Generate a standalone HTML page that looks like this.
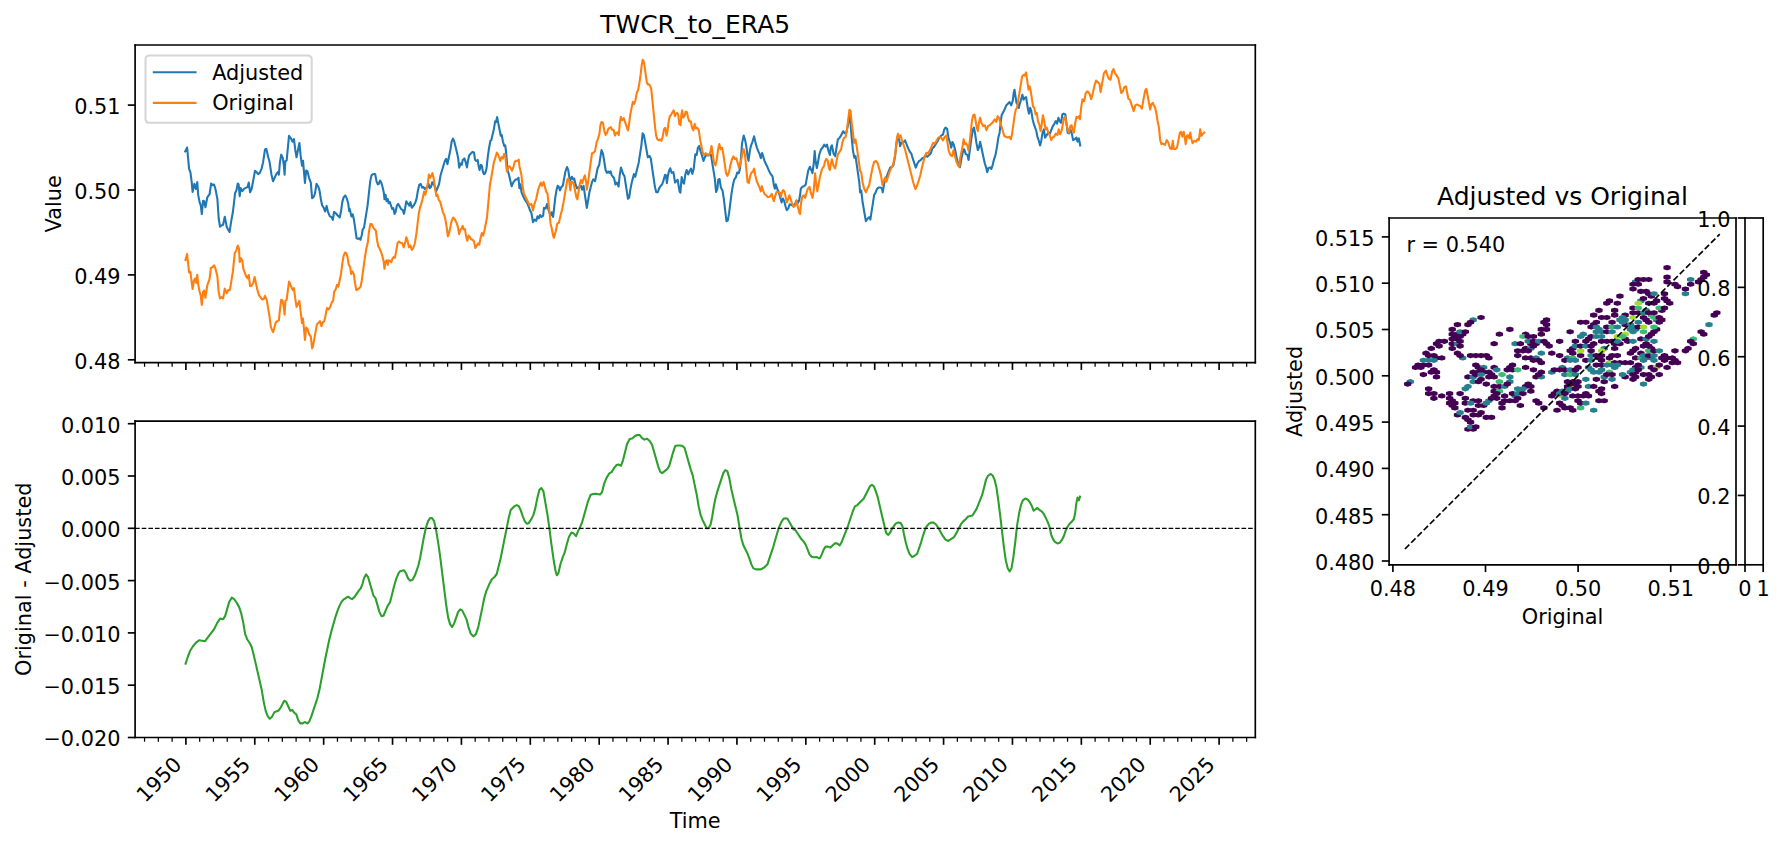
<!DOCTYPE html>
<html><head><meta charset="utf-8"><title>TWCR_to_ERA5</title>
<style>html,body{margin:0;padding:0;background:#fff}svg{display:block}</style></head>
<body>
<svg width="1784" height="848" viewBox="0 0 856.32 407.04">
 
 <defs>
  <style type="text/css">*{stroke-linejoin: round; stroke-linecap: butt}</style>
 </defs>
 <g id="figure_1">
  <g id="patch_1">
   <path d="M 0 407.04 
L 856.32 407.04 
L 856.32 0 
L 0 0 
z
" style="fill: #ffffff"/>
  </g>
  <g id="axes_1">
   <g id="patch_2">
    <path d="M 64.848 174.048 
L 602.544 174.048 
L 602.544 21.6 
L 64.848 21.6 
z
" style="fill: #ffffff"/>
   </g>
   <g id="matplotlib.axis_1">
    <g id="xtick_1">
     <g id="line2d_1">
      <defs>
       <path id="m099f7e1c39" d="M 0 0 
L 0 3.5 
" style="stroke: #000000; stroke-width: 0.8"/>
      </defs>
      <g>
       <use href="#m099f7e1c39" x="89.232" y="174.048" style="stroke: #000000; stroke-width: 0.8"/>
      </g>
     </g>
    </g>
    <g id="xtick_2">
     <g id="line2d_2">
      <g>
       <use href="#m099f7e1c39" x="122.2944" y="174.048" style="stroke: #000000; stroke-width: 0.8"/>
      </g>
     </g>
    </g>
    <g id="xtick_3">
     <g id="line2d_3">
      <g>
       <use href="#m099f7e1c39" x="155.3568" y="174.048" style="stroke: #000000; stroke-width: 0.8"/>
      </g>
     </g>
    </g>
    <g id="xtick_4">
     <g id="line2d_4">
      <g>
       <use href="#m099f7e1c39" x="188.4192" y="174.048" style="stroke: #000000; stroke-width: 0.8"/>
      </g>
     </g>
    </g>
    <g id="xtick_5">
     <g id="line2d_5">
      <g>
       <use href="#m099f7e1c39" x="221.4816" y="174.048" style="stroke: #000000; stroke-width: 0.8"/>
      </g>
     </g>
    </g>
    <g id="xtick_6">
     <g id="line2d_6">
      <g>
       <use href="#m099f7e1c39" x="254.544" y="174.048" style="stroke: #000000; stroke-width: 0.8"/>
      </g>
     </g>
    </g>
    <g id="xtick_7">
     <g id="line2d_7">
      <g>
       <use href="#m099f7e1c39" x="287.6064" y="174.048" style="stroke: #000000; stroke-width: 0.8"/>
      </g>
     </g>
    </g>
    <g id="xtick_8">
     <g id="line2d_8">
      <g>
       <use href="#m099f7e1c39" x="320.6688" y="174.048" style="stroke: #000000; stroke-width: 0.8"/>
      </g>
     </g>
    </g>
    <g id="xtick_9">
     <g id="line2d_9">
      <g>
       <use href="#m099f7e1c39" x="353.7312" y="174.048" style="stroke: #000000; stroke-width: 0.8"/>
      </g>
     </g>
    </g>
    <g id="xtick_10">
     <g id="line2d_10">
      <g>
       <use href="#m099f7e1c39" x="386.7936" y="174.048" style="stroke: #000000; stroke-width: 0.8"/>
      </g>
     </g>
    </g>
    <g id="xtick_11">
     <g id="line2d_11">
      <g>
       <use href="#m099f7e1c39" x="419.856" y="174.048" style="stroke: #000000; stroke-width: 0.8"/>
      </g>
     </g>
    </g>
    <g id="xtick_12">
     <g id="line2d_12">
      <g>
       <use href="#m099f7e1c39" x="452.9184" y="174.048" style="stroke: #000000; stroke-width: 0.8"/>
      </g>
     </g>
    </g>
    <g id="xtick_13">
     <g id="line2d_13">
      <g>
       <use href="#m099f7e1c39" x="485.9808" y="174.048" style="stroke: #000000; stroke-width: 0.8"/>
      </g>
     </g>
    </g>
    <g id="xtick_14">
     <g id="line2d_14">
      <g>
       <use href="#m099f7e1c39" x="519.0432" y="174.048" style="stroke: #000000; stroke-width: 0.8"/>
      </g>
     </g>
    </g>
    <g id="xtick_15">
     <g id="line2d_15">
      <g>
       <use href="#m099f7e1c39" x="552.1056" y="174.048" style="stroke: #000000; stroke-width: 0.8"/>
      </g>
     </g>
    </g>
    <g id="xtick_16">
     <g id="line2d_16">
      <g>
       <use href="#m099f7e1c39" x="585.168" y="174.048" style="stroke: #000000; stroke-width: 0.8"/>
      </g>
     </g>
    </g>
    <g id="xtick_17">
     <g id="line2d_17">
      <defs>
       <path id="me661bc850e" d="M 0 0 
L 0 2 
" style="stroke: #000000; stroke-width: 0.6"/>
      </defs>
      <g>
       <use href="#me661bc850e" x="69.39456" y="174.048" style="stroke: #000000; stroke-width: 0.6"/>
      </g>
     </g>
    </g>
    <g id="xtick_18">
     <g id="line2d_18">
      <g>
       <use href="#me661bc850e" x="76.00704" y="174.048" style="stroke: #000000; stroke-width: 0.6"/>
      </g>
     </g>
    </g>
    <g id="xtick_19">
     <g id="line2d_19">
      <g>
       <use href="#me661bc850e" x="82.61952" y="174.048" style="stroke: #000000; stroke-width: 0.6"/>
      </g>
     </g>
    </g>
    <g id="xtick_20">
     <g id="line2d_20">
      <g>
       <use href="#me661bc850e" x="95.84448" y="174.048" style="stroke: #000000; stroke-width: 0.6"/>
      </g>
     </g>
    </g>
    <g id="xtick_21">
     <g id="line2d_21">
      <g>
       <use href="#me661bc850e" x="102.45696" y="174.048" style="stroke: #000000; stroke-width: 0.6"/>
      </g>
     </g>
    </g>
    <g id="xtick_22">
     <g id="line2d_22">
      <g>
       <use href="#me661bc850e" x="109.06944" y="174.048" style="stroke: #000000; stroke-width: 0.6"/>
      </g>
     </g>
    </g>
    <g id="xtick_23">
     <g id="line2d_23">
      <g>
       <use href="#me661bc850e" x="115.68192" y="174.048" style="stroke: #000000; stroke-width: 0.6"/>
      </g>
     </g>
    </g>
    <g id="xtick_24">
     <g id="line2d_24">
      <g>
       <use href="#me661bc850e" x="128.90688" y="174.048" style="stroke: #000000; stroke-width: 0.6"/>
      </g>
     </g>
    </g>
    <g id="xtick_25">
     <g id="line2d_25">
      <g>
       <use href="#me661bc850e" x="135.51936" y="174.048" style="stroke: #000000; stroke-width: 0.6"/>
      </g>
     </g>
    </g>
    <g id="xtick_26">
     <g id="line2d_26">
      <g>
       <use href="#me661bc850e" x="142.13184" y="174.048" style="stroke: #000000; stroke-width: 0.6"/>
      </g>
     </g>
    </g>
    <g id="xtick_27">
     <g id="line2d_27">
      <g>
       <use href="#me661bc850e" x="148.74432" y="174.048" style="stroke: #000000; stroke-width: 0.6"/>
      </g>
     </g>
    </g>
    <g id="xtick_28">
     <g id="line2d_28">
      <g>
       <use href="#me661bc850e" x="161.96928" y="174.048" style="stroke: #000000; stroke-width: 0.6"/>
      </g>
     </g>
    </g>
    <g id="xtick_29">
     <g id="line2d_29">
      <g>
       <use href="#me661bc850e" x="168.58176" y="174.048" style="stroke: #000000; stroke-width: 0.6"/>
      </g>
     </g>
    </g>
    <g id="xtick_30">
     <g id="line2d_30">
      <g>
       <use href="#me661bc850e" x="175.19424" y="174.048" style="stroke: #000000; stroke-width: 0.6"/>
      </g>
     </g>
    </g>
    <g id="xtick_31">
     <g id="line2d_31">
      <g>
       <use href="#me661bc850e" x="181.80672" y="174.048" style="stroke: #000000; stroke-width: 0.6"/>
      </g>
     </g>
    </g>
    <g id="xtick_32">
     <g id="line2d_32">
      <g>
       <use href="#me661bc850e" x="195.03168" y="174.048" style="stroke: #000000; stroke-width: 0.6"/>
      </g>
     </g>
    </g>
    <g id="xtick_33">
     <g id="line2d_33">
      <g>
       <use href="#me661bc850e" x="201.64416" y="174.048" style="stroke: #000000; stroke-width: 0.6"/>
      </g>
     </g>
    </g>
    <g id="xtick_34">
     <g id="line2d_34">
      <g>
       <use href="#me661bc850e" x="208.25664" y="174.048" style="stroke: #000000; stroke-width: 0.6"/>
      </g>
     </g>
    </g>
    <g id="xtick_35">
     <g id="line2d_35">
      <g>
       <use href="#me661bc850e" x="214.86912" y="174.048" style="stroke: #000000; stroke-width: 0.6"/>
      </g>
     </g>
    </g>
    <g id="xtick_36">
     <g id="line2d_36">
      <g>
       <use href="#me661bc850e" x="228.09408" y="174.048" style="stroke: #000000; stroke-width: 0.6"/>
      </g>
     </g>
    </g>
    <g id="xtick_37">
     <g id="line2d_37">
      <g>
       <use href="#me661bc850e" x="234.70656" y="174.048" style="stroke: #000000; stroke-width: 0.6"/>
      </g>
     </g>
    </g>
    <g id="xtick_38">
     <g id="line2d_38">
      <g>
       <use href="#me661bc850e" x="241.31904" y="174.048" style="stroke: #000000; stroke-width: 0.6"/>
      </g>
     </g>
    </g>
    <g id="xtick_39">
     <g id="line2d_39">
      <g>
       <use href="#me661bc850e" x="247.93152" y="174.048" style="stroke: #000000; stroke-width: 0.6"/>
      </g>
     </g>
    </g>
    <g id="xtick_40">
     <g id="line2d_40">
      <g>
       <use href="#me661bc850e" x="261.15648" y="174.048" style="stroke: #000000; stroke-width: 0.6"/>
      </g>
     </g>
    </g>
    <g id="xtick_41">
     <g id="line2d_41">
      <g>
       <use href="#me661bc850e" x="267.76896" y="174.048" style="stroke: #000000; stroke-width: 0.6"/>
      </g>
     </g>
    </g>
    <g id="xtick_42">
     <g id="line2d_42">
      <g>
       <use href="#me661bc850e" x="274.38144" y="174.048" style="stroke: #000000; stroke-width: 0.6"/>
      </g>
     </g>
    </g>
    <g id="xtick_43">
     <g id="line2d_43">
      <g>
       <use href="#me661bc850e" x="280.99392" y="174.048" style="stroke: #000000; stroke-width: 0.6"/>
      </g>
     </g>
    </g>
    <g id="xtick_44">
     <g id="line2d_44">
      <g>
       <use href="#me661bc850e" x="294.21888" y="174.048" style="stroke: #000000; stroke-width: 0.6"/>
      </g>
     </g>
    </g>
    <g id="xtick_45">
     <g id="line2d_45">
      <g>
       <use href="#me661bc850e" x="300.83136" y="174.048" style="stroke: #000000; stroke-width: 0.6"/>
      </g>
     </g>
    </g>
    <g id="xtick_46">
     <g id="line2d_46">
      <g>
       <use href="#me661bc850e" x="307.44384" y="174.048" style="stroke: #000000; stroke-width: 0.6"/>
      </g>
     </g>
    </g>
    <g id="xtick_47">
     <g id="line2d_47">
      <g>
       <use href="#me661bc850e" x="314.05632" y="174.048" style="stroke: #000000; stroke-width: 0.6"/>
      </g>
     </g>
    </g>
    <g id="xtick_48">
     <g id="line2d_48">
      <g>
       <use href="#me661bc850e" x="327.28128" y="174.048" style="stroke: #000000; stroke-width: 0.6"/>
      </g>
     </g>
    </g>
    <g id="xtick_49">
     <g id="line2d_49">
      <g>
       <use href="#me661bc850e" x="333.89376" y="174.048" style="stroke: #000000; stroke-width: 0.6"/>
      </g>
     </g>
    </g>
    <g id="xtick_50">
     <g id="line2d_50">
      <g>
       <use href="#me661bc850e" x="340.50624" y="174.048" style="stroke: #000000; stroke-width: 0.6"/>
      </g>
     </g>
    </g>
    <g id="xtick_51">
     <g id="line2d_51">
      <g>
       <use href="#me661bc850e" x="347.11872" y="174.048" style="stroke: #000000; stroke-width: 0.6"/>
      </g>
     </g>
    </g>
    <g id="xtick_52">
     <g id="line2d_52">
      <g>
       <use href="#me661bc850e" x="360.34368" y="174.048" style="stroke: #000000; stroke-width: 0.6"/>
      </g>
     </g>
    </g>
    <g id="xtick_53">
     <g id="line2d_53">
      <g>
       <use href="#me661bc850e" x="366.95616" y="174.048" style="stroke: #000000; stroke-width: 0.6"/>
      </g>
     </g>
    </g>
    <g id="xtick_54">
     <g id="line2d_54">
      <g>
       <use href="#me661bc850e" x="373.56864" y="174.048" style="stroke: #000000; stroke-width: 0.6"/>
      </g>
     </g>
    </g>
    <g id="xtick_55">
     <g id="line2d_55">
      <g>
       <use href="#me661bc850e" x="380.18112" y="174.048" style="stroke: #000000; stroke-width: 0.6"/>
      </g>
     </g>
    </g>
    <g id="xtick_56">
     <g id="line2d_56">
      <g>
       <use href="#me661bc850e" x="393.40608" y="174.048" style="stroke: #000000; stroke-width: 0.6"/>
      </g>
     </g>
    </g>
    <g id="xtick_57">
     <g id="line2d_57">
      <g>
       <use href="#me661bc850e" x="400.01856" y="174.048" style="stroke: #000000; stroke-width: 0.6"/>
      </g>
     </g>
    </g>
    <g id="xtick_58">
     <g id="line2d_58">
      <g>
       <use href="#me661bc850e" x="406.63104" y="174.048" style="stroke: #000000; stroke-width: 0.6"/>
      </g>
     </g>
    </g>
    <g id="xtick_59">
     <g id="line2d_59">
      <g>
       <use href="#me661bc850e" x="413.24352" y="174.048" style="stroke: #000000; stroke-width: 0.6"/>
      </g>
     </g>
    </g>
    <g id="xtick_60">
     <g id="line2d_60">
      <g>
       <use href="#me661bc850e" x="426.46848" y="174.048" style="stroke: #000000; stroke-width: 0.6"/>
      </g>
     </g>
    </g>
    <g id="xtick_61">
     <g id="line2d_61">
      <g>
       <use href="#me661bc850e" x="433.08096" y="174.048" style="stroke: #000000; stroke-width: 0.6"/>
      </g>
     </g>
    </g>
    <g id="xtick_62">
     <g id="line2d_62">
      <g>
       <use href="#me661bc850e" x="439.69344" y="174.048" style="stroke: #000000; stroke-width: 0.6"/>
      </g>
     </g>
    </g>
    <g id="xtick_63">
     <g id="line2d_63">
      <g>
       <use href="#me661bc850e" x="446.30592" y="174.048" style="stroke: #000000; stroke-width: 0.6"/>
      </g>
     </g>
    </g>
    <g id="xtick_64">
     <g id="line2d_64">
      <g>
       <use href="#me661bc850e" x="459.53088" y="174.048" style="stroke: #000000; stroke-width: 0.6"/>
      </g>
     </g>
    </g>
    <g id="xtick_65">
     <g id="line2d_65">
      <g>
       <use href="#me661bc850e" x="466.14336" y="174.048" style="stroke: #000000; stroke-width: 0.6"/>
      </g>
     </g>
    </g>
    <g id="xtick_66">
     <g id="line2d_66">
      <g>
       <use href="#me661bc850e" x="472.75584" y="174.048" style="stroke: #000000; stroke-width: 0.6"/>
      </g>
     </g>
    </g>
    <g id="xtick_67">
     <g id="line2d_67">
      <g>
       <use href="#me661bc850e" x="479.36832" y="174.048" style="stroke: #000000; stroke-width: 0.6"/>
      </g>
     </g>
    </g>
    <g id="xtick_68">
     <g id="line2d_68">
      <g>
       <use href="#me661bc850e" x="492.59328" y="174.048" style="stroke: #000000; stroke-width: 0.6"/>
      </g>
     </g>
    </g>
    <g id="xtick_69">
     <g id="line2d_69">
      <g>
       <use href="#me661bc850e" x="499.20576" y="174.048" style="stroke: #000000; stroke-width: 0.6"/>
      </g>
     </g>
    </g>
    <g id="xtick_70">
     <g id="line2d_70">
      <g>
       <use href="#me661bc850e" x="505.81824" y="174.048" style="stroke: #000000; stroke-width: 0.6"/>
      </g>
     </g>
    </g>
    <g id="xtick_71">
     <g id="line2d_71">
      <g>
       <use href="#me661bc850e" x="512.43072" y="174.048" style="stroke: #000000; stroke-width: 0.6"/>
      </g>
     </g>
    </g>
    <g id="xtick_72">
     <g id="line2d_72">
      <g>
       <use href="#me661bc850e" x="525.65568" y="174.048" style="stroke: #000000; stroke-width: 0.6"/>
      </g>
     </g>
    </g>
    <g id="xtick_73">
     <g id="line2d_73">
      <g>
       <use href="#me661bc850e" x="532.26816" y="174.048" style="stroke: #000000; stroke-width: 0.6"/>
      </g>
     </g>
    </g>
    <g id="xtick_74">
     <g id="line2d_74">
      <g>
       <use href="#me661bc850e" x="538.88064" y="174.048" style="stroke: #000000; stroke-width: 0.6"/>
      </g>
     </g>
    </g>
    <g id="xtick_75">
     <g id="line2d_75">
      <g>
       <use href="#me661bc850e" x="545.49312" y="174.048" style="stroke: #000000; stroke-width: 0.6"/>
      </g>
     </g>
    </g>
    <g id="xtick_76">
     <g id="line2d_76">
      <g>
       <use href="#me661bc850e" x="558.71808" y="174.048" style="stroke: #000000; stroke-width: 0.6"/>
      </g>
     </g>
    </g>
    <g id="xtick_77">
     <g id="line2d_77">
      <g>
       <use href="#me661bc850e" x="565.33056" y="174.048" style="stroke: #000000; stroke-width: 0.6"/>
      </g>
     </g>
    </g>
    <g id="xtick_78">
     <g id="line2d_78">
      <g>
       <use href="#me661bc850e" x="571.94304" y="174.048" style="stroke: #000000; stroke-width: 0.6"/>
      </g>
     </g>
    </g>
    <g id="xtick_79">
     <g id="line2d_79">
      <g>
       <use href="#me661bc850e" x="578.55552" y="174.048" style="stroke: #000000; stroke-width: 0.6"/>
      </g>
     </g>
    </g>
    <g id="xtick_80">
     <g id="line2d_80">
      <g>
       <use href="#me661bc850e" x="591.78048" y="174.048" style="stroke: #000000; stroke-width: 0.6"/>
      </g>
     </g>
    </g>
    <g id="xtick_81">
     <g id="line2d_81">
      <g>
       <use href="#me661bc850e" x="598.39296" y="174.048" style="stroke: #000000; stroke-width: 0.6"/>
      </g>
     </g>
    </g>
   </g>
   <g id="matplotlib.axis_2">
    <g id="ytick_1">
     <g id="line2d_82">
      <defs>
       <path id="m580b80756e" d="M 0 0 
L -3.5 0 
" style="stroke: #000000; stroke-width: 0.8"/>
      </defs>
      <g>
       <use href="#m580b80756e" x="64.848" y="172.704" style="stroke: #000000; stroke-width: 0.8"/>
      </g>
     </g>
     <g id="text_1">
      <text style="font-size: 10px; font-family: 'DejaVu Sans', 'Liberation Sans', sans-serif; text-anchor: end" x="57.848" y="176.983219" transform="rotate(-0 57.848 176.983219)">0.48</text>
     </g>
    </g>
    <g id="ytick_2">
     <g id="line2d_83">
      <g>
       <use href="#m580b80756e" x="64.848" y="131.952" style="stroke: #000000; stroke-width: 0.8"/>
      </g>
     </g>
     <g id="text_2">
      <text style="font-size: 10px; font-family: 'DejaVu Sans', 'Liberation Sans', sans-serif; text-anchor: end" x="57.848" y="136.231219" transform="rotate(-0 57.848 136.231219)">0.49</text>
     </g>
    </g>
    <g id="ytick_3">
     <g id="line2d_84">
      <g>
       <use href="#m580b80756e" x="64.848" y="91.2" style="stroke: #000000; stroke-width: 0.8"/>
      </g>
     </g>
     <g id="text_3">
      <text style="font-size: 10px; font-family: 'DejaVu Sans', 'Liberation Sans', sans-serif; text-anchor: end" x="57.848" y="95.479219" transform="rotate(-0 57.848 95.479219)">0.50</text>
     </g>
    </g>
    <g id="ytick_4">
     <g id="line2d_85">
      <g>
       <use href="#m580b80756e" x="64.848" y="50.448" style="stroke: #000000; stroke-width: 0.8"/>
      </g>
     </g>
     <g id="text_4">
      <text style="font-size: 10px; font-family: 'DejaVu Sans', 'Liberation Sans', sans-serif; text-anchor: end" x="57.848" y="54.727219" transform="rotate(-0 57.848 54.727219)">0.51</text>
     </g>
    </g>
    <g id="text_5">
     <text style="font-size: 10px; font-family: 'DejaVu Sans', 'Liberation Sans', sans-serif; text-anchor: middle" x="29.502688" y="97.824" transform="rotate(-90 29.502688 97.824)">Value</text>
    </g>
   </g>
   <g id="line2d_86">
    <path d="M 88.891484 72.677372 
L 89.825791 70.808759 
L 90.760097 81.086131 
L 91.382968 82.643309 
L 92.005839 87.314842 
L 92.441849 92.173236 
L 93.251582 88.249148 
L 93.999027 90.740633 
L 94.684185 87.439416 
L 95.120195 93.543552 
L 95.86764 97.280779 
L 96.365937 98.526521 
L 96.864234 102.762044 
L 97.487105 96.346472 
L 97.985401 96.533333 
L 98.608273 99.460827 
L 99.480292 94.789294 
L 100.60146 93.232117 
L 101.348905 88.062287 
L 102.09635 88.872019 
L 102.719221 88.560584 
L 103.342092 90.429197 
L 104.338686 95.412165 
L 104.961557 104.755231 
L 105.584428 108.803893 
L 106.331873 108.181022 
L 107.079319 107.869586 
L 107.889051 104.007786 
L 108.823358 108.803893 
L 109.570803 110.361071 
L 110.193674 111.295377 
L 111.003406 106.000973 
L 111.813139 101.640876 
L 112.872019 92.609246 
L 113.494891 91.363504 
L 114.117762 88.062287 
L 114.553771 88.560584 
L 115.052068 94.166423 
L 115.550365 90.304623 
L 116.29781 91.674939 
L 117.232117 90.553771 
L 118.789294 89.806326 
L 119.412165 87.626277 
L 120.035036 92.29781 
L 120.782482 90.740633 
L 122.401946 82.020438 
L 123.149392 82.643309 
L 123.896837 83.577616 
L 124.706569 82.954745 
L 125.516302 81.086131 
L 126.263747 77.971776 
L 127.198054 71.743066 
L 127.820925 71.43163 
L 128.755231 75.480292 
L 129.378102 77.660341 
L 130.312409 83.889051 
L 131.059854 87.003406 
L 132.617032 83.577616 
L 133.551338 82.456448 
L 133.862774 83.889051 
L 134.361071 77.971776 
L 134.983942 74.23455 
L 135.731387 75.791727 
L 136.229684 79.217518 
L 136.603406 83.889051 
L 136.977129 77.348905 
L 137.6 77.03747 
L 138.721168 65.20292 
L 139.655474 66.448662 
L 140.465207 68.005839 
L 141.088078 66.760097 
L 141.710949 71.743066 
L 142.33382 75.480292 
L 143.704136 68.62871 
L 144.327007 74.857421 
L 144.949878 79.528954 
L 145.448175 77.224331 
L 146.382482 87.813139 
L 146.943066 81.833577 
L 147.565937 82.207299 
L 148.375669 85.446229 
L 149.185401 87.626277 
L 149.808273 95.10073 
L 150.555718 94.477859 
L 151.178589 92.920681 
L 151.926034 88.249148 
L 152.735766 89.494891 
L 153.358637 91.363504 
L 153.981509 95.412165 
L 154.60438 98.526521 
L 155.414112 99.772263 
L 156.036983 101.516302 
L 156.784428 98.837956 
L 157.407299 101.640876 
L 158.341606 103.820925 
L 159.151338 104.256934 
L 159.774209 105.502676 
L 160.334793 101.76545 
L 161.144526 102.263747 
L 161.891971 103.198054 
L 163.071533 104.389294 
L 163.694404 101.274939 
L 164.317275 96.914842 
L 164.940146 94.734793 
L 165.749878 93.800487 
L 166.497324 95.357664 
L 167.120195 97.537713 
L 167.618491 101.274939 
L 167.86764 100.340633 
L 168.677372 103.890998 
L 169.300243 102.832117 
L 169.923114 105.635036 
L 171.168856 114.355231 
L 171.791727 114.666667 
L 172.414599 114.355231 
L 173.03747 115.102676 
L 173.660341 112.798054 
L 174.09635 110.119708 
L 174.719221 109.372263 
L 176.46326 98.472019 
L 177.709002 86.948905 
L 178.331873 84.145985 
L 179.141606 83.523114 
L 180.075912 83.523114 
L 180.698783 86.948905 
L 181.321655 88.506083 
L 181.819951 88.319221 
L 182.380535 86.63747 
L 183.003406 87.571776 
L 183.626277 89.751825 
L 184.249148 92.554745 
L 184.560584 95.6691 
L 185.058881 93.489051 
L 185.557178 96.603406 
L 186.117762 95.544526 
L 186.553771 97.537713 
L 187.052068 96.914842 
L 188.29781 100.340633 
L 188.796107 99.904623 
L 189.356691 102.645255 
L 189.854988 101.89781 
L 190.477859 98.783455 
L 191.10073 97.849148 
L 192.533333 100.340633 
L 193.280779 100.776642 
L 193.90365 102.645255 
L 194.401946 100.340633 
L 195.024818 96.603406 
L 196.395134 98.658881 
L 197.018005 97.039416 
L 197.640876 99.717762 
L 198.575182 98.658881 
L 199.384915 97.226277 
L 200.007786 95.046229 
L 200.630657 91.309002 
L 201.253528 88.692944 
L 202.000973 88.319221 
L 202.623844 90.06326 
L 203.246715 89.751825 
L 203.869586 90.686131 
L 204.617032 90.06326 
L 205.239903 89.751825 
L 205.7382 88.319221 
L 206.236496 90.374696 
L 206.859367 89.751825 
L 207.482238 87.447202 
L 208.105109 88.319221 
L 208.727981 89.564964 
L 209.350852 91.807299 
L 210.721168 88.506083 
L 211.468613 84.145985 
L 213.524088 77.294404 
L 214.146959 76.235523 
L 214.76983 78.851582 
L 216.182968 71.980535 
L 216.805839 67.931873 
L 217.42871 66.561557 
L 218.051582 67.931873 
L 219.421898 73.537713 
L 219.920195 76.029197 
L 220.418491 80.513869 
L 221.041363 78.520681 
L 221.664234 79.143552 
L 222.100243 76.776642 
L 222.909976 76.029197 
L 223.532847 77.89781 
L 224.155718 80.389294 
L 224.591727 77.274939 
L 225.214599 74.472019 
L 226.771776 72.914842 
L 227.519221 73.226277 
L 228.017518 76.652068 
L 228.640389 77.274939 
L 229.26326 76.776642 
L 229.761557 79.766423 
L 230.197567 81.635036 
L 230.820438 79.143552 
L 231.256448 79.454988 
L 231.754745 82.257908 
L 232.253041 83.628224 
L 232.875912 83.192214 
L 233.498783 81.012165 
L 234.121655 75.406326 
L 234.744526 71.046229 
L 235.367397 67.620438 
L 235.803406 67.309002 
L 237.049148 62.014599 
L 237.672019 58.277372 
L 238.108029 58.588808 
L 238.606326 56.221898 
L 240.350365 65.128954 
L 240.786375 64.692944 
L 241.409246 67.931873 
L 242.032117 70.111922 
L 242.530414 69.800487 
L 242.966423 73.537713 
L 243.589294 81.635036 
L 244.212165 83.50365 
L 245.582482 89.420925 
L 246.392214 87.552311 
L 247.326521 86.306569 
L 248.260827 85.995134 
L 248.883698 85.372263 
L 249.319708 90.355231 
L 249.818005 88.486618 
L 250.316302 92.223844 
L 251.063747 94.092457 
L 251.998054 95.961071 
L 252.93236 97.206813 
L 253.866667 99.386861 
L 254.271533 100.706569 
L 255.081265 102.263747 
L 255.82871 106.623844 
L 256.576156 105.378102 
L 257.385888 106.000973 
L 258.008759 103.820925 
L 258.63163 104.755231 
L 259.254501 103.198054 
L 259.877372 104.13236 
L 260.687105 103.509489 
L 261.123114 99.772263 
L 261.932847 100.083698 
L 262.555718 97.90365 
L 263.178589 100.395134 
L 264.23747 103.509489 
L 264.860341 101.952311 
L 265.483212 104.13236 
L 266.542092 94.789294 
L 267.164964 91.052068 
L 267.66326 89.183455 
L 268.286131 89.806326 
L 268.784428 91.363504 
L 269.407299 89.806326 
L 270.154745 89.183455 
L 271.400487 82.331873 
L 272.147932 80.151825 
L 272.770803 81.709002 
L 273.2691 85.134793 
L 273.891971 86.380535 
L 274.514842 84.823358 
L 275.137713 86.0691 
L 275.63601 85.757664 
L 276.258881 88.560584 
L 277.006326 90.429197 
L 278.874939 89.183455 
L 279.373236 91.052068 
L 280.120681 89.183455 
L 281.677859 99.772263 
L 282.923601 92.29781 
L 284.169343 87.314842 
L 284.792214 86.0691 
L 285.601946 87.003406 
L 286.847689 80.774696 
L 287.595134 79.217518 
L 288.716302 72.054501 
L 289.463747 73.923114 
L 290.709489 81.709002 
L 291.33236 82.954745 
L 291.955231 82.331873 
L 292.453528 82.954745 
L 293.076399 82.207299 
L 293.512409 83.889051 
L 294.13528 84.823358 
L 294.758151 85.446229 
L 295.381022 88.560584 
L 296.003893 87.626277 
L 296.9382 89.494891 
L 297.436496 84.200487 
L 298.059367 80.46326 
L 299.118248 83.577616 
L 299.741119 84.511922 
L 301.422871 95.412165 
L 302.045742 94.789294 
L 302.544039 91.052068 
L 303.16691 87.937713 
L 304.288078 83.577616 
L 304.910949 84.823358 
L 306.592701 77.971776 
L 307.838443 69.874453 
L 308.461314 63.957178 
L 309.084185 64.891484 
L 310.952798 75.480292 
L 311.76253 74.857421 
L 312.385401 76.103163 
L 314.378589 89.806326 
L 315.00146 92.29781 
L 315.748905 92.29781 
L 316.371776 90.429197 
L 317.181509 89.183455 
L 317.80438 88.560584 
L 318.427251 86.691971 
L 319.236983 83.889051 
L 319.672993 84.200487 
L 320.109002 87.937713 
L 320.607299 84.200487 
L 321.23017 81.709002 
L 321.728467 80.774696 
L 322.351338 82.954745 
L 323.223358 82.643309 
L 324.03309 87.626277 
L 324.655961 86.691971 
L 325.278832 86.380535 
L 326.213139 91.986375 
L 326.582968 92.480779 
L 327.205839 85.006326 
L 327.82871 87.49781 
L 328.327007 88.120681 
L 328.949878 83.760584 
L 329.572749 81.580535 
L 330.320195 83.760584 
L 330.943066 82.203406 
L 331.690511 80.957664 
L 332.313382 83.449148 
L 332.936253 81.2691 
L 333.745985 74.106083 
L 334.368856 74.417518 
L 334.991727 70.991727 
L 335.614599 70.057421 
L 336.23747 72.548905 
L 336.860341 74.417518 
L 337.670073 77.220438 
L 338.417518 75.351825 
L 339.351825 74.106083 
L 340.286131 74.417518 
L 341.220438 74.106083 
L 343.089051 85.629197 
L 343.711922 92.169343 
L 344.334793 90.612165 
L 344.770803 86.252068 
L 345.393674 85.940633 
L 346.016545 89.989294 
L 346.826277 91.546472 
L 347.449148 95.595134 
L 348.694891 106.183942 
L 349.317762 105.872506 
L 349.940633 102.446715 
L 351.186375 92.480779 
L 351.809246 88.743552 
L 352.432117 86.252068 
L 353.241849 85.006326 
L 353.86472 82.826277 
L 354.612165 83.137713 
L 355.235036 80.646229 
L 355.733333 75.040389 
L 356.169343 68.811679 
L 356.979075 65.074453 
L 357.726521 67.565937 
L 358.349392 70.991727 
L 358.847689 75.351825 
L 359.283698 77.220438 
L 359.906569 72.548905 
L 360.52944 69.745985 
L 361.152311 68.188808 
L 361.962044 65.385888 
L 362.709489 68.811679 
L 363.33236 70.991727 
L 363.955231 72.548905 
L 364.578102 73.794647 
L 365.200973 75.974696 
L 365.823844 73.483212 
L 367.069586 77.531873 
L 368.003893 79.400487 
L 368.9382 81.580535 
L 369.872506 83.449148 
L 370.806813 84.694891 
L 371.429684 88.743552 
L 371.927981 90.612165 
L 372.36399 88.432117 
L 373.298297 91.235036 
L 373.921168 92.480779 
L 375.16691 97.152311 
L 375.789781 95.283698 
L 376.412652 96.52944 
L 377.035523 99.020925 
L 377.658394 100.889538 
L 378.405839 99.955231 
L 379.02871 98.086618 
L 380.772749 98.709489 
L 381.520195 98.086618 
L 382.329927 96.218005 
L 382.952798 97.463747 
L 383.575669 96.218005 
L 384.011679 93.726521 
L 384.385401 90.612165 
L 385.132847 89.677859 
L 385.880292 89.366423 
L 386.690024 88.743552 
L 387.935766 81.891971 
L 388.745499 80.023358 
L 389.991241 83.137713 
L 390.614112 78.154745 
L 391.050122 72.548905 
L 391.486131 77.531873 
L 392.109002 80.646229 
L 393.354745 73.794647 
L 394.164477 71.614599 
L 394.974209 70.680292 
L 395.59708 69.43455 
L 396.344526 70.368856 
L 396.967397 69.43455 
L 397.714842 72.548905 
L 398.337713 74.417518 
L 398.751703 70.939938 
L 399.306502 69.751084 
L 400.099071 73.713932 
L 400.891641 74.902786 
L 402.159752 66.97709 
L 402.952322 66.18452 
L 403.744892 64.995666 
L 404.695975 63.014241 
L 405.488545 63.965325 
L 406.281115 63.410526 
L 407.073684 59.843963 
L 407.70774 55.088545 
L 408.262539 59.051393 
L 408.817337 66.18452 
L 409.451393 72.525077 
L 410.085449 75.695356 
L 410.640248 74.902786 
L 412.463158 87.583901 
L 412.859443 92.339319 
L 413.414241 91.546749 
L 414.048297 97.094737 
L 415.633437 106.209288 
L 416.426006 105.020433 
L 417.218576 104.227864 
L 417.773375 105.416718 
L 419.596285 93.528173 
L 420.151084 92.735604 
L 420.943653 90.75418 
L 421.736223 89.96161 
L 422.528793 89.96161 
L 423.321362 90.357895 
L 423.717647 92.339319 
L 424.351703 88.376471 
L 424.906502 85.998762 
L 425.699071 84.413622 
L 427.284211 80.450774 
L 428.07678 80.054489 
L 428.86935 79.26192 
L 429.66192 74.902786 
L 430.216718 69.354799 
L 430.850774 65.39195 
L 431.48483 66.18452 
L 432.039628 70.147368 
L 432.594427 68.562229 
L 433.386997 68.562229 
L 434.417337 67.373375 
L 436.002477 71.336223 
L 436.795046 72.921362 
L 437.429102 73.713932 
L 437.983901 75.695356 
L 439.56904 80.450774 
L 440.36161 78.46935 
L 441.15418 77.280495 
L 441.946749 76.884211 
L 442.580805 76.091641 
L 443.531889 75.695356 
L 444.324458 74.506502 
L 445.117028 75.299071 
L 446.702167 73.713932 
L 447.494737 71.336223 
L 448.287307 70.543653 
L 450.03096 67.769659 
L 450.823529 66.18452 
L 451.85387 64.995666 
L 452.64644 64.599381 
L 453.201238 62.221672 
L 453.835294 61.270588 
L 454.627864 61.825387 
L 455.26192 66.18452 
L 456.054489 68.562229 
L 456.609288 70.939938 
L 457.164087 68.165944 
L 457.798142 69.354799 
L 458.590712 72.525077 
L 459.383282 76.487926 
L 460.175851 79.658204 
L 460.8 80.317028 
L 461.434056 76.35418 
L 462.226625 72.787616 
L 462.781424 71.598762 
L 463.573994 73.976471 
L 464.366563 74.372755 
L 464.921362 76.750464 
L 466.189474 66.843344 
L 466.982043 62.087926 
L 467.536842 61.295356 
L 468.091641 64.465635 
L 468.725697 68.824768 
L 469.359752 71.995046 
L 469.914551 70.806192 
L 470.46935 68.032198 
L 471.895975 74.76904 
L 472.688545 78.335604 
L 473.322601 80.317028 
L 473.877399 82.694737 
L 474.432198 80.713313 
L 475.224768 80.317028 
L 475.858824 81.109598 
L 476.492879 79.128173 
L 477.047678 76.750464 
L 477.840248 74.372755 
L 478.632817 70.013622 
L 479.187616 66.050774 
L 479.821672 63.673065 
L 480.297214 58.917647 
L 480.772755 55.351084 
L 482.199381 52.57709 
L 482.99195 50.595666 
L 484.57709 49.010526 
L 485.369659 50.595666 
L 486.162229 48.217957 
L 486.558514 44.651393 
L 486.954799 43.066254 
L 487.905882 49.406811 
L 488.539938 50.199381 
L 489.01548 51.78452 
L 489.491022 49.803096 
L 490.125077 47.821672 
L 490.759133 45.443963 
L 491.313932 47.821672 
L 491.868731 47.029102 
L 492.502786 46.632817 
L 493.45387 52.57709 
L 493.929412 54.558514 
L 494.484211 51.78452 
L 495.039009 53.369659 
L 495.673065 57.332508 
L 496.307121 59.710217 
L 497.416718 62.880495 
L 498.050774 66.050774 
L 498.68483 67.635913 
L 499.239628 69.855108 
L 499.794427 67.635913 
L 500.428483 63.673065 
L 501.062539 62.087926 
L 501.617337 66.050774 
L 503.202477 63.673065 
L 503.995046 64.06935 
L 505.342415 60.502786 
L 506.134985 59.313932 
L 506.76904 58.125077 
L 507.403096 59.313932 
L 508.037152 56.539938 
L 508.671207 58.125077 
L 509.305263 58.917647 
L 509.939319 54.954799 
L 510.573375 54.558514 
L 511.365944 54.954799 
L 512.475542 63.673065 
L 513.109598 64.06935 
L 513.743653 62.087926 
L 514.377709 63.673065 
L 515.091022 67.239628 
L 515.883591 66.843344 
L 516.676161 66.050774 
L 517.23096 68.032198 
L 517.865015 66.447059 
L 518.499071 69.855108 
L 518.499071 69.855108 
" clip-path="url(#pf5aa613f86)" style="fill: none; stroke: #1f77b4; stroke-linecap: square"/>
   </g>
   <g id="line2d_87">
    <path d="M 89.016058 124.854501 
L 89.825791 121.927007 
L 90.760097 130.771776 
L 91.382968 130.460341 
L 92.441849 138.744526 
L 93.127007 134.509002 
L 93.749878 133.574696 
L 94.185888 135.754745 
L 94.684185 131.892944 
L 95.120195 136.377616 
L 95.743066 139.803406 
L 96.365937 141.983455 
L 96.864234 146.343552 
L 97.487105 140.114842 
L 97.985401 139.491971 
L 98.608273 142.917762 
L 99.480292 137.000487 
L 100.60146 133.886131 
L 101.224331 128.591727 
L 101.971776 128.280292 
L 102.719221 127.345985 
L 103.342092 128.591727 
L 104.338686 132.640389 
L 104.961557 140.114842 
L 105.584428 143.229197 
L 106.331873 142.606326 
L 107.079319 143.229197 
L 107.889051 138.557664 
L 108.823358 140.737713 
L 109.570803 139.180535 
L 110.380535 139.180535 
L 111.813139 130.148905 
L 112.685158 121.42871 
L 113.308029 120.494404 
L 114.117762 117.816058 
L 114.740633 119.560097 
L 115.052068 125.788808 
L 115.674939 123.920195 
L 116.29781 125.165937 
L 116.796107 128.903163 
L 117.418978 130.771776 
L 118.166423 132.640389 
L 118.789294 133.574696 
L 119.412165 132.017518 
L 120.035036 137.311922 
L 120.782482 137.125061 
L 121.592214 135.754745 
L 122.215085 132.951825 
L 123.460827 138.8691 
L 124.27056 141.672019 
L 125.018005 142.606326 
L 125.76545 143.727494 
L 126.575182 143.540633 
L 127.198054 141.983455 
L 128.007786 143.852068 
L 129.378102 151.949392 
L 130.000973 156.93236 
L 130.623844 158.489538 
L 131.122141 159.423844 
L 132.367883 154.752311 
L 133.115328 154.12944 
L 133.862774 153.818005 
L 134.361071 148.835036 
L 134.983942 143.852068 
L 135.606813 144.163504 
L 136.229684 147.589294 
L 136.603406 151.015085 
L 136.977129 144.474939 
L 137.6 143.852068 
L 138.721168 135.131873 
L 140.465207 139.180535 
L 141.088078 138.246229 
L 141.710949 143.229197 
L 142.33382 147.277859 
L 143.704136 144.474939 
L 144.949878 155.063747 
L 145.448175 152.883698 
L 146.382482 163.161071 
L 146.943066 157.243796 
L 147.565937 157.866667 
L 148.375669 160.358151 
L 149.185401 161.603893 
L 149.808273 167.209732 
L 150.244282 166.275426 
L 152.112895 155.686618 
L 153.545499 154.12944 
L 154.292944 156.620925 
L 154.915815 154.752311 
L 155.66326 154.12944 
L 156.286131 151.326521 
L 156.909002 147.90073 
L 157.718735 148.523601 
L 158.528467 147.277859 
L 159.275912 145.09781 
L 159.898783 144.474939 
L 160.39708 140.114842 
L 161.144526 138.8691 
L 161.767397 136.689051 
L 162.390268 137.623358 
L 163.690511 131.50365 
L 164.313382 126.520681 
L 164.936253 122.783455 
L 165.559124 121.226277 
L 166.181995 121.537713 
L 166.804866 123.406326 
L 167.427737 127.143552 
L 168.050608 128.077859 
L 168.548905 131.50365 
L 169.171776 130.257908 
L 169.794647 131.50365 
L 170.417518 135.863747 
L 171.040389 139.289538 
L 171.66326 138.978102 
L 173.033577 137.73236 
L 173.656448 134.618005 
L 175.089051 124.029197 
L 175.898783 119.046229 
L 176.521655 116.554745 
L 177.144526 110.948905 
L 177.767397 107.523114 
L 178.390268 107.523114 
L 179.137713 109.080292 
L 179.760584 110.014599 
L 180.383455 110.63747 
L 181.006326 115.309002 
L 181.629197 118.423358 
L 182.252068 119.357664 
L 182.874939 120.914842 
L 183.49781 122.783455 
L 184.120681 125.274939 
L 184.556691 129.012165 
L 185.054988 125.586375 
L 185.677859 124.963504 
L 186.113869 127.143552 
L 186.612165 124.963504 
L 187.235036 125.274939 
L 187.857908 125.89781 
L 188.29781 124.321168 
L 188.920681 123.386861 
L 189.543552 123.698297 
L 190.166423 120.583942 
L 190.789294 116.846715 
L 191.412165 115.912409 
L 192.346472 116.53528 
L 193.156204 116.722141 
L 193.779075 118.715328 
L 194.401946 116.846715 
L 195.024818 113.856934 
L 195.647689 115.600973 
L 196.27056 118.715328 
L 197.018005 117.781022 
L 197.640876 119.961071 
L 198.388321 119.026764 
L 199.198054 116.53528 
L 199.820925 112.486618 
L 201.066667 102.209246 
L 201.689538 99.406326 
L 202.312409 97.537713 
L 202.93528 95.046229 
L 203.558151 91.931873 
L 204.181022 93.489051 
L 205.426764 87.571776 
L 205.862774 83.83455 
L 206.485645 85.391727 
L 207.606813 83.087105 
L 208.229684 86.014599 
L 208.852555 90.686131 
L 209.475426 94.111922 
L 209.973723 93.489051 
L 210.596594 95.980535 
L 211.344039 96.914842 
L 212.589781 101.89781 
L 213.212652 103.143552 
L 213.835523 105.635036 
L 214.458394 109.372263 
L 214.956691 113.420925 
L 215.579562 111.863747 
L 216.825304 105.946472 
L 217.572749 104.389294 
L 218.320195 105.323601 
L 219.129927 106.880779 
L 219.752798 108.749392 
L 220.375669 112.362044 
L 220.99854 110.306569 
L 221.621411 109.683698 
L 222.057421 108.437956 
L 222.555718 110.119708 
L 223.178589 109.995134 
L 223.80146 113.73236 
L 224.299757 115.600973 
L 224.922628 113.109489 
L 225.545499 113.73236 
L 226.16837 114.978102 
L 226.791241 114.978102 
L 227.538686 115.912409 
L 228.161557 119.026764 
L 228.784428 118.092457 
L 229.407299 116.846715 
L 230.03017 117.469586 
L 230.653041 114.355231 
L 231.275912 111.863747 
L 231.898783 113.109489 
L 232.521655 110.618005 
L 233.767397 104.389294 
L 235.180535 88.486618 
L 235.803406 85.372263 
L 237.049148 77.89781 
L 237.485158 76.652068 
L 238.481752 73.226277 
L 239.104623 74.160584 
L 240.163504 77.274939 
L 240.786375 75.406326 
L 241.409246 76.029197 
L 242.032117 73.849148 
L 242.468127 74.160584 
L 243.277859 82.257908 
L 243.90073 80.389294 
L 244.523601 79.766423 
L 245.146472 80.70073 
L 245.769343 81.946472 
L 246.392214 80.389294 
L 247.015085 77.89781 
L 247.637956 77.150365 
L 248.385401 77.274939 
L 249.008273 76.652068 
L 249.319708 79.766423 
L 250.222871 83.577616 
L 250.845742 89.183455 
L 251.468613 92.920681 
L 252.40292 94.789294 
L 254.084672 98.526521 
L 255.081265 97.90365 
L 255.82871 101.018005 
L 256.451582 98.215085 
L 257.385888 95.412165 
L 258.320195 91.052068 
L 259.565937 87.626277 
L 260.188808 89.183455 
L 260.936253 87.314842 
L 262.181995 91.986375 
L 262.804866 92.920681 
L 263.80146 102.263747 
L 264.23747 107.246715 
L 264.860341 109.7382 
L 265.483212 113.16399 
L 265.919221 114.098297 
L 266.728954 110.983942 
L 267.538686 107.246715 
L 268.286131 106.93528 
L 269.033577 103.509489 
L 269.843309 100.395134 
L 270.46618 97.280779 
L 272.334793 86.0691 
L 272.770803 85.757664 
L 273.2691 87.314842 
L 273.767397 91.363504 
L 274.203406 87.314842 
L 274.826277 87.314842 
L 275.449148 88.560584 
L 276.694891 94.789294 
L 277.1309 95.723601 
L 278.252068 88.560584 
L 278.874939 86.380535 
L 279.49781 87.937713 
L 280.120681 85.757664 
L 280.743552 84.200487 
L 281.366423 87.314842 
L 281.677859 91.052068 
L 282.30073 87.314842 
L 283.546472 77.971776 
L 284.169343 73.611679 
L 284.792214 73.300243 
L 285.601946 72.677372 
L 286.349392 68.317275 
L 286.972263 66.760097 
L 287.719708 64.268613 
L 288.182968 60.126521 
L 288.681265 58.569343 
L 289.42871 59.005353 
L 290.051582 62.618005 
L 290.674453 64.798054 
L 291.297324 63.863747 
L 291.920195 61.995134 
L 292.543066 61.372263 
L 293.165937 61.060827 
L 293.788808 62.306569 
L 294.536253 62.306569 
L 295.159124 65.109489 
L 295.781995 63.863747 
L 296.404866 63.552311 
L 297.027737 64.798054 
L 297.526034 58.880779 
L 298.024331 56.077859 
L 298.647202 57.635036 
L 299.394647 56.70073 
L 301.387835 62.618005 
L 301.886131 60.126521 
L 302.509002 55.143552 
L 303.754745 48.914842 
L 304.377616 49.849148 
L 305.000487 48.291971 
L 305.623358 44.554745 
L 306.246229 43.309002 
L 306.8691 40.194647 
L 307.491971 35.83455 
L 307.990268 31.474453 
L 308.488564 28.671533 
L 309.049148 29.605839 
L 310.481752 39.571776 
L 310.980049 40.506083 
L 311.540633 40.506083 
L 312.163504 41.440389 
L 312.599513 42.686131 
L 314.468127 61.372263 
L 314.966423 65.109489 
L 315.46472 66.666667 
L 316.087591 67.289538 
L 316.835036 66.978102 
L 317.457908 67.600973 
L 318.080779 65.73236 
L 318.70365 61.995134 
L 319.326521 61.372263 
L 319.949392 65.109489 
L 320.447689 62.618005 
L 320.883698 58.880779 
L 321.506569 55.766423 
L 322.12944 55.143552 
L 322.752311 53.89781 
L 323.375182 52.963504 
L 323.998054 55.766423 
L 324.434063 54.520681 
L 325.056934 54.209246 
L 325.555231 55.143552 
L 326.053528 59.50365 
L 326.676399 60.126521 
L 327.050122 55.143552 
L 327.423844 52.963504 
L 327.922141 56.389294 
L 328.545012 55.766423 
L 329.167883 53.586375 
L 329.790754 53.89781 
L 330.226764 56.389294 
L 330.849635 58.257908 
L 331.565937 58.222871 
L 332.188808 61.337226 
L 332.811679 62.582968 
L 333.43455 59.468613 
L 334.057421 61.648662 
L 334.680292 61.337226 
L 335.427737 62.582968 
L 336.050608 66.943066 
L 337.29635 73.171776 
L 337.919221 74.417518 
L 338.728954 73.483212 
L 339.66326 74.728954 
L 340.286131 74.728954 
L 340.909002 73.171776 
L 341.531873 70.057421 
L 342.653041 77.531873 
L 343.400487 79.400487 
L 344.023358 76.909002 
L 344.646229 71.926034 
L 345.2691 69.123114 
L 345.891971 71.614599 
L 346.639416 70.991727 
L 347.262287 74.417518 
L 348.508029 83.137713 
L 349.1309 84.383455 
L 349.940633 82.514842 
L 350.563504 79.400487 
L 351.186375 76.909002 
L 351.996107 75.040389 
L 352.743552 76.286131 
L 353.490998 75.974696 
L 354.73674 80.646229 
L 355.359611 78.777616 
L 355.982482 75.66326 
L 356.480779 72.548905 
L 356.979075 71.614599 
L 357.601946 74.417518 
L 358.847689 87.49781 
L 359.47056 87.809246 
L 360.093431 84.383455 
L 360.716302 82.826277 
L 361.339173 82.514842 
L 361.962044 80.957664 
L 362.584915 84.383455 
L 363.207786 86.874939 
L 363.955231 88.743552 
L 364.578102 89.989294 
L 365.200973 91.857908 
L 365.69927 89.366423 
L 366.322141 91.546472 
L 366.945012 93.10365 
L 367.692457 93.726521 
L 368.626764 94.660827 
L 369.561071 94.349392 
L 370.495377 93.10365 
L 370.931387 94.972263 
L 371.429684 96.52944 
L 372.675426 92.169343 
L 373.609732 92.169343 
L 374.419465 92.480779 
L 374.855474 94.349392 
L 375.291484 92.480779 
L 375.914355 91.235036 
L 376.537226 91.857908 
L 377.658394 97.152311 
L 378.281265 95.595134 
L 378.904136 93.726521 
L 380.149878 97.463747 
L 380.897324 99.33236 
L 381.707056 98.709489 
L 382.329927 96.52944 
L 383.575669 101.823844 
L 384.011679 102.758151 
L 384.509976 97.463747 
L 385.132847 94.349392 
L 385.755718 93.726521 
L 386.503163 94.972263 
L 387.126034 92.480779 
L 387.748905 90.612165 
L 388.558637 89.677859 
L 389.181509 92.480779 
L 389.991241 94.972263 
L 390.614112 91.235036 
L 391.236983 83.137713 
L 391.672993 87.49781 
L 392.295864 91.857908 
L 393.541606 85.006326 
L 394.164477 82.514842 
L 394.787348 80.646229 
L 395.410219 80.023358 
L 396.03309 77.531873 
L 396.655961 76.286131 
L 397.278832 76.909002 
L 397.901703 80.646229 
L 398.337713 81.580535 
L 398.751703 78.865635 
L 399.306502 76.487926 
L 400.099071 79.658204 
L 400.891641 80.847059 
L 402.159752 74.110217 
L 403.744892 71.732508 
L 404.29969 68.562229 
L 405.09226 66.18452 
L 405.88483 65.788235 
L 406.439628 63.014241 
L 407.70774 52.710836 
L 408.262539 53.107121 
L 408.817337 59.051393 
L 410.006192 68.562229 
L 410.640248 66.97709 
L 411.195046 70.147368 
L 412.859443 82.035913 
L 413.414241 82.828483 
L 414.048297 87.583901 
L 414.840867 90.75418 
L 415.633437 92.339319 
L 416.426006 90.357895 
L 417.218576 88.772755 
L 418.803715 80.450774 
L 419.596285 77.67678 
L 420.547368 77.280495 
L 421.339938 78.46935 
L 422.925077 84.413622 
L 423.559133 88.772755 
L 424.351703 86.395046 
L 424.906502 85.206192 
L 425.4613 87.187616 
L 426.887926 82.828483 
L 427.680495 80.847059 
L 428.473065 79.658204 
L 429.265635 76.487926 
L 429.89969 72.525077 
L 430.454489 66.97709 
L 431.009288 64.203096 
L 431.643344 66.18452 
L 432.277399 64.995666 
L 432.832198 66.97709 
L 434.417337 71.732508 
L 438.380186 87.583901 
L 439.410526 90.75418 
L 440.203096 89.16904 
L 441.788235 84.017337 
L 442.343034 81.243344 
L 443.928173 74.902786 
L 444.720743 73.317647 
L 445.513313 73.713932 
L 447.098452 70.543653 
L 447.891022 68.562229 
L 448.683591 68.958514 
L 449.476161 67.769659 
L 450.268731 66.18452 
L 451.0613 65.788235 
L 451.85387 66.18452 
L 452.64644 67.373375 
L 453.439009 65.788235 
L 454.231579 64.995666 
L 455.420433 72.525077 
L 456.213003 74.506502 
L 457.005573 74.902786 
L 457.639628 72.128793 
L 458.986997 77.280495 
L 459.779567 79.26192 
L 460.572136 80.054489 
L 460.8 76.35418 
L 462.068111 70.013622 
L 462.543653 66.843344 
L 463.177709 69.221053 
L 463.811765 68.824768 
L 464.366563 70.013622 
L 464.921362 72.391331 
L 465.951703 63.673065 
L 466.506502 58.125077 
L 467.140557 55.351084 
L 467.774613 54.954799 
L 468.884211 61.295356 
L 469.359752 62.880495 
L 469.914551 58.917647 
L 470.46935 56.539938 
L 471.103406 58.917647 
L 471.895975 60.502786 
L 472.688545 60.106502 
L 473.481115 62.484211 
L 474.273684 60.502786 
L 475.066254 60.106502 
L 476.651393 58.521362 
L 477.443963 57.332508 
L 478.236533 58.521362 
L 478.870588 55.747368 
L 479.504644 56.539938 
L 482.040867 65.258204 
L 483.78452 66.050774 
L 484.57709 65.654489 
L 485.211146 66.843344 
L 485.765944 64.465635 
L 486.954799 55.747368 
L 487.588854 52.57709 
L 488.143653 51.78452 
L 489.332508 44.651393 
L 490.600619 36.725697 
L 491.313932 35.933127 
L 491.868731 36.329412 
L 492.502786 34.744272 
L 493.691641 43.066254 
L 494.24644 41.481115 
L 494.721981 43.462539 
L 495.831579 50.99195 
L 496.465635 51.78452 
L 497.09969 54.954799 
L 497.654489 54.162229 
L 498.209288 58.125077 
L 498.843344 59.710217 
L 499.477399 62.880495 
L 500.032198 59.710217 
L 500.586997 55.351084 
L 501.221053 58.125077 
L 501.855108 62.087926 
L 502.409907 61.295356 
L 503.202477 63.673065 
L 503.995046 65.258204 
L 504.549845 67.239628 
L 505.183901 66.050774 
L 505.976471 65.654489 
L 506.76904 64.06935 
L 507.56161 64.86192 
L 508.195666 62.087926 
L 508.829721 64.465635 
L 509.543034 62.880495 
L 510.731889 56.539938 
L 511.365944 56.143653 
L 511.920743 59.710217 
L 512.475542 62.087926 
L 513.109598 63.673065 
L 513.743653 60.502786 
L 514.377709 60.106502 
L 514.853251 62.087926 
L 515.487307 63.673065 
L 516.121362 58.917647 
L 516.676161 56.143653 
L 517.468731 56.539938 
L 518.023529 55.747368 
L 518.4 57.287926 
L 519.034056 50.947368 
L 519.588854 47.77709 
L 520.381424 48.569659 
L 521.173994 44.606811 
L 521.966563 43.814241 
L 522.996904 45.003096 
L 523.789474 47.618576 
L 524.582043 44.606811 
L 525.374613 41.040248 
L 526.087926 38.662539 
L 527.752322 40.247678 
L 528.307121 44.210526 
L 529.89226 35.095975 
L 530.843344 33.907121 
L 531.477399 35.888545 
L 532.269969 37.869969 
L 533.062539 38.266254 
L 533.855108 34.303406 
L 534.489164 33.114551 
L 535.202477 35.095975 
L 536.787616 37.473684 
L 538.214241 44.606811 
L 539.006811 43.814241 
L 539.640867 41.832817 
L 540.433437 41.436533 
L 541.622291 47.380805 
L 542.335604 47.77709 
L 544.158514 53.325077 
L 544.951084 50.551084 
L 545.743653 50.154799 
L 547.328793 50.947368 
L 548.121362 52.136223 
L 548.913932 47.380805 
L 549.706502 43.417957 
L 550.2613 42.625387 
L 552.084211 52.532508 
L 552.639009 50.154799 
L 553.273065 49.362229 
L 554.46192 51.739938 
L 555.016718 54.117647 
L 555.650774 58.080495 
L 556.28483 61.250774 
L 556.839628 66.798762 
L 557.394427 69.176471 
L 558.028483 68.780186 
L 559.217337 69.572755 
L 560.009907 67.195046 
L 560.802477 68.383901 
L 561.595046 71.157895 
L 562.387616 71.55418 
L 562.942415 67.591331 
L 563.417957 71.55418 
L 564.210526 71.55418 
L 565.003096 70.76161 
L 566.350464 63.628483 
L 566.905263 63.232198 
L 567.539319 65.609907 
L 568.173375 63.232198 
L 568.728173 66.006192 
L 569.124458 69.176471 
L 569.758514 65.213622 
L 570.313313 64.817337 
L 570.868111 66.402477 
L 571.343653 63.628483 
L 571.898452 66.798762 
L 572.453251 68.780186 
L 573.24582 67.591331 
L 574.03839 67.987616 
L 574.83096 66.798762 
L 575.465015 67.195046 
L 576.099071 62.043344 
L 576.65387 65.213622 
L 577.208669 64.421053 
L 578.001238 63.628483 
L 578.001238 63.628483 
" clip-path="url(#pf5aa613f86)" style="fill: none; stroke: #ff7f0e; stroke-linecap: square"/>
   </g>
   <g id="patch_3">
    <path d="M 64.848 174.048 
L 64.848 21.6 
" style="fill: none; stroke: #000000; stroke-width: 0.8; stroke-linejoin: miter; stroke-linecap: square"/>
   </g>
   <g id="patch_4">
    <path d="M 602.544 174.048 
L 602.544 21.6 
" style="fill: none; stroke: #000000; stroke-width: 0.8; stroke-linejoin: miter; stroke-linecap: square"/>
   </g>
   <g id="patch_5">
    <path d="M 64.848 174.048 
L 602.544 174.048 
" style="fill: none; stroke: #000000; stroke-width: 0.8; stroke-linejoin: miter; stroke-linecap: square"/>
   </g>
   <g id="patch_6">
    <path d="M 64.848 21.6 
L 602.544 21.6 
" style="fill: none; stroke: #000000; stroke-width: 0.8; stroke-linejoin: miter; stroke-linecap: square"/>
   </g>
   <g id="text_6">
    <text style="font-size: 12px; font-family: 'DejaVu Sans', 'Liberation Sans', sans-serif; text-anchor: middle" x="333.696" y="15.6" transform="rotate(-0 333.696 15.6)">TWCR_to_ERA5</text>
   </g>
   <g id="legend_1">
    <g id="patch_7">
     <path d="M 71.848 58.95625 
L 147.608938 58.95625 
Q 149.608938 58.95625 149.608938 56.95625 
L 149.608938 28.6 
Q 149.608938 26.6 147.608938 26.6 
L 71.848 26.6 
Q 69.848 26.6 69.848 28.6 
L 69.848 56.95625 
Q 69.848 58.95625 71.848 58.95625 
z
" style="fill: #ffffff; opacity: 0.8; stroke: #cccccc; stroke-linejoin: miter"/>
    </g>
    <g id="line2d_88">
     <path d="M 73.848 34.698438 
L 83.848 34.698438 
L 93.848 34.698438 
" style="fill: none; stroke: #1f77b4; stroke-linecap: square"/>
    </g>
    <g id="text_7">
     <text style="font-size: 10px; font-family: 'DejaVu Sans', 'Liberation Sans', sans-serif; text-anchor: start" x="101.848" y="38.198438" transform="rotate(-0 101.848 38.198438)">Adjusted</text>
    </g>
    <g id="line2d_89">
     <path d="M 73.848 49.376563 
L 83.848 49.376563 
L 93.848 49.376563 
" style="fill: none; stroke: #ff7f0e; stroke-linecap: square"/>
    </g>
    <g id="text_8">
     <text style="font-size: 10px; font-family: 'DejaVu Sans', 'Liberation Sans', sans-serif; text-anchor: start" x="101.848" y="52.876563" transform="rotate(-0 101.848 52.876563)">Original</text>
    </g>
   </g>
  </g>
  <g id="axes_2">
   <g id="patch_8">
    <path d="M 64.848 354 
L 602.544 354 
L 602.544 202.128 
L 64.848 202.128 
z
" style="fill: #ffffff"/>
   </g>
   <g id="matplotlib.axis_3">
    <g id="xtick_82">
     <g id="line2d_90">
      <g>
       <use href="#m099f7e1c39" x="89.232" y="354" style="stroke: #000000; stroke-width: 0.8"/>
      </g>
     </g>
     <g id="text_9">
      <text style="font-size: 10px; font-family: 'DejaVu Sans', 'Liberation Sans', sans-serif" transform="translate(69.765571 385.568774) rotate(-45)">1950</text>
     </g>
    </g>
    <g id="xtick_83">
     <g id="line2d_91">
      <g>
       <use href="#m099f7e1c39" x="122.2944" y="354" style="stroke: #000000; stroke-width: 0.8"/>
      </g>
     </g>
     <g id="text_10">
      <text style="font-size: 10px; font-family: 'DejaVu Sans', 'Liberation Sans', sans-serif" transform="translate(102.827971 385.568774) rotate(-45)">1955</text>
     </g>
    </g>
    <g id="xtick_84">
     <g id="line2d_92">
      <g>
       <use href="#m099f7e1c39" x="155.3568" y="354" style="stroke: #000000; stroke-width: 0.8"/>
      </g>
     </g>
     <g id="text_11">
      <text style="font-size: 10px; font-family: 'DejaVu Sans', 'Liberation Sans', sans-serif" transform="translate(135.890371 385.568774) rotate(-45)">1960</text>
     </g>
    </g>
    <g id="xtick_85">
     <g id="line2d_93">
      <g>
       <use href="#m099f7e1c39" x="188.4192" y="354" style="stroke: #000000; stroke-width: 0.8"/>
      </g>
     </g>
     <g id="text_12">
      <text style="font-size: 10px; font-family: 'DejaVu Sans', 'Liberation Sans', sans-serif" transform="translate(168.952771 385.568774) rotate(-45)">1965</text>
     </g>
    </g>
    <g id="xtick_86">
     <g id="line2d_94">
      <g>
       <use href="#m099f7e1c39" x="221.4816" y="354" style="stroke: #000000; stroke-width: 0.8"/>
      </g>
     </g>
     <g id="text_13">
      <text style="font-size: 10px; font-family: 'DejaVu Sans', 'Liberation Sans', sans-serif" transform="translate(202.015171 385.568774) rotate(-45)">1970</text>
     </g>
    </g>
    <g id="xtick_87">
     <g id="line2d_95">
      <g>
       <use href="#m099f7e1c39" x="254.544" y="354" style="stroke: #000000; stroke-width: 0.8"/>
      </g>
     </g>
     <g id="text_14">
      <text style="font-size: 10px; font-family: 'DejaVu Sans', 'Liberation Sans', sans-serif" transform="translate(235.077571 385.568774) rotate(-45)">1975</text>
     </g>
    </g>
    <g id="xtick_88">
     <g id="line2d_96">
      <g>
       <use href="#m099f7e1c39" x="287.6064" y="354" style="stroke: #000000; stroke-width: 0.8"/>
      </g>
     </g>
     <g id="text_15">
      <text style="font-size: 10px; font-family: 'DejaVu Sans', 'Liberation Sans', sans-serif" transform="translate(268.139971 385.568774) rotate(-45)">1980</text>
     </g>
    </g>
    <g id="xtick_89">
     <g id="line2d_97">
      <g>
       <use href="#m099f7e1c39" x="320.6688" y="354" style="stroke: #000000; stroke-width: 0.8"/>
      </g>
     </g>
     <g id="text_16">
      <text style="font-size: 10px; font-family: 'DejaVu Sans', 'Liberation Sans', sans-serif" transform="translate(301.202371 385.568774) rotate(-45)">1985</text>
     </g>
    </g>
    <g id="xtick_90">
     <g id="line2d_98">
      <g>
       <use href="#m099f7e1c39" x="353.7312" y="354" style="stroke: #000000; stroke-width: 0.8"/>
      </g>
     </g>
     <g id="text_17">
      <text style="font-size: 10px; font-family: 'DejaVu Sans', 'Liberation Sans', sans-serif" transform="translate(334.264771 385.568774) rotate(-45)">1990</text>
     </g>
    </g>
    <g id="xtick_91">
     <g id="line2d_99">
      <g>
       <use href="#m099f7e1c39" x="386.7936" y="354" style="stroke: #000000; stroke-width: 0.8"/>
      </g>
     </g>
     <g id="text_18">
      <text style="font-size: 10px; font-family: 'DejaVu Sans', 'Liberation Sans', sans-serif" transform="translate(367.327171 385.568774) rotate(-45)">1995</text>
     </g>
    </g>
    <g id="xtick_92">
     <g id="line2d_100">
      <g>
       <use href="#m099f7e1c39" x="419.856" y="354" style="stroke: #000000; stroke-width: 0.8"/>
      </g>
     </g>
     <g id="text_19">
      <text style="font-size: 10px; font-family: 'DejaVu Sans', 'Liberation Sans', sans-serif" transform="translate(400.389571 385.568774) rotate(-45)">2000</text>
     </g>
    </g>
    <g id="xtick_93">
     <g id="line2d_101">
      <g>
       <use href="#m099f7e1c39" x="452.9184" y="354" style="stroke: #000000; stroke-width: 0.8"/>
      </g>
     </g>
     <g id="text_20">
      <text style="font-size: 10px; font-family: 'DejaVu Sans', 'Liberation Sans', sans-serif" transform="translate(433.451971 385.568774) rotate(-45)">2005</text>
     </g>
    </g>
    <g id="xtick_94">
     <g id="line2d_102">
      <g>
       <use href="#m099f7e1c39" x="485.9808" y="354" style="stroke: #000000; stroke-width: 0.8"/>
      </g>
     </g>
     <g id="text_21">
      <text style="font-size: 10px; font-family: 'DejaVu Sans', 'Liberation Sans', sans-serif" transform="translate(466.514371 385.568774) rotate(-45)">2010</text>
     </g>
    </g>
    <g id="xtick_95">
     <g id="line2d_103">
      <g>
       <use href="#m099f7e1c39" x="519.0432" y="354" style="stroke: #000000; stroke-width: 0.8"/>
      </g>
     </g>
     <g id="text_22">
      <text style="font-size: 10px; font-family: 'DejaVu Sans', 'Liberation Sans', sans-serif" transform="translate(499.576771 385.568774) rotate(-45)">2015</text>
     </g>
    </g>
    <g id="xtick_96">
     <g id="line2d_104">
      <g>
       <use href="#m099f7e1c39" x="552.1056" y="354" style="stroke: #000000; stroke-width: 0.8"/>
      </g>
     </g>
     <g id="text_23">
      <text style="font-size: 10px; font-family: 'DejaVu Sans', 'Liberation Sans', sans-serif" transform="translate(532.639171 385.568774) rotate(-45)">2020</text>
     </g>
    </g>
    <g id="xtick_97">
     <g id="line2d_105">
      <g>
       <use href="#m099f7e1c39" x="585.168" y="354" style="stroke: #000000; stroke-width: 0.8"/>
      </g>
     </g>
     <g id="text_24">
      <text style="font-size: 10px; font-family: 'DejaVu Sans', 'Liberation Sans', sans-serif" transform="translate(565.701571 385.568774) rotate(-45)">2025</text>
     </g>
    </g>
    <g id="xtick_98">
     <g id="line2d_106">
      <g>
       <use href="#me661bc850e" x="69.39456" y="354" style="stroke: #000000; stroke-width: 0.6"/>
      </g>
     </g>
    </g>
    <g id="xtick_99">
     <g id="line2d_107">
      <g>
       <use href="#me661bc850e" x="76.00704" y="354" style="stroke: #000000; stroke-width: 0.6"/>
      </g>
     </g>
    </g>
    <g id="xtick_100">
     <g id="line2d_108">
      <g>
       <use href="#me661bc850e" x="82.61952" y="354" style="stroke: #000000; stroke-width: 0.6"/>
      </g>
     </g>
    </g>
    <g id="xtick_101">
     <g id="line2d_109">
      <g>
       <use href="#me661bc850e" x="95.84448" y="354" style="stroke: #000000; stroke-width: 0.6"/>
      </g>
     </g>
    </g>
    <g id="xtick_102">
     <g id="line2d_110">
      <g>
       <use href="#me661bc850e" x="102.45696" y="354" style="stroke: #000000; stroke-width: 0.6"/>
      </g>
     </g>
    </g>
    <g id="xtick_103">
     <g id="line2d_111">
      <g>
       <use href="#me661bc850e" x="109.06944" y="354" style="stroke: #000000; stroke-width: 0.6"/>
      </g>
     </g>
    </g>
    <g id="xtick_104">
     <g id="line2d_112">
      <g>
       <use href="#me661bc850e" x="115.68192" y="354" style="stroke: #000000; stroke-width: 0.6"/>
      </g>
     </g>
    </g>
    <g id="xtick_105">
     <g id="line2d_113">
      <g>
       <use href="#me661bc850e" x="128.90688" y="354" style="stroke: #000000; stroke-width: 0.6"/>
      </g>
     </g>
    </g>
    <g id="xtick_106">
     <g id="line2d_114">
      <g>
       <use href="#me661bc850e" x="135.51936" y="354" style="stroke: #000000; stroke-width: 0.6"/>
      </g>
     </g>
    </g>
    <g id="xtick_107">
     <g id="line2d_115">
      <g>
       <use href="#me661bc850e" x="142.13184" y="354" style="stroke: #000000; stroke-width: 0.6"/>
      </g>
     </g>
    </g>
    <g id="xtick_108">
     <g id="line2d_116">
      <g>
       <use href="#me661bc850e" x="148.74432" y="354" style="stroke: #000000; stroke-width: 0.6"/>
      </g>
     </g>
    </g>
    <g id="xtick_109">
     <g id="line2d_117">
      <g>
       <use href="#me661bc850e" x="161.96928" y="354" style="stroke: #000000; stroke-width: 0.6"/>
      </g>
     </g>
    </g>
    <g id="xtick_110">
     <g id="line2d_118">
      <g>
       <use href="#me661bc850e" x="168.58176" y="354" style="stroke: #000000; stroke-width: 0.6"/>
      </g>
     </g>
    </g>
    <g id="xtick_111">
     <g id="line2d_119">
      <g>
       <use href="#me661bc850e" x="175.19424" y="354" style="stroke: #000000; stroke-width: 0.6"/>
      </g>
     </g>
    </g>
    <g id="xtick_112">
     <g id="line2d_120">
      <g>
       <use href="#me661bc850e" x="181.80672" y="354" style="stroke: #000000; stroke-width: 0.6"/>
      </g>
     </g>
    </g>
    <g id="xtick_113">
     <g id="line2d_121">
      <g>
       <use href="#me661bc850e" x="195.03168" y="354" style="stroke: #000000; stroke-width: 0.6"/>
      </g>
     </g>
    </g>
    <g id="xtick_114">
     <g id="line2d_122">
      <g>
       <use href="#me661bc850e" x="201.64416" y="354" style="stroke: #000000; stroke-width: 0.6"/>
      </g>
     </g>
    </g>
    <g id="xtick_115">
     <g id="line2d_123">
      <g>
       <use href="#me661bc850e" x="208.25664" y="354" style="stroke: #000000; stroke-width: 0.6"/>
      </g>
     </g>
    </g>
    <g id="xtick_116">
     <g id="line2d_124">
      <g>
       <use href="#me661bc850e" x="214.86912" y="354" style="stroke: #000000; stroke-width: 0.6"/>
      </g>
     </g>
    </g>
    <g id="xtick_117">
     <g id="line2d_125">
      <g>
       <use href="#me661bc850e" x="228.09408" y="354" style="stroke: #000000; stroke-width: 0.6"/>
      </g>
     </g>
    </g>
    <g id="xtick_118">
     <g id="line2d_126">
      <g>
       <use href="#me661bc850e" x="234.70656" y="354" style="stroke: #000000; stroke-width: 0.6"/>
      </g>
     </g>
    </g>
    <g id="xtick_119">
     <g id="line2d_127">
      <g>
       <use href="#me661bc850e" x="241.31904" y="354" style="stroke: #000000; stroke-width: 0.6"/>
      </g>
     </g>
    </g>
    <g id="xtick_120">
     <g id="line2d_128">
      <g>
       <use href="#me661bc850e" x="247.93152" y="354" style="stroke: #000000; stroke-width: 0.6"/>
      </g>
     </g>
    </g>
    <g id="xtick_121">
     <g id="line2d_129">
      <g>
       <use href="#me661bc850e" x="261.15648" y="354" style="stroke: #000000; stroke-width: 0.6"/>
      </g>
     </g>
    </g>
    <g id="xtick_122">
     <g id="line2d_130">
      <g>
       <use href="#me661bc850e" x="267.76896" y="354" style="stroke: #000000; stroke-width: 0.6"/>
      </g>
     </g>
    </g>
    <g id="xtick_123">
     <g id="line2d_131">
      <g>
       <use href="#me661bc850e" x="274.38144" y="354" style="stroke: #000000; stroke-width: 0.6"/>
      </g>
     </g>
    </g>
    <g id="xtick_124">
     <g id="line2d_132">
      <g>
       <use href="#me661bc850e" x="280.99392" y="354" style="stroke: #000000; stroke-width: 0.6"/>
      </g>
     </g>
    </g>
    <g id="xtick_125">
     <g id="line2d_133">
      <g>
       <use href="#me661bc850e" x="294.21888" y="354" style="stroke: #000000; stroke-width: 0.6"/>
      </g>
     </g>
    </g>
    <g id="xtick_126">
     <g id="line2d_134">
      <g>
       <use href="#me661bc850e" x="300.83136" y="354" style="stroke: #000000; stroke-width: 0.6"/>
      </g>
     </g>
    </g>
    <g id="xtick_127">
     <g id="line2d_135">
      <g>
       <use href="#me661bc850e" x="307.44384" y="354" style="stroke: #000000; stroke-width: 0.6"/>
      </g>
     </g>
    </g>
    <g id="xtick_128">
     <g id="line2d_136">
      <g>
       <use href="#me661bc850e" x="314.05632" y="354" style="stroke: #000000; stroke-width: 0.6"/>
      </g>
     </g>
    </g>
    <g id="xtick_129">
     <g id="line2d_137">
      <g>
       <use href="#me661bc850e" x="327.28128" y="354" style="stroke: #000000; stroke-width: 0.6"/>
      </g>
     </g>
    </g>
    <g id="xtick_130">
     <g id="line2d_138">
      <g>
       <use href="#me661bc850e" x="333.89376" y="354" style="stroke: #000000; stroke-width: 0.6"/>
      </g>
     </g>
    </g>
    <g id="xtick_131">
     <g id="line2d_139">
      <g>
       <use href="#me661bc850e" x="340.50624" y="354" style="stroke: #000000; stroke-width: 0.6"/>
      </g>
     </g>
    </g>
    <g id="xtick_132">
     <g id="line2d_140">
      <g>
       <use href="#me661bc850e" x="347.11872" y="354" style="stroke: #000000; stroke-width: 0.6"/>
      </g>
     </g>
    </g>
    <g id="xtick_133">
     <g id="line2d_141">
      <g>
       <use href="#me661bc850e" x="360.34368" y="354" style="stroke: #000000; stroke-width: 0.6"/>
      </g>
     </g>
    </g>
    <g id="xtick_134">
     <g id="line2d_142">
      <g>
       <use href="#me661bc850e" x="366.95616" y="354" style="stroke: #000000; stroke-width: 0.6"/>
      </g>
     </g>
    </g>
    <g id="xtick_135">
     <g id="line2d_143">
      <g>
       <use href="#me661bc850e" x="373.56864" y="354" style="stroke: #000000; stroke-width: 0.6"/>
      </g>
     </g>
    </g>
    <g id="xtick_136">
     <g id="line2d_144">
      <g>
       <use href="#me661bc850e" x="380.18112" y="354" style="stroke: #000000; stroke-width: 0.6"/>
      </g>
     </g>
    </g>
    <g id="xtick_137">
     <g id="line2d_145">
      <g>
       <use href="#me661bc850e" x="393.40608" y="354" style="stroke: #000000; stroke-width: 0.6"/>
      </g>
     </g>
    </g>
    <g id="xtick_138">
     <g id="line2d_146">
      <g>
       <use href="#me661bc850e" x="400.01856" y="354" style="stroke: #000000; stroke-width: 0.6"/>
      </g>
     </g>
    </g>
    <g id="xtick_139">
     <g id="line2d_147">
      <g>
       <use href="#me661bc850e" x="406.63104" y="354" style="stroke: #000000; stroke-width: 0.6"/>
      </g>
     </g>
    </g>
    <g id="xtick_140">
     <g id="line2d_148">
      <g>
       <use href="#me661bc850e" x="413.24352" y="354" style="stroke: #000000; stroke-width: 0.6"/>
      </g>
     </g>
    </g>
    <g id="xtick_141">
     <g id="line2d_149">
      <g>
       <use href="#me661bc850e" x="426.46848" y="354" style="stroke: #000000; stroke-width: 0.6"/>
      </g>
     </g>
    </g>
    <g id="xtick_142">
     <g id="line2d_150">
      <g>
       <use href="#me661bc850e" x="433.08096" y="354" style="stroke: #000000; stroke-width: 0.6"/>
      </g>
     </g>
    </g>
    <g id="xtick_143">
     <g id="line2d_151">
      <g>
       <use href="#me661bc850e" x="439.69344" y="354" style="stroke: #000000; stroke-width: 0.6"/>
      </g>
     </g>
    </g>
    <g id="xtick_144">
     <g id="line2d_152">
      <g>
       <use href="#me661bc850e" x="446.30592" y="354" style="stroke: #000000; stroke-width: 0.6"/>
      </g>
     </g>
    </g>
    <g id="xtick_145">
     <g id="line2d_153">
      <g>
       <use href="#me661bc850e" x="459.53088" y="354" style="stroke: #000000; stroke-width: 0.6"/>
      </g>
     </g>
    </g>
    <g id="xtick_146">
     <g id="line2d_154">
      <g>
       <use href="#me661bc850e" x="466.14336" y="354" style="stroke: #000000; stroke-width: 0.6"/>
      </g>
     </g>
    </g>
    <g id="xtick_147">
     <g id="line2d_155">
      <g>
       <use href="#me661bc850e" x="472.75584" y="354" style="stroke: #000000; stroke-width: 0.6"/>
      </g>
     </g>
    </g>
    <g id="xtick_148">
     <g id="line2d_156">
      <g>
       <use href="#me661bc850e" x="479.36832" y="354" style="stroke: #000000; stroke-width: 0.6"/>
      </g>
     </g>
    </g>
    <g id="xtick_149">
     <g id="line2d_157">
      <g>
       <use href="#me661bc850e" x="492.59328" y="354" style="stroke: #000000; stroke-width: 0.6"/>
      </g>
     </g>
    </g>
    <g id="xtick_150">
     <g id="line2d_158">
      <g>
       <use href="#me661bc850e" x="499.20576" y="354" style="stroke: #000000; stroke-width: 0.6"/>
      </g>
     </g>
    </g>
    <g id="xtick_151">
     <g id="line2d_159">
      <g>
       <use href="#me661bc850e" x="505.81824" y="354" style="stroke: #000000; stroke-width: 0.6"/>
      </g>
     </g>
    </g>
    <g id="xtick_152">
     <g id="line2d_160">
      <g>
       <use href="#me661bc850e" x="512.43072" y="354" style="stroke: #000000; stroke-width: 0.6"/>
      </g>
     </g>
    </g>
    <g id="xtick_153">
     <g id="line2d_161">
      <g>
       <use href="#me661bc850e" x="525.65568" y="354" style="stroke: #000000; stroke-width: 0.6"/>
      </g>
     </g>
    </g>
    <g id="xtick_154">
     <g id="line2d_162">
      <g>
       <use href="#me661bc850e" x="532.26816" y="354" style="stroke: #000000; stroke-width: 0.6"/>
      </g>
     </g>
    </g>
    <g id="xtick_155">
     <g id="line2d_163">
      <g>
       <use href="#me661bc850e" x="538.88064" y="354" style="stroke: #000000; stroke-width: 0.6"/>
      </g>
     </g>
    </g>
    <g id="xtick_156">
     <g id="line2d_164">
      <g>
       <use href="#me661bc850e" x="545.49312" y="354" style="stroke: #000000; stroke-width: 0.6"/>
      </g>
     </g>
    </g>
    <g id="xtick_157">
     <g id="line2d_165">
      <g>
       <use href="#me661bc850e" x="558.71808" y="354" style="stroke: #000000; stroke-width: 0.6"/>
      </g>
     </g>
    </g>
    <g id="xtick_158">
     <g id="line2d_166">
      <g>
       <use href="#me661bc850e" x="565.33056" y="354" style="stroke: #000000; stroke-width: 0.6"/>
      </g>
     </g>
    </g>
    <g id="xtick_159">
     <g id="line2d_167">
      <g>
       <use href="#me661bc850e" x="571.94304" y="354" style="stroke: #000000; stroke-width: 0.6"/>
      </g>
     </g>
    </g>
    <g id="xtick_160">
     <g id="line2d_168">
      <g>
       <use href="#me661bc850e" x="578.55552" y="354" style="stroke: #000000; stroke-width: 0.6"/>
      </g>
     </g>
    </g>
    <g id="xtick_161">
     <g id="line2d_169">
      <g>
       <use href="#me661bc850e" x="591.78048" y="354" style="stroke: #000000; stroke-width: 0.6"/>
      </g>
     </g>
    </g>
    <g id="xtick_162">
     <g id="line2d_170">
      <g>
       <use href="#me661bc850e" x="598.39296" y="354" style="stroke: #000000; stroke-width: 0.6"/>
      </g>
     </g>
    </g>
    <g id="text_25">
     <text style="font-size: 10px; font-family: 'DejaVu Sans', 'Liberation Sans', sans-serif; text-anchor: middle" x="333.696" y="397.437773" transform="rotate(-0 333.696 397.437773)">Time</text>
    </g>
   </g>
   <g id="matplotlib.axis_4">
    <g id="ytick_5">
     <g id="line2d_171">
      <g>
       <use href="#m580b80756e" x="64.848" y="354" style="stroke: #000000; stroke-width: 0.8"/>
      </g>
     </g>
     <g id="text_26">
      <text style="font-size: 10px; font-family: 'DejaVu Sans', 'Liberation Sans', sans-serif; text-anchor: end" x="57.848" y="358.279219" transform="rotate(-0 57.848 358.279219)">−0.020</text>
     </g>
    </g>
    <g id="ytick_6">
     <g id="line2d_172">
      <g>
       <use href="#m580b80756e" x="64.848" y="328.896" style="stroke: #000000; stroke-width: 0.8"/>
      </g>
     </g>
     <g id="text_27">
      <text style="font-size: 10px; font-family: 'DejaVu Sans', 'Liberation Sans', sans-serif; text-anchor: end" x="57.848" y="333.175219" transform="rotate(-0 57.848 333.175219)">−0.015</text>
     </g>
    </g>
    <g id="ytick_7">
     <g id="line2d_173">
      <g>
       <use href="#m580b80756e" x="64.848" y="303.792" style="stroke: #000000; stroke-width: 0.8"/>
      </g>
     </g>
     <g id="text_28">
      <text style="font-size: 10px; font-family: 'DejaVu Sans', 'Liberation Sans', sans-serif; text-anchor: end" x="57.848" y="308.071219" transform="rotate(-0 57.848 308.071219)">−0.010</text>
     </g>
    </g>
    <g id="ytick_8">
     <g id="line2d_174">
      <g>
       <use href="#m580b80756e" x="64.848" y="278.688" style="stroke: #000000; stroke-width: 0.8"/>
      </g>
     </g>
     <g id="text_29">
      <text style="font-size: 10px; font-family: 'DejaVu Sans', 'Liberation Sans', sans-serif; text-anchor: end" x="57.848" y="282.967219" transform="rotate(-0 57.848 282.967219)">−0.005</text>
     </g>
    </g>
    <g id="ytick_9">
     <g id="line2d_175">
      <g>
       <use href="#m580b80756e" x="64.848" y="253.584" style="stroke: #000000; stroke-width: 0.8"/>
      </g>
     </g>
     <g id="text_30">
      <text style="font-size: 10px; font-family: 'DejaVu Sans', 'Liberation Sans', sans-serif; text-anchor: end" x="57.848" y="257.863219" transform="rotate(-0 57.848 257.863219)">0.000</text>
     </g>
    </g>
    <g id="ytick_10">
     <g id="line2d_176">
      <g>
       <use href="#m580b80756e" x="64.848" y="228.48" style="stroke: #000000; stroke-width: 0.8"/>
      </g>
     </g>
     <g id="text_31">
      <text style="font-size: 10px; font-family: 'DejaVu Sans', 'Liberation Sans', sans-serif; text-anchor: end" x="57.848" y="232.759219" transform="rotate(-0 57.848 232.759219)">0.005</text>
     </g>
    </g>
    <g id="ytick_11">
     <g id="line2d_177">
      <g>
       <use href="#m580b80756e" x="64.848" y="203.376" style="stroke: #000000; stroke-width: 0.8"/>
      </g>
     </g>
     <g id="text_32">
      <text style="font-size: 10px; font-family: 'DejaVu Sans', 'Liberation Sans', sans-serif; text-anchor: end" x="57.848" y="207.655219" transform="rotate(-0 57.848 207.655219)">0.010</text>
     </g>
    </g>
    <g id="text_33">
     <text style="font-size: 10px; font-family: 'DejaVu Sans', 'Liberation Sans', sans-serif; text-anchor: middle" x="14.7605" y="278.064" transform="rotate(-90 14.7605 278.064)">Original - Adjusted</text>
    </g>
   </g>
   <g id="line2d_178">
    <path d="M 89.094737 318.556391 
L 90.249624 314.995489 
L 91.404511 312.108271 
L 92.655639 310.183459 
L 94.099248 308.451128 
L 95.542857 307.296241 
L 98.430075 307.777444 
L 102.760902 302.003008 
L 104.204511 299.115789 
L 105.64812 296.902256 
L 107.091729 297.190977 
L 108.054135 295.747368 
L 109.978947 289.010526 
L 111.230075 286.893233 
L 112.384962 287.566917 
L 113.53985 289.203008 
L 114.790977 291.416541 
L 115.753383 294.303759 
L 116.715789 298.634586 
L 117.678195 304.409023 
L 118.640602 306.815038 
L 119.891729 308.73985 
L 120.854135 310.664662 
L 121.816541 314.514286 
L 125.666165 331.356391 
L 126.628571 337.130827 
L 127.590977 341.461654 
L 128.553383 343.867669 
L 129.515789 345.022556 
L 130.670677 343.867669 
L 131.633083 341.942857 
L 132.595489 341.461654 
L 133.557895 341.172932 
L 134.520301 340.018045 
L 136.445113 336.360902 
L 137.407519 336.938346 
L 139.332331 341.172932 
L 140.294737 340.78797 
L 141.257143 342.135338 
L 142.219549 342.905263 
L 143.181955 345.792481 
L 144.144361 347.23609 
L 145.299248 347.23609 
L 146.261654 346.562406 
L 147.512782 347.23609 
L 148.475188 346.273684 
L 149.437594 343.867669 
L 152.324812 335.206015 
L 153.287218 331.356391 
L 156.174436 315.957895 
L 158.099248 306.815038 
L 159.061654 302.965414 
L 160.986466 296.228571 
L 161.948872 293.341353 
L 162.911278 290.935338 
L 163.873684 289.010526 
L 164.83609 287.855639 
L 167.049624 286.41203 
L 168.01203 287.085714 
L 168.974436 287.566917 
L 170.129323 286.604511 
L 172.054135 283.717293 
L 173.209023 282.273684 
L 173.978947 280.348872 
L 174.748872 277.461654 
L 175.711278 275.729323 
L 176.673684 276.980451 
L 179.27218 285.930827 
L 180.234586 287.085714 
L 182.159398 293.822556 
L 183.121805 295.747368 
L 184.084211 295.554887 
L 186.009023 290.935338 
L 187.26015 289.010526 
L 189.184962 281.311278 
L 190.147368 277.942857 
L 191.109774 275.536842 
L 192 274.201504 
L 193.924812 273.720301 
L 194.887218 275.16391 
L 195.849624 277.569925 
L 196.81203 278.724812 
L 197.966917 278.33985 
L 198.929323 276.607519 
L 199.891729 274.201504 
L 200.854135 271.314286 
L 201.62406 267.945865 
L 203.548872 257.359398 
L 204.511278 253.028571 
L 205.473684 250.141353 
L 206.43609 248.697744 
L 207.398496 248.697744 
L 208.360902 250.141353 
L 209.323308 254.47218 
L 210.285714 260.246617 
L 211.24812 266.983459 
L 214.135338 290.081203 
L 215.097744 296.336842 
L 216.06015 299.705263 
L 217.022556 300.956391 
L 217.984962 299.22406 
L 219.909774 293.738346 
L 220.87218 292.487218 
L 221.834586 292.968421 
L 223.95188 297.299248 
L 224.914286 301.148872 
L 225.876692 304.03609 
L 227.12782 305.479699 
L 228.378947 304.517293 
L 229.533835 301.148872 
L 231.458647 292.006015 
L 232.421053 287.193985 
L 233.383459 283.825564 
L 234.827068 280.457143 
L 236.078195 278.051128 
L 237.233083 277.088722 
L 238.38797 275.645113 
L 240.312782 267.945865 
L 244.162406 248.697744 
L 245.124812 244.84812 
L 247.049624 242.923308 
L 248.01203 242.442105 
L 248.974436 242.923308 
L 249.936842 244.84812 
L 250.899248 247.735338 
L 251.861654 250.141353 
L 252.82406 251.392481 
L 253.786466 251.103759 
L 255.037594 249.178947 
L 256 247.254135 
L 256.962406 243.885714 
L 257.924812 239.073684 
L 258.887218 235.22406 
L 259.849624 234.261654 
L 260.81203 235.705263 
L 262.736842 246.772932 
L 263.699248 253.509774 
L 264.661654 261.209023 
L 265.62406 267.945865 
L 266.586466 273.720301 
L 267.26015 276.126316 
L 268.030075 275.16391 
L 268.992481 270.833083 
L 269.954887 267.945865 
L 271.109774 265.058647 
L 272.07218 261.209023 
L 273.034586 257.840602 
L 274.285714 255.627068 
L 275.24812 255.915789 
L 276.499248 257.359398 
L 277.461654 254.953383 
L 278.42406 253.028571 
L 279.386466 250.815038 
L 282.273684 240.517293 
L 283.428571 237.630075 
L 284.583459 237.148872 
L 285.834586 236.956391 
L 288 237.401504 
L 288.962406 236.246617 
L 289.924812 232.396992 
L 291.079699 229.509774 
L 292.330827 227.392481 
L 293.581955 226.622556 
L 294.736842 224.697744 
L 295.891729 223.254135 
L 296.854135 222.965414 
L 298.105263 223.542857 
L 299.067669 220.84812 
L 300.992481 213.148872 
L 302.243609 210.742857 
L 303.398496 210.454135 
L 304.553383 209.491729 
L 305.804511 208.818045 
L 307.055639 208.818045 
L 308.210526 210.261654 
L 309.365414 211.031579 
L 310.616541 210.550376 
L 311.867669 211.705263 
L 313.022556 213.630075 
L 315.909774 223.735338 
L 316.87218 226.430075 
L 317.834586 227.103759 
L 320.240602 225.178947 
L 321.203008 223.735338 
L 323.12782 216.998496 
L 324.090226 214.111278 
L 325.341353 213.822556 
L 326.496241 213.822556 
L 327.651128 214.111278 
L 328.613534 215.073684 
L 331.500752 225.178947 
L 332.463158 228.066165 
L 334.38797 237.209023 
L 335.350376 242.983459 
L 336.312782 247.314286 
L 337.275188 249.720301 
L 339.2 253.569925 
L 340.162406 253.569925 
L 341.124812 251.645113 
L 341.894737 247.795489 
L 342.664662 242.983459 
L 343.434586 239.133835 
L 344.204511 236.246617 
L 347.18797 227.103759 
L 348.150376 225.66015 
L 349.112782 226.141353 
L 350.075188 229.509774 
L 351.037594 234.803008 
L 352.962406 242.983459 
L 353.924812 246.833083 
L 355.849624 258.381955 
L 356.81203 261.750376 
L 358.736842 265.6 
L 359.699248 268.006015 
L 360.661654 270.893233 
L 361.62406 272.818045 
L 362.875188 273.299248 
L 365.184962 273.299248 
L 366.43609 272.625564 
L 367.398496 271.855639 
L 368.360902 270.893233 
L 371.24812 262.231579 
L 373.172932 255.494737 
L 374.135338 252.607519 
L 375.097744 250.490226 
L 376.06015 249.046617 
L 377.022556 248.757895 
L 377.984962 248.950376 
L 380.87218 254.051128 
L 381.834586 254.532331 
L 384.721805 258.863158 
L 385.684211 259.825564 
L 386.646617 261.269173 
L 388.571429 266.081203 
L 389.533835 267.23609 
L 390.784962 267.524812 
L 391.93985 267.332331 
L 393.094737 268.006015 
L 393.6 267.803774 
L 394.50566 265.992453 
L 395.411321 263.728302 
L 396.316981 262.369811 
L 397.403774 262.369811 
L 398.581132 262.822642 
L 400.664151 260.830189 
L 401.750943 260.830189 
L 403.109434 261.735849 
L 404.015094 260.10566 
L 406.732075 253.313208 
L 409.449057 245.162264 
L 410.354717 243.079245 
L 411.532075 242.445283 
L 414.611321 239.275472 
L 417.6 233.388679 
L 418.50566 232.754717 
L 419.411321 233.388679 
L 420.316981 235.65283 
L 421.222642 238.369811 
L 423.033962 246.067925 
L 424.845283 253.766038 
L 425.479245 256.030189 
L 426.384906 256.754717 
L 427.290566 255.577358 
L 428.196226 253.766038 
L 430.007547 251.230189 
L 431.184906 250.777358 
L 432.362264 251.049057 
L 433.267925 252.860377 
L 433.901887 256.483019 
L 434.807547 260.558491 
L 435.713208 263.728302 
L 436.618868 265.992453 
L 437.796226 267.350943 
L 438.883019 266.898113 
L 440.241509 265.811321 
L 442.05283 260.558491 
L 442.958491 257.388679 
L 443.864151 254.671698 
L 444.769811 252.679245 
L 445.94717 251.320755 
L 447.033962 250.777358 
L 448.120755 250.867925 
L 449.298113 251.773585 
L 450.475472 253.584906 
L 452.649057 257.388679 
L 453.826415 259.018868 
L 455.184906 259.65283 
L 457.901887 257.841509 
L 458.988679 256.030189 
L 461.343396 251.501887 
L 462.430189 250.143396 
L 463.516981 249.237736 
L 464.69434 247.879245 
L 466.777358 247.426415 
L 468.769811 244.256604 
L 471.486792 237.464151 
L 473.298113 230.218868 
L 474.203774 228.407547 
L 475.562264 227.501887 
L 476.467925 228.226415 
L 477.373585 230.218868 
L 478.279245 233.841509 
L 479.184906 240.181132 
L 480.090566 247.426415 
L 481.901887 262.822642 
L 482.807547 269.162264 
L 483.713208 272.784906 
L 484.618868 274.324528 
L 485.524528 272.784906 
L 486.430189 267.350943 
L 487.335849 260.10566 
L 488.241509 251.954717 
L 489.14717 246.520755 
L 490.05283 242.445283 
L 490.958491 240.181132 
L 492.135849 239.275472 
L 493.222642 239.728302 
L 494.309434 241.086792 
L 495.215094 242.716981 
L 496.120755 245.162264 
L 497.932075 243.803774 
L 498.837736 244.709434 
L 500.015094 245.433962 
L 500.920755 246.520755 
L 502.732075 250.143396 
L 503.637736 252.407547 
L 504.543396 256.483019 
L 505.449057 258.74717 
L 506.354717 260.10566 
L 507.532075 260.830189 
L 508.618868 260.558491 
L 509.70566 259.2 
L 510.611321 257.388679 
L 511.516981 254.671698 
L 512.422642 252.860377 
L 513.328302 251.501887 
L 514.50566 250.324528 
L 515.411321 249.237736 
L 516.045283 246.520755 
L 516.588679 241.992453 
L 517.222642 238.822642 
L 517.856604 240.181132 
L 518.4 238.369811 
L 518.4 238.369811 
" clip-path="url(#p56263fce11)" style="fill: none; stroke: #2ca02c; stroke-linecap: square"/>
   </g>
   <g id="line2d_179">
    <path d="M 64.848 253.584 
L 602.544 253.584 
" clip-path="url(#p56263fce11)" style="fill: none; stroke-dasharray: 2.22,0.96; stroke-dashoffset: 0; stroke: #000000; stroke-width: 0.6"/>
   </g>
   <g id="patch_9">
    <path d="M 64.848 354 
L 64.848 202.128 
" style="fill: none; stroke: #000000; stroke-width: 0.8; stroke-linejoin: miter; stroke-linecap: square"/>
   </g>
   <g id="patch_10">
    <path d="M 602.544 354 
L 602.544 202.128 
" style="fill: none; stroke: #000000; stroke-width: 0.8; stroke-linejoin: miter; stroke-linecap: square"/>
   </g>
   <g id="patch_11">
    <path d="M 64.848 354 
L 602.544 354 
" style="fill: none; stroke: #000000; stroke-width: 0.8; stroke-linejoin: miter; stroke-linecap: square"/>
   </g>
   <g id="patch_12">
    <path d="M 64.848 202.128 
L 602.544 202.128 
" style="fill: none; stroke: #000000; stroke-width: 0.8; stroke-linejoin: miter; stroke-linecap: square"/>
   </g>
  </g>
  <g id="axes_3">
   <g id="patch_13">
    <path d="M 666.768 271.104 
L 833.28 271.104 
L 833.28 104.64 
L 666.768 104.64 
z
" style="fill: #ffffff"/>
   </g>
   <g id="PolyCollection_1">
    <path d="M 678.205441 183.594592 
L 678.205441 182.834083 
L 676.947767 182.453829 
L 675.690093 182.834083 
L 675.690093 183.594592 
L 676.947767 183.974846 
z
" clip-path="url(#p3e932aa4ca)" style="fill: #27808e; stroke: #27808e"/>
    <path d="M 680.720789 176.750015 
L 680.720789 175.989507 
L 679.463115 175.609252 
L 678.205441 175.989507 
L 678.205441 176.750015 
L 679.463115 177.130269 
z
" clip-path="url(#p3e932aa4ca)" style="fill: #440154; stroke: #440154"/>
    <path d="M 683.236136 176.750015 
L 683.236136 175.989507 
L 681.978462 175.609252 
L 680.720789 175.989507 
L 680.720789 176.750015 
L 681.978462 177.130269 
z
" clip-path="url(#p3e932aa4ca)" style="fill: #440154; stroke: #440154"/>
    <path d="M 685.751484 169.905439 
L 685.751484 169.14493 
L 684.49381 168.764676 
L 683.236136 169.14493 
L 683.236136 169.905439 
L 684.49381 170.285693 
z
" clip-path="url(#p3e932aa4ca)" style="fill: #440154; stroke: #440154"/>
    <path d="M 688.266832 179.031541 
L 688.266832 178.271032 
L 687.009158 177.890778 
L 685.751484 178.271032 
L 685.751484 179.031541 
L 687.009158 179.411795 
z
" clip-path="url(#p3e932aa4ca)" style="fill: #440154; stroke: #440154"/>
    <path d="M 688.266832 167.623913 
L 688.266832 166.863404 
L 687.009158 166.48315 
L 685.751484 166.863404 
L 685.751484 167.623913 
L 687.009158 168.004167 
z
" clip-path="url(#p3e932aa4ca)" style="fill: #440154; stroke: #440154"/>
    <path d="M 690.78218 181.313066 
L 690.78218 180.552558 
L 689.524506 180.172303 
L 688.266832 180.552558 
L 688.266832 181.313066 
L 689.524506 181.69332 
z
" clip-path="url(#p3e932aa4ca)" style="fill: #440154; stroke: #440154"/>
    <path d="M 690.78218 179.031541 
L 690.78218 178.271032 
L 689.524506 177.890778 
L 688.266832 178.271032 
L 688.266832 179.031541 
L 689.524506 179.411795 
z
" clip-path="url(#p3e932aa4ca)" style="fill: #440154; stroke: #440154"/>
    <path d="M 690.78218 172.186964 
L 690.78218 171.426456 
L 689.524506 171.046201 
L 688.266832 171.426456 
L 688.266832 172.186964 
L 689.524506 172.567218 
z
" clip-path="url(#p3e932aa4ca)" style="fill: #440154; stroke: #440154"/>
    <path d="M 690.78218 165.342387 
L 690.78218 164.581879 
L 689.524506 164.201625 
L 688.266832 164.581879 
L 688.266832 165.342387 
L 689.524506 165.722642 
z
" clip-path="url(#p3e932aa4ca)" style="fill: #440154; stroke: #440154"/>
    <path d="M 693.297528 190.439168 
L 693.297528 189.67866 
L 692.039854 189.298405 
L 690.78218 189.67866 
L 690.78218 190.439168 
L 692.039854 190.819422 
z
" clip-path="url(#p3e932aa4ca)" style="fill: #440154; stroke: #440154"/>
    <path d="M 693.297528 172.186964 
L 693.297528 171.426456 
L 692.039854 171.046201 
L 690.78218 171.426456 
L 690.78218 172.186964 
L 692.039854 172.567218 
z
" clip-path="url(#p3e932aa4ca)" style="fill: #440154; stroke: #440154"/>
    <path d="M 698.328224 195.002219 
L 698.328224 194.241711 
L 697.07055 193.861457 
L 695.812876 194.241711 
L 695.812876 195.002219 
L 697.07055 195.382474 
z
" clip-path="url(#p3e932aa4ca)" style="fill: #440154; stroke: #440154"/>
    <path d="M 698.328224 192.720694 
L 698.328224 191.960185 
L 697.07055 191.579931 
L 695.812876 191.960185 
L 695.812876 192.720694 
L 697.07055 193.100948 
z
" clip-path="url(#p3e932aa4ca)" style="fill: #440154; stroke: #440154"/>
    <path d="M 698.328224 167.623913 
L 698.328224 166.863404 
L 697.07055 166.48315 
L 695.812876 166.863404 
L 695.812876 167.623913 
L 697.07055 168.004167 
z
" clip-path="url(#p3e932aa4ca)" style="fill: #440154; stroke: #440154"/>
    <path d="M 698.328224 165.342387 
L 698.328224 164.581879 
L 697.07055 164.201625 
L 695.812876 164.581879 
L 695.812876 165.342387 
L 697.07055 165.722642 
z
" clip-path="url(#p3e932aa4ca)" style="fill: #440154; stroke: #440154"/>
    <path d="M 698.328224 163.060862 
L 698.328224 162.300353 
L 697.07055 161.920099 
L 695.812876 162.300353 
L 695.812876 163.060862 
L 697.07055 163.441116 
z
" clip-path="url(#p3e932aa4ca)" style="fill: #440154; stroke: #440154"/>
    <path d="M 698.328224 160.779336 
L 698.328224 160.018828 
L 697.07055 159.638574 
L 695.812876 160.018828 
L 695.812876 160.779336 
L 697.07055 161.159591 
z
" clip-path="url(#p3e932aa4ca)" style="fill: #440154; stroke: #440154"/>
    <path d="M 698.328224 158.497811 
L 698.328224 157.737302 
L 697.07055 157.357048 
L 695.812876 157.737302 
L 695.812876 158.497811 
L 697.07055 158.878065 
z
" clip-path="url(#p3e932aa4ca)" style="fill: #440154; stroke: #440154"/>
    <path d="M 700.843572 199.56527 
L 700.843572 198.804762 
L 699.585898 198.424508 
L 698.328224 198.804762 
L 698.328224 199.56527 
L 699.585898 199.945525 
z
" clip-path="url(#p3e932aa4ca)" style="fill: #440154; stroke: #440154"/>
    <path d="M 700.843572 169.905439 
L 700.843572 169.14493 
L 699.585898 168.764676 
L 698.328224 169.14493 
L 698.328224 169.905439 
L 699.585898 170.285693 
z
" clip-path="url(#p3e932aa4ca)" style="fill: #440154; stroke: #440154"/>
    <path d="M 700.843572 165.342387 
L 700.843572 164.581879 
L 699.585898 164.201625 
L 698.328224 164.581879 
L 698.328224 165.342387 
L 699.585898 165.722642 
z
" clip-path="url(#p3e932aa4ca)" style="fill: #27808e; stroke: #27808e"/>
    <path d="M 700.843572 163.060862 
L 700.843572 162.300353 
L 699.585898 161.920099 
L 698.328224 162.300353 
L 698.328224 163.060862 
L 699.585898 163.441116 
z
" clip-path="url(#p3e932aa4ca)" style="fill: #440154; stroke: #440154"/>
    <path d="M 700.843572 160.779336 
L 700.843572 160.018828 
L 699.585898 159.638574 
L 698.328224 160.018828 
L 698.328224 160.779336 
L 699.585898 161.159591 
z
" clip-path="url(#p3e932aa4ca)" style="fill: #440154; stroke: #440154"/>
    <path d="M 700.843572 156.216285 
L 700.843572 155.455777 
L 699.585898 155.075523 
L 698.328224 155.455777 
L 698.328224 156.216285 
L 699.585898 156.59654 
z
" clip-path="url(#p3e932aa4ca)" style="fill: #440154; stroke: #440154"/>
    <path d="M 703.35892 172.186964 
L 703.35892 171.426456 
L 702.101246 171.046201 
L 700.843572 171.426456 
L 700.843572 172.186964 
L 702.101246 172.567218 
z
" clip-path="url(#p3e932aa4ca)" style="fill: #27808e; stroke: #27808e"/>
    <path d="M 703.35892 160.779336 
L 703.35892 160.018828 
L 702.101246 159.638574 
L 700.843572 160.018828 
L 700.843572 160.779336 
L 702.101246 161.159591 
z
" clip-path="url(#p3e932aa4ca)" style="fill: #440154; stroke: #440154"/>
    <path d="M 705.874268 206.409847 
L 705.874268 205.649338 
L 704.616594 205.269084 
L 703.35892 205.649338 
L 703.35892 206.409847 
L 704.616594 206.790101 
z
" clip-path="url(#p3e932aa4ca)" style="fill: #440154; stroke: #440154"/>
    <path d="M 705.874268 201.846796 
L 705.874268 201.086287 
L 704.616594 200.706033 
L 703.35892 201.086287 
L 703.35892 201.846796 
L 704.616594 202.22705 
z
" clip-path="url(#p3e932aa4ca)" style="fill: #440154; stroke: #440154"/>
    <path d="M 705.874268 197.283745 
L 705.874268 196.523236 
L 704.616594 196.142982 
L 703.35892 196.523236 
L 703.35892 197.283745 
L 704.616594 197.663999 
z
" clip-path="url(#p3e932aa4ca)" style="fill: #440154; stroke: #440154"/>
    <path d="M 705.874268 185.876117 
L 705.874268 185.115609 
L 704.616594 184.735354 
L 703.35892 185.115609 
L 703.35892 185.876117 
L 704.616594 186.256371 
z
" clip-path="url(#p3e932aa4ca)" style="fill: #27808e; stroke: #27808e"/>
    <path d="M 705.874268 181.313066 
L 705.874268 180.552558 
L 704.616594 180.172303 
L 703.35892 180.552558 
L 703.35892 181.313066 
L 704.616594 181.69332 
z
" clip-path="url(#p3e932aa4ca)" style="fill: #440154; stroke: #440154"/>
    <path d="M 705.874268 156.216285 
L 705.874268 155.455777 
L 704.616594 155.075523 
L 703.35892 155.455777 
L 703.35892 156.216285 
L 704.616594 156.59654 
z
" clip-path="url(#p3e932aa4ca)" style="fill: #440154; stroke: #440154"/>
    <path d="M 708.389616 206.409847 
L 708.389616 205.649338 
L 707.131942 205.269084 
L 705.874268 205.649338 
L 705.874268 206.409847 
L 707.131942 206.790101 
z
" clip-path="url(#p3e932aa4ca)" style="fill: #440154; stroke: #440154"/>
    <path d="M 708.389616 199.56527 
L 708.389616 198.804762 
L 707.131942 198.424508 
L 705.874268 198.804762 
L 705.874268 199.56527 
L 707.131942 199.945525 
z
" clip-path="url(#p3e932aa4ca)" style="fill: #440154; stroke: #440154"/>
    <path d="M 708.389616 197.283745 
L 708.389616 196.523236 
L 707.131942 196.142982 
L 705.874268 196.523236 
L 705.874268 197.283745 
L 707.131942 197.663999 
z
" clip-path="url(#p3e932aa4ca)" style="fill: #440154; stroke: #440154"/>
    <path d="M 708.389616 192.720694 
L 708.389616 191.960185 
L 707.131942 191.579931 
L 705.874268 191.960185 
L 705.874268 192.720694 
L 707.131942 193.100948 
z
" clip-path="url(#p3e932aa4ca)" style="fill: #440154; stroke: #440154"/>
    <path d="M 708.389616 183.594592 
L 708.389616 182.834083 
L 707.131942 182.453829 
L 705.874268 182.834083 
L 705.874268 183.594592 
L 707.131942 183.974846 
z
" clip-path="url(#p3e932aa4ca)" style="fill: #27808e; stroke: #27808e"/>
    <path d="M 708.389616 181.313066 
L 708.389616 180.552558 
L 707.131942 180.172303 
L 705.874268 180.552558 
L 705.874268 181.313066 
L 707.131942 181.69332 
z
" clip-path="url(#p3e932aa4ca)" style="fill: #27808e; stroke: #27808e"/>
    <path d="M 708.389616 179.031541 
L 708.389616 178.271032 
L 707.131942 177.890778 
L 705.874268 178.271032 
L 705.874268 179.031541 
L 707.131942 179.411795 
z
" clip-path="url(#p3e932aa4ca)" style="fill: #440154; stroke: #440154"/>
    <path d="M 708.389616 153.93476 
L 708.389616 153.174251 
L 707.131942 152.793997 
L 705.874268 153.174251 
L 705.874268 153.93476 
L 707.131942 154.315014 
z
" clip-path="url(#p3e932aa4ca)" style="fill: #27808e; stroke: #27808e"/>
    <path d="M 710.904964 199.56527 
L 710.904964 198.804762 
L 709.64729 198.424508 
L 708.389616 198.804762 
L 708.389616 199.56527 
L 709.64729 199.945525 
z
" clip-path="url(#p3e932aa4ca)" style="fill: #440154; stroke: #440154"/>
    <path d="M 710.904964 195.002219 
L 710.904964 194.241711 
L 709.64729 193.861457 
L 708.389616 194.241711 
L 708.389616 195.002219 
L 709.64729 195.382474 
z
" clip-path="url(#p3e932aa4ca)" style="fill: #440154; stroke: #440154"/>
    <path d="M 710.904964 192.720694 
L 710.904964 191.960185 
L 709.64729 191.579931 
L 708.389616 191.960185 
L 708.389616 192.720694 
L 709.64729 193.100948 
z
" clip-path="url(#p3e932aa4ca)" style="fill: #440154; stroke: #440154"/>
    <path d="M 710.904964 183.594592 
L 710.904964 182.834083 
L 709.64729 182.453829 
L 708.389616 182.834083 
L 708.389616 183.594592 
L 709.64729 183.974846 
z
" clip-path="url(#p3e932aa4ca)" style="fill: #440154; stroke: #440154"/>
    <path d="M 710.904964 179.031541 
L 710.904964 178.271032 
L 709.64729 177.890778 
L 708.389616 178.271032 
L 708.389616 179.031541 
L 709.64729 179.411795 
z
" clip-path="url(#p3e932aa4ca)" style="fill: #440154; stroke: #440154"/>
    <path d="M 710.904964 176.750015 
L 710.904964 175.989507 
L 709.64729 175.609252 
L 708.389616 175.989507 
L 708.389616 176.750015 
L 709.64729 177.130269 
z
" clip-path="url(#p3e932aa4ca)" style="fill: #440154; stroke: #440154"/>
    <path d="M 713.420311 195.002219 
L 713.420311 194.241711 
L 712.162638 193.861457 
L 710.904964 194.241711 
L 710.904964 195.002219 
L 712.162638 195.382474 
z
" clip-path="url(#p3e932aa4ca)" style="fill: #440154; stroke: #440154"/>
    <path d="M 713.420311 179.031541 
L 713.420311 178.271032 
L 712.162638 177.890778 
L 710.904964 178.271032 
L 710.904964 179.031541 
L 712.162638 179.411795 
z
" clip-path="url(#p3e932aa4ca)" style="fill: #440154; stroke: #440154"/>
    <path d="M 713.420311 176.750015 
L 713.420311 175.989507 
L 712.162638 175.609252 
L 710.904964 175.989507 
L 710.904964 176.750015 
L 712.162638 177.130269 
z
" clip-path="url(#p3e932aa4ca)" style="fill: #27808e; stroke: #27808e"/>
    <path d="M 715.935659 192.720694 
L 715.935659 191.960185 
L 714.677985 191.579931 
L 713.420311 191.960185 
L 713.420311 192.720694 
L 714.677985 193.100948 
z
" clip-path="url(#p3e932aa4ca)" style="fill: #27808e; stroke: #27808e"/>
    <path d="M 715.935659 181.313066 
L 715.935659 180.552558 
L 714.677985 180.172303 
L 713.420311 180.552558 
L 713.420311 181.313066 
L 714.677985 181.69332 
z
" clip-path="url(#p3e932aa4ca)" style="fill: #440154; stroke: #440154"/>
    <path d="M 715.935659 179.031541 
L 715.935659 178.271032 
L 714.677985 177.890778 
L 713.420311 178.271032 
L 713.420311 179.031541 
L 714.677985 179.411795 
z
" clip-path="url(#p3e932aa4ca)" style="fill: #440154; stroke: #440154"/>
    <path d="M 715.935659 172.186964 
L 715.935659 171.426456 
L 714.677985 171.046201 
L 713.420311 171.426456 
L 713.420311 172.186964 
L 714.677985 172.567218 
z
" clip-path="url(#p3e932aa4ca)" style="fill: #440154; stroke: #440154"/>
    <path d="M 718.451007 190.439168 
L 718.451007 189.67866 
L 717.193333 189.298405 
L 715.935659 189.67866 
L 715.935659 190.439168 
L 717.193333 190.819422 
z
" clip-path="url(#p3e932aa4ca)" style="fill: #440154; stroke: #440154"/>
    <path d="M 718.451007 188.157643 
L 718.451007 187.397134 
L 717.193333 187.01688 
L 715.935659 187.397134 
L 715.935659 188.157643 
L 717.193333 188.537897 
z
" clip-path="url(#p3e932aa4ca)" style="fill: #440154; stroke: #440154"/>
    <path d="M 718.451007 185.876117 
L 718.451007 185.115609 
L 717.193333 184.735354 
L 715.935659 185.115609 
L 715.935659 185.876117 
L 717.193333 186.256371 
z
" clip-path="url(#p3e932aa4ca)" style="fill: #440154; stroke: #440154"/>
    <path d="M 718.451007 181.313066 
L 718.451007 180.552558 
L 717.193333 180.172303 
L 715.935659 180.552558 
L 715.935659 181.313066 
L 717.193333 181.69332 
z
" clip-path="url(#p3e932aa4ca)" style="fill: #440154; stroke: #440154"/>
    <path d="M 718.451007 176.750015 
L 718.451007 175.989507 
L 717.193333 175.609252 
L 715.935659 175.989507 
L 715.935659 176.750015 
L 717.193333 177.130269 
z
" clip-path="url(#p3e932aa4ca)" style="fill: #440154; stroke: #440154"/>
    <path d="M 718.451007 165.342387 
L 718.451007 164.581879 
L 717.193333 164.201625 
L 715.935659 164.581879 
L 715.935659 165.342387 
L 717.193333 165.722642 
z
" clip-path="url(#p3e932aa4ca)" style="fill: #440154; stroke: #440154"/>
    <path d="M 720.966355 188.157643 
L 720.966355 187.397134 
L 719.708681 187.01688 
L 718.451007 187.397134 
L 718.451007 188.157643 
L 719.708681 188.537897 
z
" clip-path="url(#p3e932aa4ca)" style="fill: #3bbb75; stroke: #3bbb75"/>
    <path d="M 720.966355 185.876117 
L 720.966355 185.115609 
L 719.708681 184.735354 
L 718.451007 185.115609 
L 718.451007 185.876117 
L 719.708681 186.256371 
z
" clip-path="url(#p3e932aa4ca)" style="fill: #440154; stroke: #440154"/>
    <path d="M 720.966355 183.594592 
L 720.966355 182.834083 
L 719.708681 182.453829 
L 718.451007 182.834083 
L 718.451007 183.594592 
L 719.708681 183.974846 
z
" clip-path="url(#p3e932aa4ca)" style="fill: #3bbb75; stroke: #3bbb75"/>
    <path d="M 720.966355 160.779336 
L 720.966355 160.018828 
L 719.708681 159.638574 
L 718.451007 160.018828 
L 718.451007 160.779336 
L 719.708681 161.159591 
z
" clip-path="url(#p3e932aa4ca)" style="fill: #440154; stroke: #440154"/>
    <path d="M 723.481703 192.720694 
L 723.481703 191.960185 
L 722.224029 191.579931 
L 720.966355 191.960185 
L 720.966355 192.720694 
L 722.224029 193.100948 
z
" clip-path="url(#p3e932aa4ca)" style="fill: #440154; stroke: #440154"/>
    <path d="M 723.481703 190.439168 
L 723.481703 189.67866 
L 722.224029 189.298405 
L 720.966355 189.67866 
L 720.966355 190.439168 
L 722.224029 190.819422 
z
" clip-path="url(#p3e932aa4ca)" style="fill: #440154; stroke: #440154"/>
    <path d="M 723.481703 185.876117 
L 723.481703 185.115609 
L 722.224029 184.735354 
L 720.966355 185.115609 
L 720.966355 185.876117 
L 722.224029 186.256371 
z
" clip-path="url(#p3e932aa4ca)" style="fill: #27808e; stroke: #27808e"/>
    <path d="M 725.997051 192.720694 
L 725.997051 191.960185 
L 724.739377 191.579931 
L 723.481703 191.960185 
L 723.481703 192.720694 
L 724.739377 193.100948 
z
" clip-path="url(#p3e932aa4ca)" style="fill: #440154; stroke: #440154"/>
    <path d="M 725.997051 183.594592 
L 725.997051 182.834083 
L 724.739377 182.453829 
L 723.481703 182.834083 
L 723.481703 183.594592 
L 724.739377 183.974846 
z
" clip-path="url(#p3e932aa4ca)" style="fill: #27808e; stroke: #27808e"/>
    <path d="M 725.997051 181.313066 
L 725.997051 180.552558 
L 724.739377 180.172303 
L 723.481703 180.552558 
L 723.481703 181.313066 
L 724.739377 181.69332 
z
" clip-path="url(#p3e932aa4ca)" style="fill: #27808e; stroke: #27808e"/>
    <path d="M 725.997051 176.750015 
L 725.997051 175.989507 
L 724.739377 175.609252 
L 723.481703 175.989507 
L 723.481703 176.750015 
L 724.739377 177.130269 
z
" clip-path="url(#p3e932aa4ca)" style="fill: #440154; stroke: #440154"/>
    <path d="M 725.997051 158.497811 
L 725.997051 157.737302 
L 724.739377 157.357048 
L 723.481703 157.737302 
L 723.481703 158.497811 
L 724.739377 158.878065 
z
" clip-path="url(#p3e932aa4ca)" style="fill: #440154; stroke: #440154"/>
    <path d="M 728.512399 192.720694 
L 728.512399 191.960185 
L 727.254725 191.579931 
L 725.997051 191.960185 
L 725.997051 192.720694 
L 727.254725 193.100948 
z
" clip-path="url(#p3e932aa4ca)" style="fill: #440154; stroke: #440154"/>
    <path d="M 728.512399 190.439168 
L 728.512399 189.67866 
L 727.254725 189.298405 
L 725.997051 189.67866 
L 725.997051 190.439168 
L 727.254725 190.819422 
z
" clip-path="url(#p3e932aa4ca)" style="fill: #27808e; stroke: #27808e"/>
    <path d="M 728.512399 165.342387 
L 728.512399 164.581879 
L 727.254725 164.201625 
L 725.997051 164.581879 
L 725.997051 165.342387 
L 727.254725 165.722642 
z
" clip-path="url(#p3e932aa4ca)" style="fill: #27808e; stroke: #27808e"/>
    <path d="M 731.027747 195.002219 
L 731.027747 194.241711 
L 729.770073 193.861457 
L 728.512399 194.241711 
L 728.512399 195.002219 
L 729.770073 195.382474 
z
" clip-path="url(#p3e932aa4ca)" style="fill: #440154; stroke: #440154"/>
    <path d="M 731.027747 188.157643 
L 731.027747 187.397134 
L 729.770073 187.01688 
L 728.512399 187.397134 
L 728.512399 188.157643 
L 729.770073 188.537897 
z
" clip-path="url(#p3e932aa4ca)" style="fill: #27808e; stroke: #27808e"/>
    <path d="M 731.027747 165.342387 
L 731.027747 164.581879 
L 729.770073 164.201625 
L 728.512399 164.581879 
L 728.512399 165.342387 
L 729.770073 165.722642 
z
" clip-path="url(#p3e932aa4ca)" style="fill: #440154; stroke: #440154"/>
    <path d="M 733.543095 185.876117 
L 733.543095 185.115609 
L 732.285421 184.735354 
L 731.027747 185.115609 
L 731.027747 185.876117 
L 732.285421 186.256371 
z
" clip-path="url(#p3e932aa4ca)" style="fill: #440154; stroke: #440154"/>
    <path d="M 733.543095 176.750015 
L 733.543095 175.989507 
L 732.285421 175.609252 
L 731.027747 175.989507 
L 731.027747 176.750015 
L 732.285421 177.130269 
z
" clip-path="url(#p3e932aa4ca)" style="fill: #440154; stroke: #440154"/>
    <path d="M 733.543095 172.186964 
L 733.543095 171.426456 
L 732.285421 171.046201 
L 731.027747 171.426456 
L 731.027747 172.186964 
L 732.285421 172.567218 
z
" clip-path="url(#p3e932aa4ca)" style="fill: #440154; stroke: #440154"/>
    <path d="M 733.543095 167.623913 
L 733.543095 166.863404 
L 732.285421 166.48315 
L 731.027747 166.863404 
L 731.027747 167.623913 
L 732.285421 168.004167 
z
" clip-path="url(#p3e932aa4ca)" style="fill: #440154; stroke: #440154"/>
    <path d="M 733.543095 160.779336 
L 733.543095 160.018828 
L 732.285421 159.638574 
L 731.027747 160.018828 
L 731.027747 160.779336 
L 732.285421 161.159591 
z
" clip-path="url(#p3e932aa4ca)" style="fill: #440154; stroke: #440154"/>
    <path d="M 736.058443 188.157643 
L 736.058443 187.397134 
L 734.800769 187.01688 
L 733.543095 187.397134 
L 733.543095 188.157643 
L 734.800769 188.537897 
z
" clip-path="url(#p3e932aa4ca)" style="fill: #440154; stroke: #440154"/>
    <path d="M 736.058443 185.876117 
L 736.058443 185.115609 
L 734.800769 184.735354 
L 733.543095 185.115609 
L 733.543095 185.876117 
L 734.800769 186.256371 
z
" clip-path="url(#p3e932aa4ca)" style="fill: #440154; stroke: #440154"/>
    <path d="M 736.058443 172.186964 
L 736.058443 171.426456 
L 734.800769 171.046201 
L 733.543095 171.426456 
L 733.543095 172.186964 
L 734.800769 172.567218 
z
" clip-path="url(#p3e932aa4ca)" style="fill: #440154; stroke: #440154"/>
    <path d="M 736.058443 167.623913 
L 736.058443 166.863404 
L 734.800769 166.48315 
L 733.543095 166.863404 
L 733.543095 167.623913 
L 734.800769 168.004167 
z
" clip-path="url(#p3e932aa4ca)" style="fill: #27808e; stroke: #27808e"/>
    <path d="M 736.058443 165.342387 
L 736.058443 164.581879 
L 734.800769 164.201625 
L 733.543095 164.581879 
L 733.543095 165.342387 
L 734.800769 165.722642 
z
" clip-path="url(#p3e932aa4ca)" style="fill: #440154; stroke: #440154"/>
    <path d="M 738.573791 192.720694 
L 738.573791 191.960185 
L 737.316117 191.579931 
L 736.058443 191.960185 
L 736.058443 192.720694 
L 737.316117 193.100948 
z
" clip-path="url(#p3e932aa4ca)" style="fill: #440154; stroke: #440154"/>
    <path d="M 738.573791 181.313066 
L 738.573791 180.552558 
L 737.316117 180.172303 
L 736.058443 180.552558 
L 736.058443 181.313066 
L 737.316117 181.69332 
z
" clip-path="url(#p3e932aa4ca)" style="fill: #440154; stroke: #440154"/>
    <path d="M 738.573791 172.186964 
L 738.573791 171.426456 
L 737.316117 171.046201 
L 736.058443 171.426456 
L 736.058443 172.186964 
L 737.316117 172.567218 
z
" clip-path="url(#p3e932aa4ca)" style="fill: #27808e; stroke: #27808e"/>
    <path d="M 738.573791 165.342387 
L 738.573791 164.581879 
L 737.316117 164.201625 
L 736.058443 164.581879 
L 736.058443 165.342387 
L 737.316117 165.722642 
z
" clip-path="url(#p3e932aa4ca)" style="fill: #440154; stroke: #440154"/>
    <path d="M 741.089139 181.313066 
L 741.089139 180.552558 
L 739.831465 180.172303 
L 738.573791 180.552558 
L 738.573791 181.313066 
L 739.831465 181.69332 
z
" clip-path="url(#p3e932aa4ca)" style="fill: #27808e; stroke: #27808e"/>
    <path d="M 741.089139 179.031541 
L 741.089139 178.271032 
L 739.831465 177.890778 
L 738.573791 178.271032 
L 738.573791 179.031541 
L 739.831465 179.411795 
z
" clip-path="url(#p3e932aa4ca)" style="fill: #440154; stroke: #440154"/>
    <path d="M 741.089139 174.46849 
L 741.089139 173.707981 
L 739.831465 173.327727 
L 738.573791 173.707981 
L 738.573791 174.46849 
L 739.831465 174.848744 
z
" clip-path="url(#p3e932aa4ca)" style="fill: #440154; stroke: #440154"/>
    <path d="M 741.089139 169.905439 
L 741.089139 169.14493 
L 739.831465 168.764676 
L 738.573791 169.14493 
L 738.573791 169.905439 
L 739.831465 170.285693 
z
" clip-path="url(#p3e932aa4ca)" style="fill: #27808e; stroke: #27808e"/>
    <path d="M 741.089139 160.779336 
L 741.089139 160.018828 
L 739.831465 159.638574 
L 738.573791 160.018828 
L 738.573791 160.779336 
L 739.831465 161.159591 
z
" clip-path="url(#p3e932aa4ca)" style="fill: #440154; stroke: #440154"/>
    <path d="M 741.089139 158.497811 
L 741.089139 157.737302 
L 739.831465 157.357048 
L 738.573791 157.737302 
L 738.573791 158.497811 
L 739.831465 158.878065 
z
" clip-path="url(#p3e932aa4ca)" style="fill: #440154; stroke: #440154"/>
    <path d="M 743.604486 165.342387 
L 743.604486 164.581879 
L 742.346813 164.201625 
L 741.089139 164.581879 
L 741.089139 165.342387 
L 742.346813 165.722642 
z
" clip-path="url(#p3e932aa4ca)" style="fill: #440154; stroke: #440154"/>
    <path d="M 743.604486 158.497811 
L 743.604486 157.737302 
L 742.346813 157.357048 
L 741.089139 157.737302 
L 741.089139 158.497811 
L 742.346813 158.878065 
z
" clip-path="url(#p3e932aa4ca)" style="fill: #440154; stroke: #440154"/>
    <path d="M 743.604486 156.216285 
L 743.604486 155.455777 
L 742.346813 155.075523 
L 741.089139 155.455777 
L 741.089139 156.216285 
L 742.346813 156.59654 
z
" clip-path="url(#p3e932aa4ca)" style="fill: #440154; stroke: #440154"/>
    <path d="M 743.604486 153.93476 
L 743.604486 153.174251 
L 742.346813 152.793997 
L 741.089139 153.174251 
L 741.089139 153.93476 
L 742.346813 154.315014 
z
" clip-path="url(#p3e932aa4ca)" style="fill: #440154; stroke: #440154"/>
    <path d="M 746.119834 190.439168 
L 746.119834 189.67866 
L 744.86216 189.298405 
L 743.604486 189.67866 
L 743.604486 190.439168 
L 744.86216 190.819422 
z
" clip-path="url(#p3e932aa4ca)" style="fill: #440154; stroke: #440154"/>
    <path d="M 746.119834 179.031541 
L 746.119834 178.271032 
L 744.86216 177.890778 
L 743.604486 178.271032 
L 743.604486 179.031541 
L 744.86216 179.411795 
z
" clip-path="url(#p3e932aa4ca)" style="fill: #27808e; stroke: #27808e"/>
    <path d="M 746.119834 169.905439 
L 746.119834 169.14493 
L 744.86216 168.764676 
L 743.604486 169.14493 
L 743.604486 169.905439 
L 744.86216 170.285693 
z
" clip-path="url(#p3e932aa4ca)" style="fill: #440154; stroke: #440154"/>
    <path d="M 748.635182 197.283745 
L 748.635182 196.523236 
L 747.377508 196.142982 
L 746.119834 196.523236 
L 746.119834 197.283745 
L 747.377508 197.663999 
z
" clip-path="url(#p3e932aa4ca)" style="fill: #440154; stroke: #440154"/>
    <path d="M 748.635182 188.157643 
L 748.635182 187.397134 
L 747.377508 187.01688 
L 746.119834 187.397134 
L 746.119834 188.157643 
L 747.377508 188.537897 
z
" clip-path="url(#p3e932aa4ca)" style="fill: #440154; stroke: #440154"/>
    <path d="M 751.15053 195.002219 
L 751.15053 194.241711 
L 749.892856 193.861457 
L 748.635182 194.241711 
L 748.635182 195.002219 
L 749.892856 195.382474 
z
" clip-path="url(#p3e932aa4ca)" style="fill: #440154; stroke: #440154"/>
    <path d="M 751.15053 190.439168 
L 751.15053 189.67866 
L 749.892856 189.298405 
L 748.635182 189.67866 
L 748.635182 190.439168 
L 749.892856 190.819422 
z
" clip-path="url(#p3e932aa4ca)" style="fill: #a2da37; stroke: #a2da37"/>
    <path d="M 751.15053 188.157643 
L 751.15053 187.397134 
L 749.892856 187.01688 
L 748.635182 187.397134 
L 748.635182 188.157643 
L 749.892856 188.537897 
z
" clip-path="url(#p3e932aa4ca)" style="fill: #27808e; stroke: #27808e"/>
    <path d="M 751.15053 176.750015 
L 751.15053 175.989507 
L 749.892856 175.609252 
L 748.635182 175.989507 
L 748.635182 176.750015 
L 749.892856 177.130269 
z
" clip-path="url(#p3e932aa4ca)" style="fill: #27808e; stroke: #27808e"/>
    <path d="M 753.665878 188.157643 
L 753.665878 187.397134 
L 752.408204 187.01688 
L 751.15053 187.397134 
L 751.15053 188.157643 
L 752.408204 188.537897 
z
" clip-path="url(#p3e932aa4ca)" style="fill: #27808e; stroke: #27808e"/>
    <path d="M 753.665878 185.876117 
L 753.665878 185.115609 
L 752.408204 184.735354 
L 751.15053 185.115609 
L 751.15053 185.876117 
L 752.408204 186.256371 
z
" clip-path="url(#p3e932aa4ca)" style="fill: #440154; stroke: #440154"/>
    <path d="M 753.665878 183.594592 
L 753.665878 182.834083 
L 752.408204 182.453829 
L 751.15053 182.834083 
L 751.15053 183.594592 
L 752.408204 183.974846 
z
" clip-path="url(#p3e932aa4ca)" style="fill: #440154; stroke: #440154"/>
    <path d="M 753.665878 172.186964 
L 753.665878 171.426456 
L 752.408204 171.046201 
L 751.15053 171.426456 
L 751.15053 172.186964 
L 752.408204 172.567218 
z
" clip-path="url(#p3e932aa4ca)" style="fill: #27808e; stroke: #27808e"/>
    <path d="M 756.181226 197.283745 
L 756.181226 196.523236 
L 754.923552 196.142982 
L 753.665878 196.523236 
L 753.665878 197.283745 
L 754.923552 197.663999 
z
" clip-path="url(#p3e932aa4ca)" style="fill: #440154; stroke: #440154"/>
    <path d="M 756.181226 190.439168 
L 756.181226 189.67866 
L 754.923552 189.298405 
L 753.665878 189.67866 
L 753.665878 190.439168 
L 754.923552 190.819422 
z
" clip-path="url(#p3e932aa4ca)" style="fill: #440154; stroke: #440154"/>
    <path d="M 756.181226 185.876117 
L 756.181226 185.115609 
L 754.923552 184.735354 
L 753.665878 185.115609 
L 753.665878 185.876117 
L 754.923552 186.256371 
z
" clip-path="url(#p3e932aa4ca)" style="fill: #a2da37; stroke: #a2da37"/>
    <path d="M 756.181226 183.594592 
L 756.181226 182.834083 
L 754.923552 182.453829 
L 753.665878 182.834083 
L 753.665878 183.594592 
L 754.923552 183.974846 
z
" clip-path="url(#p3e932aa4ca)" style="fill: #440154; stroke: #440154"/>
    <path d="M 756.181226 179.031541 
L 756.181226 178.271032 
L 754.923552 177.890778 
L 753.665878 178.271032 
L 753.665878 179.031541 
L 754.923552 179.411795 
z
" clip-path="url(#p3e932aa4ca)" style="fill: #27808e; stroke: #27808e"/>
    <path d="M 756.181226 172.186964 
L 756.181226 171.426456 
L 754.923552 171.046201 
L 753.665878 171.426456 
L 753.665878 172.186964 
L 754.923552 172.567218 
z
" clip-path="url(#p3e932aa4ca)" style="fill: #3bbb75; stroke: #3bbb75"/>
    <path d="M 756.181226 169.905439 
L 756.181226 169.14493 
L 754.923552 168.764676 
L 753.665878 169.14493 
L 753.665878 169.905439 
L 754.923552 170.285693 
z
" clip-path="url(#p3e932aa4ca)" style="fill: #440154; stroke: #440154"/>
    <path d="M 756.181226 167.623913 
L 756.181226 166.863404 
L 754.923552 166.48315 
L 753.665878 166.863404 
L 753.665878 167.623913 
L 754.923552 168.004167 
z
" clip-path="url(#p3e932aa4ca)" style="fill: #440154; stroke: #440154"/>
    <path d="M 758.696574 192.720694 
L 758.696574 191.960185 
L 757.4389 191.579931 
L 756.181226 191.960185 
L 756.181226 192.720694 
L 757.4389 193.100948 
z
" clip-path="url(#p3e932aa4ca)" style="fill: #440154; stroke: #440154"/>
    <path d="M 758.696574 190.439168 
L 758.696574 189.67866 
L 757.4389 189.298405 
L 756.181226 189.67866 
L 756.181226 190.439168 
L 757.4389 190.819422 
z
" clip-path="url(#p3e932aa4ca)" style="fill: #440154; stroke: #440154"/>
    <path d="M 758.696574 185.876117 
L 758.696574 185.115609 
L 757.4389 184.735354 
L 756.181226 185.115609 
L 756.181226 185.876117 
L 757.4389 186.256371 
z
" clip-path="url(#p3e932aa4ca)" style="fill: #440154; stroke: #440154"/>
    <path d="M 758.696574 183.594592 
L 758.696574 182.834083 
L 757.4389 182.453829 
L 756.181226 182.834083 
L 756.181226 183.594592 
L 757.4389 183.974846 
z
" clip-path="url(#p3e932aa4ca)" style="fill: #440154; stroke: #440154"/>
    <path d="M 758.696574 176.750015 
L 758.696574 175.989507 
L 757.4389 175.609252 
L 756.181226 175.989507 
L 756.181226 176.750015 
L 757.4389 177.130269 
z
" clip-path="url(#p3e932aa4ca)" style="fill: #440154; stroke: #440154"/>
    <path d="M 761.211922 190.439168 
L 761.211922 189.67866 
L 759.954248 189.298405 
L 758.696574 189.67866 
L 758.696574 190.439168 
L 759.954248 190.819422 
z
" clip-path="url(#p3e932aa4ca)" style="fill: #440154; stroke: #440154"/>
    <path d="M 761.211922 160.779336 
L 761.211922 160.018828 
L 759.954248 159.638574 
L 758.696574 160.018828 
L 758.696574 160.779336 
L 759.954248 161.159591 
z
" clip-path="url(#p3e932aa4ca)" style="fill: #27808e; stroke: #27808e"/>
    <path d="M 763.72727 190.439168 
L 763.72727 189.67866 
L 762.469596 189.298405 
L 761.211922 189.67866 
L 761.211922 190.439168 
L 762.469596 190.819422 
z
" clip-path="url(#p3e932aa4ca)" style="fill: #440154; stroke: #440154"/>
    <path d="M 763.72727 185.876117 
L 763.72727 185.115609 
L 762.469596 184.735354 
L 761.211922 185.115609 
L 761.211922 185.876117 
L 762.469596 186.256371 
z
" clip-path="url(#p3e932aa4ca)" style="fill: #27808e; stroke: #27808e"/>
    <path d="M 763.72727 176.750015 
L 763.72727 175.989507 
L 762.469596 175.609252 
L 761.211922 175.989507 
L 761.211922 176.750015 
L 762.469596 177.130269 
z
" clip-path="url(#p3e932aa4ca)" style="fill: #27808e; stroke: #27808e"/>
    <path d="M 763.72727 163.060862 
L 763.72727 162.300353 
L 762.469596 161.920099 
L 761.211922 162.300353 
L 761.211922 163.060862 
L 762.469596 163.441116 
z
" clip-path="url(#p3e932aa4ca)" style="fill: #440154; stroke: #440154"/>
    <path d="M 766.242618 197.283745 
L 766.242618 196.523236 
L 764.984944 196.142982 
L 763.72727 196.523236 
L 763.72727 197.283745 
L 764.984944 197.663999 
z
" clip-path="url(#p3e932aa4ca)" style="fill: #27808e; stroke: #27808e"/>
    <path d="M 766.242618 185.876117 
L 766.242618 185.115609 
L 764.984944 184.735354 
L 763.72727 185.115609 
L 763.72727 185.876117 
L 764.984944 186.256371 
z
" clip-path="url(#p3e932aa4ca)" style="fill: #440154; stroke: #440154"/>
    <path d="M 766.242618 179.031541 
L 766.242618 178.271032 
L 764.984944 177.890778 
L 763.72727 178.271032 
L 763.72727 179.031541 
L 764.984944 179.411795 
z
" clip-path="url(#p3e932aa4ca)" style="fill: #27808e; stroke: #27808e"/>
    <path d="M 766.242618 165.342387 
L 766.242618 164.581879 
L 764.984944 164.201625 
L 763.72727 164.581879 
L 763.72727 165.342387 
L 764.984944 165.722642 
z
" clip-path="url(#p3e932aa4ca)" style="fill: #440154; stroke: #440154"/>
    <path d="M 766.242618 156.216285 
L 766.242618 155.455777 
L 764.984944 155.075523 
L 763.72727 155.455777 
L 763.72727 156.216285 
L 764.984944 156.59654 
z
" clip-path="url(#p3e932aa4ca)" style="fill: #440154; stroke: #440154"/>
    <path d="M 766.242618 151.653234 
L 766.242618 150.892726 
L 764.984944 150.512472 
L 763.72727 150.892726 
L 763.72727 151.653234 
L 764.984944 152.033489 
z
" clip-path="url(#p3e932aa4ca)" style="fill: #440154; stroke: #440154"/>
    <path d="M 768.757966 192.720694 
L 768.757966 191.960185 
L 767.500292 191.579931 
L 766.242618 191.960185 
L 766.242618 192.720694 
L 767.500292 193.100948 
z
" clip-path="url(#p3e932aa4ca)" style="fill: #440154; stroke: #440154"/>
    <path d="M 768.757966 188.157643 
L 768.757966 187.397134 
L 767.500292 187.01688 
L 766.242618 187.397134 
L 766.242618 188.157643 
L 767.500292 188.537897 
z
" clip-path="url(#p3e932aa4ca)" style="fill: #440154; stroke: #440154"/>
    <path d="M 768.757966 179.031541 
L 768.757966 178.271032 
L 767.500292 177.890778 
L 766.242618 178.271032 
L 766.242618 179.031541 
L 767.500292 179.411795 
z
" clip-path="url(#p3e932aa4ca)" style="fill: #27808e; stroke: #27808e"/>
    <path d="M 768.757966 172.186964 
L 768.757966 171.426456 
L 767.500292 171.046201 
L 766.242618 171.426456 
L 766.242618 172.186964 
L 767.500292 172.567218 
z
" clip-path="url(#p3e932aa4ca)" style="fill: #440154; stroke: #440154"/>
    <path d="M 768.757966 158.497811 
L 768.757966 157.737302 
L 767.500292 157.357048 
L 766.242618 157.737302 
L 766.242618 158.497811 
L 767.500292 158.878065 
z
" clip-path="url(#p3e932aa4ca)" style="fill: #27808e; stroke: #27808e"/>
    <path d="M 768.757966 149.371709 
L 768.757966 148.6112 
L 767.500292 148.230946 
L 766.242618 148.6112 
L 766.242618 149.371709 
L 767.500292 149.751963 
z
" clip-path="url(#p3e932aa4ca)" style="fill: #440154; stroke: #440154"/>
    <path d="M 771.273314 192.720694 
L 771.273314 191.960185 
L 770.01564 191.579931 
L 768.757966 191.960185 
L 768.757966 192.720694 
L 770.01564 193.100948 
z
" clip-path="url(#p3e932aa4ca)" style="fill: #440154; stroke: #440154"/>
    <path d="M 771.273314 183.594592 
L 771.273314 182.834083 
L 770.01564 182.453829 
L 768.757966 182.834083 
L 768.757966 183.594592 
L 770.01564 183.974846 
z
" clip-path="url(#p3e932aa4ca)" style="fill: #440154; stroke: #440154"/>
    <path d="M 771.273314 181.313066 
L 771.273314 180.552558 
L 770.01564 180.172303 
L 768.757966 180.552558 
L 768.757966 181.313066 
L 770.01564 181.69332 
z
" clip-path="url(#p3e932aa4ca)" style="fill: #27808e; stroke: #27808e"/>
    <path d="M 771.273314 167.623913 
L 771.273314 166.863404 
L 770.01564 166.48315 
L 768.757966 166.863404 
L 768.757966 167.623913 
L 770.01564 168.004167 
z
" clip-path="url(#p3e932aa4ca)" style="fill: #27808e; stroke: #27808e"/>
    <path d="M 773.788662 179.031541 
L 773.788662 178.271032 
L 772.530988 177.890778 
L 771.273314 178.271032 
L 771.273314 179.031541 
L 772.530988 179.411795 
z
" clip-path="url(#p3e932aa4ca)" style="fill: #3bbb75; stroke: #3bbb75"/>
    <path d="M 773.788662 174.46849 
L 773.788662 173.707981 
L 772.530988 173.327727 
L 771.273314 173.707981 
L 771.273314 174.46849 
L 772.530988 174.848744 
z
" clip-path="url(#p3e932aa4ca)" style="fill: #a2da37; stroke: #a2da37"/>
    <path d="M 773.788662 172.186964 
L 773.788662 171.426456 
L 772.530988 171.046201 
L 771.273314 171.426456 
L 771.273314 172.186964 
L 772.530988 172.567218 
z
" clip-path="url(#p3e932aa4ca)" style="fill: #440154; stroke: #440154"/>
    <path d="M 773.788662 144.808658 
L 773.788662 144.048149 
L 772.530988 143.667895 
L 771.273314 144.048149 
L 771.273314 144.808658 
L 772.530988 145.188912 
z
" clip-path="url(#p3e932aa4ca)" style="fill: #440154; stroke: #440154"/>
    <path d="M 776.304009 185.876117 
L 776.304009 185.115609 
L 775.046335 184.735354 
L 773.788662 185.115609 
L 773.788662 185.876117 
L 775.046335 186.256371 
z
" clip-path="url(#p3e932aa4ca)" style="fill: #440154; stroke: #440154"/>
    <path d="M 776.304009 176.750015 
L 776.304009 175.989507 
L 775.046335 175.609252 
L 773.788662 175.989507 
L 773.788662 176.750015 
L 775.046335 177.130269 
z
" clip-path="url(#p3e932aa4ca)" style="fill: #27808e; stroke: #27808e"/>
    <path d="M 776.304009 174.46849 
L 776.304009 173.707981 
L 775.046335 173.327727 
L 773.788662 173.707981 
L 773.788662 174.46849 
L 775.046335 174.848744 
z
" clip-path="url(#p3e932aa4ca)" style="fill: #440154; stroke: #440154"/>
    <path d="M 776.304009 167.623913 
L 776.304009 166.863404 
L 775.046335 166.48315 
L 773.788662 166.863404 
L 773.788662 167.623913 
L 775.046335 168.004167 
z
" clip-path="url(#p3e932aa4ca)" style="fill: #440154; stroke: #440154"/>
    <path d="M 776.304009 165.342387 
L 776.304009 164.581879 
L 775.046335 164.201625 
L 773.788662 164.581879 
L 773.788662 165.342387 
L 775.046335 165.722642 
z
" clip-path="url(#p3e932aa4ca)" style="fill: #440154; stroke: #440154"/>
    <path d="M 776.304009 151.653234 
L 776.304009 150.892726 
L 775.046335 150.512472 
L 773.788662 150.892726 
L 773.788662 151.653234 
L 775.046335 152.033489 
z
" clip-path="url(#p3e932aa4ca)" style="fill: #440154; stroke: #440154"/>
    <path d="M 776.304009 149.371709 
L 776.304009 148.6112 
L 775.046335 148.230946 
L 773.788662 148.6112 
L 773.788662 149.371709 
L 775.046335 149.751963 
z
" clip-path="url(#p3e932aa4ca)" style="fill: #440154; stroke: #440154"/>
    <path d="M 778.819357 174.46849 
L 778.819357 173.707981 
L 777.561683 173.327727 
L 776.304009 173.707981 
L 776.304009 174.46849 
L 777.561683 174.848744 
z
" clip-path="url(#p3e932aa4ca)" style="fill: #440154; stroke: #440154"/>
    <path d="M 778.819357 165.342387 
L 778.819357 164.581879 
L 777.561683 164.201625 
L 776.304009 164.581879 
L 776.304009 165.342387 
L 777.561683 165.722642 
z
" clip-path="url(#p3e932aa4ca)" style="fill: #440154; stroke: #440154"/>
    <path d="M 778.819357 153.93476 
L 778.819357 153.174251 
L 777.561683 152.793997 
L 776.304009 153.174251 
L 776.304009 153.93476 
L 777.561683 154.315014 
z
" clip-path="url(#p3e932aa4ca)" style="fill: #27808e; stroke: #27808e"/>
    <path d="M 778.819357 142.527132 
L 778.819357 141.766624 
L 777.561683 141.386369 
L 776.304009 141.766624 
L 776.304009 142.527132 
L 777.561683 142.907386 
z
" clip-path="url(#p3e932aa4ca)" style="fill: #440154; stroke: #440154"/>
    <path d="M 781.334705 181.313066 
L 781.334705 180.552558 
L 780.077031 180.172303 
L 778.819357 180.552558 
L 778.819357 181.313066 
L 780.077031 181.69332 
z
" clip-path="url(#p3e932aa4ca)" style="fill: #440154; stroke: #440154"/>
    <path d="M 781.334705 174.46849 
L 781.334705 173.707981 
L 780.077031 173.327727 
L 778.819357 173.707981 
L 778.819357 174.46849 
L 780.077031 174.848744 
z
" clip-path="url(#p3e932aa4ca)" style="fill: #440154; stroke: #440154"/>
    <path d="M 781.334705 163.060862 
L 781.334705 162.300353 
L 780.077031 161.920099 
L 778.819357 162.300353 
L 778.819357 163.060862 
L 780.077031 163.441116 
z
" clip-path="url(#p3e932aa4ca)" style="fill: #440154; stroke: #440154"/>
    <path d="M 781.334705 160.779336 
L 781.334705 160.018828 
L 780.077031 159.638574 
L 778.819357 160.018828 
L 778.819357 160.779336 
L 780.077031 161.159591 
z
" clip-path="url(#p3e932aa4ca)" style="fill: #a2da37; stroke: #a2da37"/>
    <path d="M 781.334705 156.216285 
L 781.334705 155.455777 
L 780.077031 155.075523 
L 778.819357 155.455777 
L 778.819357 156.216285 
L 780.077031 156.59654 
z
" clip-path="url(#p3e932aa4ca)" style="fill: #440154; stroke: #440154"/>
    <path d="M 781.334705 153.93476 
L 781.334705 153.174251 
L 780.077031 152.793997 
L 778.819357 153.174251 
L 778.819357 153.93476 
L 780.077031 154.315014 
z
" clip-path="url(#p3e932aa4ca)" style="fill: #27808e; stroke: #27808e"/>
    <path d="M 781.334705 151.653234 
L 781.334705 150.892726 
L 780.077031 150.512472 
L 778.819357 150.892726 
L 778.819357 151.653234 
L 780.077031 152.033489 
z
" clip-path="url(#p3e932aa4ca)" style="fill: #440154; stroke: #440154"/>
    <path d="M 783.850053 179.031541 
L 783.850053 178.271032 
L 782.592379 177.890778 
L 781.334705 178.271032 
L 781.334705 179.031541 
L 782.592379 179.411795 
z
" clip-path="url(#p3e932aa4ca)" style="fill: #27808e; stroke: #27808e"/>
    <path d="M 783.850053 174.46849 
L 783.850053 173.707981 
L 782.592379 173.327727 
L 781.334705 173.707981 
L 781.334705 174.46849 
L 782.592379 174.848744 
z
" clip-path="url(#p3e932aa4ca)" style="fill: #440154; stroke: #440154"/>
    <path d="M 783.850053 169.905439 
L 783.850053 169.14493 
L 782.592379 168.764676 
L 781.334705 169.14493 
L 781.334705 169.905439 
L 782.592379 170.285693 
z
" clip-path="url(#p3e932aa4ca)" style="fill: #440154; stroke: #440154"/>
    <path d="M 783.850053 158.497811 
L 783.850053 157.737302 
L 782.592379 157.357048 
L 781.334705 157.737302 
L 781.334705 158.497811 
L 782.592379 158.878065 
z
" clip-path="url(#p3e932aa4ca)" style="fill: #27808e; stroke: #27808e"/>
    <path d="M 783.850053 156.216285 
L 783.850053 155.455777 
L 782.592379 155.075523 
L 781.334705 155.455777 
L 781.334705 156.216285 
L 782.592379 156.59654 
z
" clip-path="url(#p3e932aa4ca)" style="fill: #27808e; stroke: #27808e"/>
    <path d="M 786.365401 181.313066 
L 786.365401 180.552558 
L 785.107727 180.172303 
L 783.850053 180.552558 
L 783.850053 181.313066 
L 785.107727 181.69332 
z
" clip-path="url(#p3e932aa4ca)" style="fill: #440154; stroke: #440154"/>
    <path d="M 786.365401 179.031541 
L 786.365401 178.271032 
L 785.107727 177.890778 
L 783.850053 178.271032 
L 783.850053 179.031541 
L 785.107727 179.411795 
z
" clip-path="url(#p3e932aa4ca)" style="fill: #440154; stroke: #440154"/>
    <path d="M 786.365401 176.750015 
L 786.365401 175.989507 
L 785.107727 175.609252 
L 783.850053 175.989507 
L 783.850053 176.750015 
L 785.107727 177.130269 
z
" clip-path="url(#p3e932aa4ca)" style="fill: #440154; stroke: #440154"/>
    <path d="M 786.365401 172.186964 
L 786.365401 171.426456 
L 785.107727 171.046201 
L 783.850053 171.426456 
L 783.850053 172.186964 
L 785.107727 172.567218 
z
" clip-path="url(#p3e932aa4ca)" style="fill: #440154; stroke: #440154"/>
    <path d="M 786.365401 167.623913 
L 786.365401 166.863404 
L 785.107727 166.48315 
L 783.850053 166.863404 
L 783.850053 167.623913 
L 785.107727 168.004167 
z
" clip-path="url(#p3e932aa4ca)" style="fill: #440154; stroke: #440154"/>
    <path d="M 786.365401 158.497811 
L 786.365401 157.737302 
L 785.107727 157.357048 
L 783.850053 157.737302 
L 783.850053 158.497811 
L 785.107727 158.878065 
z
" clip-path="url(#p3e932aa4ca)" style="fill: #27808e; stroke: #27808e"/>
    <path d="M 786.365401 135.682556 
L 786.365401 134.922047 
L 785.107727 134.541793 
L 783.850053 134.922047 
L 783.850053 135.682556 
L 785.107727 136.06281 
z
" clip-path="url(#p3e932aa4ca)" style="fill: #27808e; stroke: #27808e"/>
    <path d="M 788.880749 176.750015 
L 788.880749 175.989507 
L 787.623075 175.609252 
L 786.365401 175.989507 
L 786.365401 176.750015 
L 787.623075 177.130269 
z
" clip-path="url(#p3e932aa4ca)" style="fill: #27808e; stroke: #27808e"/>
    <path d="M 788.880749 172.186964 
L 788.880749 171.426456 
L 787.623075 171.046201 
L 786.365401 171.426456 
L 786.365401 172.186964 
L 787.623075 172.567218 
z
" clip-path="url(#p3e932aa4ca)" style="fill: #3bbb75; stroke: #3bbb75"/>
    <path d="M 788.880749 169.905439 
L 788.880749 169.14493 
L 787.623075 168.764676 
L 786.365401 169.14493 
L 786.365401 169.905439 
L 787.623075 170.285693 
z
" clip-path="url(#p3e932aa4ca)" style="fill: #440154; stroke: #440154"/>
    <path d="M 788.880749 163.060862 
L 788.880749 162.300353 
L 787.623075 161.920099 
L 786.365401 162.300353 
L 786.365401 163.060862 
L 787.623075 163.441116 
z
" clip-path="url(#p3e932aa4ca)" style="fill: #440154; stroke: #440154"/>
    <path d="M 788.880749 144.808658 
L 788.880749 144.048149 
L 787.623075 143.667895 
L 786.365401 144.048149 
L 786.365401 144.808658 
L 787.623075 145.188912 
z
" clip-path="url(#p3e932aa4ca)" style="fill: #27808e; stroke: #27808e"/>
    <path d="M 788.880749 140.245607 
L 788.880749 139.485098 
L 787.623075 139.104844 
L 786.365401 139.485098 
L 786.365401 140.245607 
L 787.623075 140.625861 
z
" clip-path="url(#p3e932aa4ca)" style="fill: #440154; stroke: #440154"/>
    <path d="M 791.396097 172.186964 
L 791.396097 171.426456 
L 790.138423 171.046201 
L 788.880749 171.426456 
L 788.880749 172.186964 
L 790.138423 172.567218 
z
" clip-path="url(#p3e932aa4ca)" style="fill: #27808e; stroke: #27808e"/>
    <path d="M 791.396097 165.342387 
L 791.396097 164.581879 
L 790.138423 164.201625 
L 788.880749 164.581879 
L 788.880749 165.342387 
L 790.138423 165.722642 
z
" clip-path="url(#p3e932aa4ca)" style="fill: #440154; stroke: #440154"/>
    <path d="M 791.396097 163.060862 
L 791.396097 162.300353 
L 790.138423 161.920099 
L 788.880749 162.300353 
L 788.880749 163.060862 
L 790.138423 163.441116 
z
" clip-path="url(#p3e932aa4ca)" style="fill: #27808e; stroke: #27808e"/>
    <path d="M 791.396097 153.93476 
L 791.396097 153.174251 
L 790.138423 152.793997 
L 788.880749 153.174251 
L 788.880749 153.93476 
L 790.138423 154.315014 
z
" clip-path="url(#p3e932aa4ca)" style="fill: #440154; stroke: #440154"/>
    <path d="M 791.396097 149.371709 
L 791.396097 148.6112 
L 790.138423 148.230946 
L 788.880749 148.6112 
L 788.880749 149.371709 
L 790.138423 149.751963 
z
" clip-path="url(#p3e932aa4ca)" style="fill: #27808e; stroke: #27808e"/>
    <path d="M 791.396097 140.245607 
L 791.396097 139.485098 
L 790.138423 139.104844 
L 788.880749 139.485098 
L 788.880749 140.245607 
L 790.138423 140.625861 
z
" clip-path="url(#p3e932aa4ca)" style="fill: #440154; stroke: #440154"/>
    <path d="M 793.911445 181.313066 
L 793.911445 180.552558 
L 792.653771 180.172303 
L 791.396097 180.552558 
L 791.396097 181.313066 
L 792.653771 181.69332 
z
" clip-path="url(#p3e932aa4ca)" style="fill: #440154; stroke: #440154"/>
    <path d="M 793.911445 176.750015 
L 793.911445 175.989507 
L 792.653771 175.609252 
L 791.396097 175.989507 
L 791.396097 176.750015 
L 792.653771 177.130269 
z
" clip-path="url(#p3e932aa4ca)" style="fill: #440154; stroke: #440154"/>
    <path d="M 793.911445 172.186964 
L 793.911445 171.426456 
L 792.653771 171.046201 
L 791.396097 171.426456 
L 791.396097 172.186964 
L 792.653771 172.567218 
z
" clip-path="url(#p3e932aa4ca)" style="fill: #27808e; stroke: #27808e"/>
    <path d="M 793.911445 167.623913 
L 793.911445 166.863404 
L 792.653771 166.48315 
L 791.396097 166.863404 
L 791.396097 167.623913 
L 792.653771 168.004167 
z
" clip-path="url(#p3e932aa4ca)" style="fill: #440154; stroke: #440154"/>
    <path d="M 793.911445 160.779336 
L 793.911445 160.018828 
L 792.653771 159.638574 
L 791.396097 160.018828 
L 791.396097 160.779336 
L 792.653771 161.159591 
z
" clip-path="url(#p3e932aa4ca)" style="fill: #440154; stroke: #440154"/>
    <path d="M 793.911445 151.653234 
L 793.911445 150.892726 
L 792.653771 150.512472 
L 791.396097 150.892726 
L 791.396097 151.653234 
L 792.653771 152.033489 
z
" clip-path="url(#p3e932aa4ca)" style="fill: #3bbb75; stroke: #3bbb75"/>
    <path d="M 793.911445 142.527132 
L 793.911445 141.766624 
L 792.653771 141.386369 
L 791.396097 141.766624 
L 791.396097 142.527132 
L 792.653771 142.907386 
z
" clip-path="url(#p3e932aa4ca)" style="fill: #440154; stroke: #440154"/>
    <path d="M 796.426793 176.750015 
L 796.426793 175.989507 
L 795.169119 175.609252 
L 793.911445 175.989507 
L 793.911445 176.750015 
L 795.169119 177.130269 
z
" clip-path="url(#p3e932aa4ca)" style="fill: #a2da37; stroke: #a2da37"/>
    <path d="M 796.426793 158.497811 
L 796.426793 157.737302 
L 795.169119 157.357048 
L 793.911445 157.737302 
L 793.911445 158.497811 
L 795.169119 158.878065 
z
" clip-path="url(#p3e932aa4ca)" style="fill: #440154; stroke: #440154"/>
    <path d="M 796.426793 153.93476 
L 796.426793 153.174251 
L 795.169119 152.793997 
L 793.911445 153.174251 
L 793.911445 153.93476 
L 795.169119 154.315014 
z
" clip-path="url(#p3e932aa4ca)" style="fill: #27808e; stroke: #27808e"/>
    <path d="M 796.426793 144.808658 
L 796.426793 144.048149 
L 795.169119 143.667895 
L 793.911445 144.048149 
L 793.911445 144.808658 
L 795.169119 145.188912 
z
" clip-path="url(#p3e932aa4ca)" style="fill: #440154; stroke: #440154"/>
    <path d="M 798.942141 172.186964 
L 798.942141 171.426456 
L 797.684467 171.046201 
L 796.426793 171.426456 
L 796.426793 172.186964 
L 797.684467 172.567218 
z
" clip-path="url(#p3e932aa4ca)" style="fill: #440154; stroke: #440154"/>
    <path d="M 798.942141 153.93476 
L 798.942141 153.174251 
L 797.684467 152.793997 
L 796.426793 153.174251 
L 796.426793 153.93476 
L 797.684467 154.315014 
z
" clip-path="url(#p3e932aa4ca)" style="fill: #440154; stroke: #440154"/>
    <path d="M 798.942141 149.371709 
L 798.942141 148.6112 
L 797.684467 148.230946 
L 796.426793 148.6112 
L 796.426793 149.371709 
L 797.684467 149.751963 
z
" clip-path="url(#p3e932aa4ca)" style="fill: #440154; stroke: #440154"/>
    <path d="M 801.457489 176.750015 
L 801.457489 175.989507 
L 800.199815 175.609252 
L 798.942141 175.989507 
L 798.942141 176.750015 
L 800.199815 177.130269 
z
" clip-path="url(#p3e932aa4ca)" style="fill: #440154; stroke: #440154"/>
    <path d="M 801.457489 172.186964 
L 801.457489 171.426456 
L 800.199815 171.046201 
L 798.942141 171.426456 
L 798.942141 172.186964 
L 800.199815 172.567218 
z
" clip-path="url(#p3e932aa4ca)" style="fill: #440154; stroke: #440154"/>
    <path d="M 801.457489 144.808658 
L 801.457489 144.048149 
L 800.199815 143.667895 
L 798.942141 144.048149 
L 798.942141 144.808658 
L 800.199815 145.188912 
z
" clip-path="url(#p3e932aa4ca)" style="fill: #440154; stroke: #440154"/>
    <path d="M 801.457489 135.682556 
L 801.457489 134.922047 
L 800.199815 134.541793 
L 798.942141 134.922047 
L 798.942141 135.682556 
L 800.199815 136.06281 
z
" clip-path="url(#p3e932aa4ca)" style="fill: #440154; stroke: #440154"/>
    <path d="M 801.457489 133.40103 
L 801.457489 132.640522 
L 800.199815 132.260267 
L 798.942141 132.640522 
L 798.942141 133.40103 
L 800.199815 133.781284 
z
" clip-path="url(#p3e932aa4ca)" style="fill: #440154; stroke: #440154"/>
    <path d="M 801.457489 128.837979 
L 801.457489 128.077471 
L 800.199815 127.697216 
L 798.942141 128.077471 
L 798.942141 128.837979 
L 800.199815 129.218233 
z
" clip-path="url(#p3e932aa4ca)" style="fill: #440154; stroke: #440154"/>
    <path d="M 803.972837 174.46849 
L 803.972837 173.707981 
L 802.715163 173.327727 
L 801.457489 173.707981 
L 801.457489 174.46849 
L 802.715163 174.848744 
z
" clip-path="url(#p3e932aa4ca)" style="fill: #440154; stroke: #440154"/>
    <path d="M 803.972837 172.186964 
L 803.972837 171.426456 
L 802.715163 171.046201 
L 801.457489 171.426456 
L 801.457489 172.186964 
L 802.715163 172.567218 
z
" clip-path="url(#p3e932aa4ca)" style="fill: #440154; stroke: #440154"/>
    <path d="M 806.488184 174.46849 
L 806.488184 173.707981 
L 805.230511 173.327727 
L 803.972837 173.707981 
L 803.972837 174.46849 
L 805.230511 174.848744 
z
" clip-path="url(#p3e932aa4ca)" style="fill: #440154; stroke: #440154"/>
    <path d="M 806.488184 137.964081 
L 806.488184 137.203573 
L 805.230511 136.823318 
L 803.972837 137.203573 
L 803.972837 137.964081 
L 805.230511 138.344335 
z
" clip-path="url(#p3e932aa4ca)" style="fill: #440154; stroke: #440154"/>
    <path d="M 811.51888 167.623913 
L 811.51888 166.863404 
L 810.261206 166.48315 
L 809.003532 166.863404 
L 809.003532 167.623913 
L 810.261206 168.004167 
z
" clip-path="url(#p3e932aa4ca)" style="fill: #440154; stroke: #440154"/>
    <path d="M 814.034228 165.342387 
L 814.034228 164.581879 
L 812.776554 164.201625 
L 811.51888 164.581879 
L 811.51888 165.342387 
L 812.776554 165.722642 
z
" clip-path="url(#p3e932aa4ca)" style="fill: #440154; stroke: #440154"/>
    <path d="M 814.034228 163.060862 
L 814.034228 162.300353 
L 812.776554 161.920099 
L 811.51888 162.300353 
L 811.51888 163.060862 
L 812.776554 163.441116 
z
" clip-path="url(#p3e932aa4ca)" style="fill: #3bbb75; stroke: #3bbb75"/>
    <path d="M 816.549576 135.682556 
L 816.549576 134.922047 
L 815.291902 134.541793 
L 814.034228 134.922047 
L 814.034228 135.682556 
L 815.291902 136.06281 
z
" clip-path="url(#p3e932aa4ca)" style="fill: #440154; stroke: #440154"/>
    <path d="M 819.064924 160.779336 
L 819.064924 160.018828 
L 817.80725 159.638574 
L 816.549576 160.018828 
L 816.549576 160.779336 
L 817.80725 161.159591 
z
" clip-path="url(#p3e932aa4ca)" style="fill: #440154; stroke: #440154"/>
    <path d="M 819.064924 133.40103 
L 819.064924 132.640522 
L 817.80725 132.260267 
L 816.549576 132.640522 
L 816.549576 133.40103 
L 817.80725 133.781284 
z
" clip-path="url(#p3e932aa4ca)" style="fill: #440154; stroke: #440154"/>
    <path d="M 819.064924 131.119505 
L 819.064924 130.358996 
L 817.80725 129.978742 
L 816.549576 130.358996 
L 816.549576 131.119505 
L 817.80725 131.499759 
z
" clip-path="url(#p3e932aa4ca)" style="fill: #440154; stroke: #440154"/>
    <path d="M 821.580272 156.216285 
L 821.580272 155.455777 
L 820.322598 155.075523 
L 819.064924 155.455777 
L 819.064924 156.216285 
L 820.322598 156.59654 
z
" clip-path="url(#p3e932aa4ca)" style="fill: #27808e; stroke: #27808e"/>
    <path d="M 824.09562 151.653234 
L 824.09562 150.892726 
L 822.837946 150.512472 
L 821.580272 150.892726 
L 821.580272 151.653234 
L 822.837946 152.033489 
z
" clip-path="url(#p3e932aa4ca)" style="fill: #440154; stroke: #440154"/>
    <path d="M 676.947767 184.735354 
L 676.947767 183.974846 
L 675.690093 183.594592 
L 674.432419 183.974846 
L 674.432419 184.735354 
L 675.690093 185.115609 
z
" clip-path="url(#p3e932aa4ca)" style="fill: #440154; stroke: #440154"/>
    <path d="M 681.978462 175.609252 
L 681.978462 174.848744 
L 680.720789 174.46849 
L 679.463115 174.848744 
L 679.463115 175.609252 
L 680.720789 175.989507 
z
" clip-path="url(#p3e932aa4ca)" style="fill: #440154; stroke: #440154"/>
    <path d="M 684.49381 180.172303 
L 684.49381 179.411795 
L 683.236136 179.031541 
L 681.978462 179.411795 
L 681.978462 180.172303 
L 683.236136 180.552558 
z
" clip-path="url(#p3e932aa4ca)" style="fill: #440154; stroke: #440154"/>
    <path d="M 684.49381 175.609252 
L 684.49381 174.848744 
L 683.236136 174.46849 
L 681.978462 174.848744 
L 681.978462 175.609252 
L 683.236136 175.989507 
z
" clip-path="url(#p3e932aa4ca)" style="fill: #440154; stroke: #440154"/>
    <path d="M 684.49381 173.327727 
L 684.49381 172.567218 
L 683.236136 172.186964 
L 681.978462 172.567218 
L 681.978462 173.327727 
L 683.236136 173.707981 
z
" clip-path="url(#p3e932aa4ca)" style="fill: #27808e; stroke: #27808e"/>
    <path d="M 687.009158 189.298405 
L 687.009158 188.537897 
L 685.751484 188.157643 
L 684.49381 188.537897 
L 684.49381 189.298405 
L 685.751484 189.67866 
z
" clip-path="url(#p3e932aa4ca)" style="fill: #440154; stroke: #440154"/>
    <path d="M 687.009158 187.01688 
L 687.009158 186.256371 
L 685.751484 185.876117 
L 684.49381 186.256371 
L 684.49381 187.01688 
L 685.751484 187.397134 
z
" clip-path="url(#p3e932aa4ca)" style="fill: #440154; stroke: #440154"/>
    <path d="M 687.009158 175.609252 
L 687.009158 174.848744 
L 685.751484 174.46849 
L 684.49381 174.848744 
L 684.49381 175.609252 
L 685.751484 175.989507 
z
" clip-path="url(#p3e932aa4ca)" style="fill: #440154; stroke: #440154"/>
    <path d="M 687.009158 173.327727 
L 687.009158 172.567218 
L 685.751484 172.186964 
L 684.49381 172.567218 
L 684.49381 173.327727 
L 685.751484 173.707981 
z
" clip-path="url(#p3e932aa4ca)" style="fill: #27808e; stroke: #27808e"/>
    <path d="M 687.009158 171.046201 
L 687.009158 170.285693 
L 685.751484 169.905439 
L 684.49381 170.285693 
L 684.49381 171.046201 
L 685.751484 171.426456 
z
" clip-path="url(#p3e932aa4ca)" style="fill: #440154; stroke: #440154"/>
    <path d="M 689.524506 191.579931 
L 689.524506 190.819422 
L 688.266832 190.439168 
L 687.009158 190.819422 
L 687.009158 191.579931 
L 688.266832 191.960185 
z
" clip-path="url(#p3e932aa4ca)" style="fill: #440154; stroke: #440154"/>
    <path d="M 689.524506 189.298405 
L 689.524506 188.537897 
L 688.266832 188.157643 
L 687.009158 188.537897 
L 687.009158 189.298405 
L 688.266832 189.67866 
z
" clip-path="url(#p3e932aa4ca)" style="fill: #440154; stroke: #440154"/>
    <path d="M 689.524506 177.890778 
L 689.524506 177.130269 
L 688.266832 176.750015 
L 687.009158 177.130269 
L 687.009158 177.890778 
L 688.266832 178.271032 
z
" clip-path="url(#p3e932aa4ca)" style="fill: #440154; stroke: #440154"/>
    <path d="M 689.524506 173.327727 
L 689.524506 172.567218 
L 688.266832 172.186964 
L 687.009158 172.567218 
L 687.009158 173.327727 
L 688.266832 173.707981 
z
" clip-path="url(#p3e932aa4ca)" style="fill: #27808e; stroke: #27808e"/>
    <path d="M 689.524506 171.046201 
L 689.524506 170.285693 
L 688.266832 169.905439 
L 687.009158 170.285693 
L 687.009158 171.046201 
L 688.266832 171.426456 
z
" clip-path="url(#p3e932aa4ca)" style="fill: #440154; stroke: #440154"/>
    <path d="M 692.039854 166.48315 
L 692.039854 165.722642 
L 690.78218 165.342387 
L 689.524506 165.722642 
L 689.524506 166.48315 
L 690.78218 166.863404 
z
" clip-path="url(#p3e932aa4ca)" style="fill: #440154; stroke: #440154"/>
    <path d="M 692.039854 164.201625 
L 692.039854 163.441116 
L 690.78218 163.060862 
L 689.524506 163.441116 
L 689.524506 164.201625 
L 690.78218 164.581879 
z
" clip-path="url(#p3e932aa4ca)" style="fill: #440154; stroke: #440154"/>
    <path d="M 694.555202 164.201625 
L 694.555202 163.441116 
L 693.297528 163.060862 
L 692.039854 163.441116 
L 692.039854 164.201625 
L 693.297528 164.581879 
z
" clip-path="url(#p3e932aa4ca)" style="fill: #440154; stroke: #440154"/>
    <path d="M 697.07055 193.861457 
L 697.07055 193.100948 
L 695.812876 192.720694 
L 694.555202 193.100948 
L 694.555202 193.861457 
L 695.812876 194.241711 
z
" clip-path="url(#p3e932aa4ca)" style="fill: #440154; stroke: #440154"/>
    <path d="M 697.07055 191.579931 
L 697.07055 190.819422 
L 695.812876 190.439168 
L 694.555202 190.819422 
L 694.555202 191.579931 
L 695.812876 191.960185 
z
" clip-path="url(#p3e932aa4ca)" style="fill: #440154; stroke: #440154"/>
    <path d="M 697.07055 189.298405 
L 697.07055 188.537897 
L 695.812876 188.157643 
L 694.555202 188.537897 
L 694.555202 189.298405 
L 695.812876 189.67866 
z
" clip-path="url(#p3e932aa4ca)" style="fill: #440154; stroke: #440154"/>
    <path d="M 699.585898 196.142982 
L 699.585898 195.382474 
L 698.328224 195.002219 
L 697.07055 195.382474 
L 697.07055 196.142982 
L 698.328224 196.523236 
z
" clip-path="url(#p3e932aa4ca)" style="fill: #440154; stroke: #440154"/>
    <path d="M 699.585898 193.861457 
L 699.585898 193.100948 
L 698.328224 192.720694 
L 697.07055 193.100948 
L 697.07055 193.861457 
L 698.328224 194.241711 
z
" clip-path="url(#p3e932aa4ca)" style="fill: #440154; stroke: #440154"/>
    <path d="M 699.585898 161.920099 
L 699.585898 161.159591 
L 698.328224 160.779336 
L 697.07055 161.159591 
L 697.07055 161.920099 
L 698.328224 162.300353 
z
" clip-path="url(#p3e932aa4ca)" style="fill: #440154; stroke: #440154"/>
    <path d="M 702.101246 198.424508 
L 702.101246 197.663999 
L 700.843572 197.283745 
L 699.585898 197.663999 
L 699.585898 198.424508 
L 700.843572 198.804762 
z
" clip-path="url(#p3e932aa4ca)" style="fill: #27808e; stroke: #27808e"/>
    <path d="M 702.101246 189.298405 
L 702.101246 188.537897 
L 700.843572 188.157643 
L 699.585898 188.537897 
L 699.585898 189.298405 
L 700.843572 189.67866 
z
" clip-path="url(#p3e932aa4ca)" style="fill: #440154; stroke: #440154"/>
    <path d="M 702.101246 171.046201 
L 702.101246 170.285693 
L 700.843572 169.905439 
L 699.585898 170.285693 
L 699.585898 171.046201 
L 700.843572 171.426456 
z
" clip-path="url(#p3e932aa4ca)" style="fill: #440154; stroke: #440154"/>
    <path d="M 702.101246 166.48315 
L 702.101246 165.722642 
L 700.843572 165.342387 
L 699.585898 165.722642 
L 699.585898 166.48315 
L 700.843572 166.863404 
z
" clip-path="url(#p3e932aa4ca)" style="fill: #440154; stroke: #440154"/>
    <path d="M 702.101246 164.201625 
L 702.101246 163.441116 
L 700.843572 163.060862 
L 699.585898 163.441116 
L 699.585898 164.201625 
L 700.843572 164.581879 
z
" clip-path="url(#p3e932aa4ca)" style="fill: #440154; stroke: #440154"/>
    <path d="M 702.101246 161.920099 
L 702.101246 161.159591 
L 700.843572 160.779336 
L 699.585898 161.159591 
L 699.585898 161.920099 
L 700.843572 162.300353 
z
" clip-path="url(#p3e932aa4ca)" style="fill: #440154; stroke: #440154"/>
    <path d="M 702.101246 159.638574 
L 702.101246 158.878065 
L 700.843572 158.497811 
L 699.585898 158.878065 
L 699.585898 159.638574 
L 700.843572 160.018828 
z
" clip-path="url(#p3e932aa4ca)" style="fill: #27808e; stroke: #27808e"/>
    <path d="M 704.616594 200.706033 
L 704.616594 199.945525 
L 703.35892 199.56527 
L 702.101246 199.945525 
L 702.101246 200.706033 
L 703.35892 201.086287 
z
" clip-path="url(#p3e932aa4ca)" style="fill: #440154; stroke: #440154"/>
    <path d="M 704.616594 193.861457 
L 704.616594 193.100948 
L 703.35892 192.720694 
L 702.101246 193.100948 
L 702.101246 193.861457 
L 703.35892 194.241711 
z
" clip-path="url(#p3e932aa4ca)" style="fill: #440154; stroke: #440154"/>
    <path d="M 704.616594 191.579931 
L 704.616594 190.819422 
L 703.35892 190.439168 
L 702.101246 190.819422 
L 702.101246 191.579931 
L 703.35892 191.960185 
z
" clip-path="url(#p3e932aa4ca)" style="fill: #440154; stroke: #440154"/>
    <path d="M 704.616594 187.01688 
L 704.616594 186.256371 
L 703.35892 185.876117 
L 702.101246 186.256371 
L 702.101246 187.01688 
L 703.35892 187.397134 
z
" clip-path="url(#p3e932aa4ca)" style="fill: #27808e; stroke: #27808e"/>
    <path d="M 704.616594 159.638574 
L 704.616594 158.878065 
L 703.35892 158.497811 
L 702.101246 158.878065 
L 702.101246 159.638574 
L 703.35892 160.018828 
z
" clip-path="url(#p3e932aa4ca)" style="fill: #440154; stroke: #440154"/>
    <path d="M 707.131942 205.269084 
L 707.131942 204.508576 
L 705.874268 204.128321 
L 704.616594 204.508576 
L 704.616594 205.269084 
L 705.874268 205.649338 
z
" clip-path="url(#p3e932aa4ca)" style="fill: #27808e; stroke: #27808e"/>
    <path d="M 707.131942 202.987559 
L 707.131942 202.22705 
L 705.874268 201.846796 
L 704.616594 202.22705 
L 704.616594 202.987559 
L 705.874268 203.367813 
z
" clip-path="url(#p3e932aa4ca)" style="fill: #440154; stroke: #440154"/>
    <path d="M 707.131942 193.861457 
L 707.131942 193.100948 
L 705.874268 192.720694 
L 704.616594 193.100948 
L 704.616594 193.861457 
L 705.874268 194.241711 
z
" clip-path="url(#p3e932aa4ca)" style="fill: #27808e; stroke: #27808e"/>
    <path d="M 707.131942 171.046201 
L 707.131942 170.285693 
L 705.874268 169.905439 
L 704.616594 170.285693 
L 704.616594 171.046201 
L 705.874268 171.426456 
z
" clip-path="url(#p3e932aa4ca)" style="fill: #440154; stroke: #440154"/>
    <path d="M 707.131942 155.075523 
L 707.131942 154.315014 
L 705.874268 153.93476 
L 704.616594 154.315014 
L 704.616594 155.075523 
L 705.874268 155.455777 
z
" clip-path="url(#p3e932aa4ca)" style="fill: #440154; stroke: #440154"/>
    <path d="M 709.64729 205.269084 
L 709.64729 204.508576 
L 708.389616 204.128321 
L 707.131942 204.508576 
L 707.131942 205.269084 
L 708.389616 205.649338 
z
" clip-path="url(#p3e932aa4ca)" style="fill: #440154; stroke: #440154"/>
    <path d="M 709.64729 180.172303 
L 709.64729 179.411795 
L 708.389616 179.031541 
L 707.131942 179.411795 
L 707.131942 180.172303 
L 708.389616 180.552558 
z
" clip-path="url(#p3e932aa4ca)" style="fill: #440154; stroke: #440154"/>
    <path d="M 709.64729 175.609252 
L 709.64729 174.848744 
L 708.389616 174.46849 
L 707.131942 174.848744 
L 707.131942 175.609252 
L 708.389616 175.989507 
z
" clip-path="url(#p3e932aa4ca)" style="fill: #440154; stroke: #440154"/>
    <path d="M 709.64729 171.046201 
L 709.64729 170.285693 
L 708.389616 169.905439 
L 707.131942 170.285693 
L 707.131942 171.046201 
L 708.389616 171.426456 
z
" clip-path="url(#p3e932aa4ca)" style="fill: #440154; stroke: #440154"/>
    <path d="M 712.162638 198.424508 
L 712.162638 197.663999 
L 710.904964 197.283745 
L 709.64729 197.663999 
L 709.64729 198.424508 
L 710.904964 198.804762 
z
" clip-path="url(#p3e932aa4ca)" style="fill: #440154; stroke: #440154"/>
    <path d="M 712.162638 182.453829 
L 712.162638 181.69332 
L 710.904964 181.313066 
L 709.64729 181.69332 
L 709.64729 182.453829 
L 710.904964 182.834083 
z
" clip-path="url(#p3e932aa4ca)" style="fill: #440154; stroke: #440154"/>
    <path d="M 712.162638 180.172303 
L 712.162638 179.411795 
L 710.904964 179.031541 
L 709.64729 179.411795 
L 709.64729 180.172303 
L 710.904964 180.552558 
z
" clip-path="url(#p3e932aa4ca)" style="fill: #27808e; stroke: #27808e"/>
    <path d="M 712.162638 177.890778 
L 712.162638 177.130269 
L 710.904964 176.750015 
L 709.64729 177.130269 
L 709.64729 177.890778 
L 710.904964 178.271032 
z
" clip-path="url(#p3e932aa4ca)" style="fill: #440154; stroke: #440154"/>
    <path d="M 712.162638 171.046201 
L 712.162638 170.285693 
L 710.904964 169.905439 
L 709.64729 170.285693 
L 709.64729 171.046201 
L 710.904964 171.426456 
z
" clip-path="url(#p3e932aa4ca)" style="fill: #440154; stroke: #440154"/>
    <path d="M 712.162638 152.793997 
L 712.162638 152.033489 
L 710.904964 151.653234 
L 709.64729 152.033489 
L 709.64729 152.793997 
L 710.904964 153.174251 
z
" clip-path="url(#p3e932aa4ca)" style="fill: #440154; stroke: #440154"/>
    <path d="M 714.677985 200.706033 
L 714.677985 199.945525 
L 713.420311 199.56527 
L 712.162638 199.945525 
L 712.162638 200.706033 
L 713.420311 201.086287 
z
" clip-path="url(#p3e932aa4ca)" style="fill: #440154; stroke: #440154"/>
    <path d="M 714.677985 193.861457 
L 714.677985 193.100948 
L 713.420311 192.720694 
L 712.162638 193.100948 
L 712.162638 193.861457 
L 713.420311 194.241711 
z
" clip-path="url(#p3e932aa4ca)" style="fill: #27808e; stroke: #27808e"/>
    <path d="M 714.677985 184.735354 
L 714.677985 183.974846 
L 713.420311 183.594592 
L 712.162638 183.974846 
L 712.162638 184.735354 
L 713.420311 185.115609 
z
" clip-path="url(#p3e932aa4ca)" style="fill: #440154; stroke: #440154"/>
    <path d="M 714.677985 171.046201 
L 714.677985 170.285693 
L 713.420311 169.905439 
L 712.162638 170.285693 
L 712.162638 171.046201 
L 713.420311 171.426456 
z
" clip-path="url(#p3e932aa4ca)" style="fill: #440154; stroke: #440154"/>
    <path d="M 717.193333 200.706033 
L 717.193333 199.945525 
L 715.935659 199.56527 
L 714.677985 199.945525 
L 714.677985 200.706033 
L 715.935659 201.086287 
z
" clip-path="url(#p3e932aa4ca)" style="fill: #440154; stroke: #440154"/>
    <path d="M 717.193333 191.579931 
L 717.193333 190.819422 
L 715.935659 190.439168 
L 714.677985 190.819422 
L 714.677985 191.579931 
L 715.935659 191.960185 
z
" clip-path="url(#p3e932aa4ca)" style="fill: #440154; stroke: #440154"/>
    <path d="M 717.193333 180.172303 
L 717.193333 179.411795 
L 715.935659 179.031541 
L 714.677985 179.411795 
L 714.677985 180.172303 
L 715.935659 180.552558 
z
" clip-path="url(#p3e932aa4ca)" style="fill: #440154; stroke: #440154"/>
    <path d="M 719.708681 191.579931 
L 719.708681 190.819422 
L 718.451007 190.439168 
L 717.193333 190.819422 
L 717.193333 191.579931 
L 718.451007 191.960185 
z
" clip-path="url(#p3e932aa4ca)" style="fill: #440154; stroke: #440154"/>
    <path d="M 719.708681 189.298405 
L 719.708681 188.537897 
L 718.451007 188.157643 
L 717.193333 188.537897 
L 717.193333 189.298405 
L 718.451007 189.67866 
z
" clip-path="url(#p3e932aa4ca)" style="fill: #440154; stroke: #440154"/>
    <path d="M 719.708681 177.890778 
L 719.708681 177.130269 
L 718.451007 176.750015 
L 717.193333 177.130269 
L 717.193333 177.890778 
L 718.451007 178.271032 
z
" clip-path="url(#p3e932aa4ca)" style="fill: #27808e; stroke: #27808e"/>
    <path d="M 722.224029 196.142982 
L 722.224029 195.382474 
L 720.966355 195.002219 
L 719.708681 195.382474 
L 719.708681 196.142982 
L 720.966355 196.523236 
z
" clip-path="url(#p3e932aa4ca)" style="fill: #440154; stroke: #440154"/>
    <path d="M 722.224029 193.861457 
L 722.224029 193.100948 
L 720.966355 192.720694 
L 719.708681 193.100948 
L 719.708681 193.861457 
L 720.966355 194.241711 
z
" clip-path="url(#p3e932aa4ca)" style="fill: #440154; stroke: #440154"/>
    <path d="M 722.224029 180.172303 
L 722.224029 179.411795 
L 720.966355 179.031541 
L 719.708681 179.411795 
L 719.708681 180.172303 
L 720.966355 180.552558 
z
" clip-path="url(#p3e932aa4ca)" style="fill: #3bbb75; stroke: #3bbb75"/>
    <path d="M 724.739377 184.735354 
L 724.739377 183.974846 
L 723.481703 183.594592 
L 722.224029 183.974846 
L 722.224029 184.735354 
L 723.481703 185.115609 
z
" clip-path="url(#p3e932aa4ca)" style="fill: #440154; stroke: #440154"/>
    <path d="M 724.739377 177.890778 
L 724.739377 177.130269 
L 723.481703 176.750015 
L 722.224029 177.130269 
L 722.224029 177.890778 
L 723.481703 178.271032 
z
" clip-path="url(#p3e932aa4ca)" style="fill: #440154; stroke: #440154"/>
    <path d="M 727.254725 189.298405 
L 727.254725 188.537897 
L 725.997051 188.157643 
L 724.739377 188.537897 
L 724.739377 189.298405 
L 725.997051 189.67866 
z
" clip-path="url(#p3e932aa4ca)" style="fill: #440154; stroke: #440154"/>
    <path d="M 727.254725 177.890778 
L 727.254725 177.130269 
L 725.997051 176.750015 
L 724.739377 177.130269 
L 724.739377 177.890778 
L 725.997051 178.271032 
z
" clip-path="url(#p3e932aa4ca)" style="fill: #440154; stroke: #440154"/>
    <path d="M 727.254725 175.609252 
L 727.254725 174.848744 
L 725.997051 174.46849 
L 724.739377 174.848744 
L 724.739377 175.609252 
L 725.997051 175.989507 
z
" clip-path="url(#p3e932aa4ca)" style="fill: #440154; stroke: #440154"/>
    <path d="M 729.770073 191.579931 
L 729.770073 190.819422 
L 728.512399 190.439168 
L 727.254725 190.819422 
L 727.254725 191.579931 
L 728.512399 191.960185 
z
" clip-path="url(#p3e932aa4ca)" style="fill: #440154; stroke: #440154"/>
    <path d="M 729.770073 189.298405 
L 729.770073 188.537897 
L 728.512399 188.157643 
L 727.254725 188.537897 
L 727.254725 189.298405 
L 728.512399 189.67866 
z
" clip-path="url(#p3e932aa4ca)" style="fill: #27808e; stroke: #27808e"/>
    <path d="M 729.770073 187.01688 
L 729.770073 186.256371 
L 728.512399 185.876117 
L 727.254725 186.256371 
L 727.254725 187.01688 
L 728.512399 187.397134 
z
" clip-path="url(#p3e932aa4ca)" style="fill: #27808e; stroke: #27808e"/>
    <path d="M 729.770073 177.890778 
L 729.770073 177.130269 
L 728.512399 176.750015 
L 727.254725 177.130269 
L 727.254725 177.890778 
L 728.512399 178.271032 
z
" clip-path="url(#p3e932aa4ca)" style="fill: #3bbb75; stroke: #3bbb75"/>
    <path d="M 729.770073 171.046201 
L 729.770073 170.285693 
L 728.512399 169.905439 
L 727.254725 170.285693 
L 727.254725 171.046201 
L 728.512399 171.426456 
z
" clip-path="url(#p3e932aa4ca)" style="fill: #440154; stroke: #440154"/>
    <path d="M 729.770073 168.764676 
L 729.770073 168.004167 
L 728.512399 167.623913 
L 727.254725 168.004167 
L 727.254725 168.764676 
L 728.512399 169.14493 
z
" clip-path="url(#p3e932aa4ca)" style="fill: #440154; stroke: #440154"/>
    <path d="M 732.285421 189.298405 
L 732.285421 188.537897 
L 731.027747 188.157643 
L 729.770073 188.537897 
L 729.770073 189.298405 
L 731.027747 189.67866 
z
" clip-path="url(#p3e932aa4ca)" style="fill: #440154; stroke: #440154"/>
    <path d="M 732.285421 187.01688 
L 732.285421 186.256371 
L 731.027747 185.876117 
L 729.770073 186.256371 
L 729.770073 187.01688 
L 731.027747 187.397134 
z
" clip-path="url(#p3e932aa4ca)" style="fill: #27808e; stroke: #27808e"/>
    <path d="M 732.285421 168.764676 
L 732.285421 168.004167 
L 731.027747 167.623913 
L 729.770073 168.004167 
L 729.770073 168.764676 
L 731.027747 169.14493 
z
" clip-path="url(#p3e932aa4ca)" style="fill: #440154; stroke: #440154"/>
    <path d="M 732.285421 161.920099 
L 732.285421 161.159591 
L 731.027747 160.779336 
L 729.770073 161.159591 
L 729.770073 161.920099 
L 731.027747 162.300353 
z
" clip-path="url(#p3e932aa4ca)" style="fill: #3bbb75; stroke: #3bbb75"/>
    <path d="M 734.800769 184.735354 
L 734.800769 183.974846 
L 733.543095 183.594592 
L 732.285421 183.974846 
L 732.285421 184.735354 
L 733.543095 185.115609 
z
" clip-path="url(#p3e932aa4ca)" style="fill: #440154; stroke: #440154"/>
    <path d="M 734.800769 168.764676 
L 734.800769 168.004167 
L 733.543095 167.623913 
L 732.285421 168.004167 
L 732.285421 168.764676 
L 733.543095 169.14493 
z
" clip-path="url(#p3e932aa4ca)" style="fill: #440154; stroke: #440154"/>
    <path d="M 734.800769 164.201625 
L 734.800769 163.441116 
L 733.543095 163.060862 
L 732.285421 163.441116 
L 732.285421 164.201625 
L 733.543095 164.581879 
z
" clip-path="url(#p3e932aa4ca)" style="fill: #27808e; stroke: #27808e"/>
    <path d="M 734.800769 161.920099 
L 734.800769 161.159591 
L 733.543095 160.779336 
L 732.285421 161.159591 
L 732.285421 161.920099 
L 733.543095 162.300353 
z
" clip-path="url(#p3e932aa4ca)" style="fill: #440154; stroke: #440154"/>
    <path d="M 737.316117 177.890778 
L 737.316117 177.130269 
L 736.058443 176.750015 
L 734.800769 177.130269 
L 734.800769 177.890778 
L 736.058443 178.271032 
z
" clip-path="url(#p3e932aa4ca)" style="fill: #440154; stroke: #440154"/>
    <path d="M 737.316117 173.327727 
L 737.316117 172.567218 
L 736.058443 172.186964 
L 734.800769 172.567218 
L 734.800769 173.327727 
L 736.058443 173.707981 
z
" clip-path="url(#p3e932aa4ca)" style="fill: #440154; stroke: #440154"/>
    <path d="M 737.316117 166.48315 
L 737.316117 165.722642 
L 736.058443 165.342387 
L 734.800769 165.722642 
L 734.800769 166.48315 
L 736.058443 166.863404 
z
" clip-path="url(#p3e932aa4ca)" style="fill: #440154; stroke: #440154"/>
    <path d="M 737.316117 164.201625 
L 737.316117 163.441116 
L 736.058443 163.060862 
L 734.800769 163.441116 
L 734.800769 164.201625 
L 736.058443 164.581879 
z
" clip-path="url(#p3e932aa4ca)" style="fill: #440154; stroke: #440154"/>
    <path d="M 737.316117 161.920099 
L 737.316117 161.159591 
L 736.058443 160.779336 
L 734.800769 161.159591 
L 734.800769 161.920099 
L 736.058443 162.300353 
z
" clip-path="url(#p3e932aa4ca)" style="fill: #440154; stroke: #440154"/>
    <path d="M 739.831465 193.861457 
L 739.831465 193.100948 
L 738.573791 192.720694 
L 737.316117 193.100948 
L 737.316117 193.861457 
L 738.573791 194.241711 
z
" clip-path="url(#p3e932aa4ca)" style="fill: #440154; stroke: #440154"/>
    <path d="M 739.831465 180.172303 
L 739.831465 179.411795 
L 738.573791 179.031541 
L 737.316117 179.411795 
L 737.316117 180.172303 
L 738.573791 180.552558 
z
" clip-path="url(#p3e932aa4ca)" style="fill: #440154; stroke: #440154"/>
    <path d="M 739.831465 173.327727 
L 739.831465 172.567218 
L 738.573791 172.186964 
L 737.316117 172.567218 
L 737.316117 173.327727 
L 738.573791 173.707981 
z
" clip-path="url(#p3e932aa4ca)" style="fill: #440154; stroke: #440154"/>
    <path d="M 739.831465 164.201625 
L 739.831465 163.441116 
L 738.573791 163.060862 
L 737.316117 163.441116 
L 737.316117 164.201625 
L 738.573791 164.581879 
z
" clip-path="url(#p3e932aa4ca)" style="fill: #27808e; stroke: #27808e"/>
    <path d="M 742.346813 196.142982 
L 742.346813 195.382474 
L 741.089139 195.002219 
L 739.831465 195.382474 
L 739.831465 196.142982 
L 741.089139 196.523236 
z
" clip-path="url(#p3e932aa4ca)" style="fill: #440154; stroke: #440154"/>
    <path d="M 742.346813 164.201625 
L 742.346813 163.441116 
L 741.089139 163.060862 
L 739.831465 163.441116 
L 739.831465 164.201625 
L 741.089139 164.581879 
z
" clip-path="url(#p3e932aa4ca)" style="fill: #440154; stroke: #440154"/>
    <path d="M 742.346813 155.075523 
L 742.346813 154.315014 
L 741.089139 153.93476 
L 739.831465 154.315014 
L 739.831465 155.075523 
L 741.089139 155.455777 
z
" clip-path="url(#p3e932aa4ca)" style="fill: #440154; stroke: #440154"/>
    <path d="M 744.86216 166.48315 
L 744.86216 165.722642 
L 743.604486 165.342387 
L 742.346813 165.722642 
L 742.346813 166.48315 
L 743.604486 166.863404 
z
" clip-path="url(#p3e932aa4ca)" style="fill: #440154; stroke: #440154"/>
    <path d="M 747.377508 189.298405 
L 747.377508 188.537897 
L 746.119834 188.157643 
L 744.86216 188.537897 
L 744.86216 189.298405 
L 746.119834 189.67866 
z
" clip-path="url(#p3e932aa4ca)" style="fill: #440154; stroke: #440154"/>
    <path d="M 747.377508 177.890778 
L 747.377508 177.130269 
L 746.119834 176.750015 
L 744.86216 177.130269 
L 744.86216 177.890778 
L 746.119834 178.271032 
z
" clip-path="url(#p3e932aa4ca)" style="fill: #440154; stroke: #440154"/>
    <path d="M 749.892856 193.861457 
L 749.892856 193.100948 
L 748.635182 192.720694 
L 747.377508 193.100948 
L 747.377508 193.861457 
L 748.635182 194.241711 
z
" clip-path="url(#p3e932aa4ca)" style="fill: #440154; stroke: #440154"/>
    <path d="M 749.892856 189.298405 
L 749.892856 188.537897 
L 748.635182 188.157643 
L 747.377508 188.537897 
L 747.377508 189.298405 
L 748.635182 189.67866 
z
" clip-path="url(#p3e932aa4ca)" style="fill: #27808e; stroke: #27808e"/>
    <path d="M 749.892856 177.890778 
L 749.892856 177.130269 
L 748.635182 176.750015 
L 747.377508 177.130269 
L 747.377508 177.890778 
L 748.635182 178.271032 
z
" clip-path="url(#p3e932aa4ca)" style="fill: #440154; stroke: #440154"/>
    <path d="M 749.892856 171.046201 
L 749.892856 170.285693 
L 748.635182 169.905439 
L 747.377508 170.285693 
L 747.377508 171.046201 
L 748.635182 171.426456 
z
" clip-path="url(#p3e932aa4ca)" style="fill: #440154; stroke: #440154"/>
    <path d="M 749.892856 164.201625 
L 749.892856 163.441116 
L 748.635182 163.060862 
L 747.377508 163.441116 
L 747.377508 164.201625 
L 748.635182 164.581879 
z
" clip-path="url(#p3e932aa4ca)" style="fill: #440154; stroke: #440154"/>
    <path d="M 752.408204 196.142982 
L 752.408204 195.382474 
L 751.15053 195.002219 
L 749.892856 195.382474 
L 749.892856 196.142982 
L 751.15053 196.523236 
z
" clip-path="url(#p3e932aa4ca)" style="fill: #440154; stroke: #440154"/>
    <path d="M 752.408204 191.579931 
L 752.408204 190.819422 
L 751.15053 190.439168 
L 749.892856 190.819422 
L 749.892856 191.579931 
L 751.15053 191.960185 
z
" clip-path="url(#p3e932aa4ca)" style="fill: #27808e; stroke: #27808e"/>
    <path d="M 752.408204 189.298405 
L 752.408204 188.537897 
L 751.15053 188.157643 
L 749.892856 188.537897 
L 749.892856 189.298405 
L 751.15053 189.67866 
z
" clip-path="url(#p3e932aa4ca)" style="fill: #440154; stroke: #440154"/>
    <path d="M 752.408204 180.172303 
L 752.408204 179.411795 
L 751.15053 179.031541 
L 749.892856 179.411795 
L 749.892856 180.172303 
L 751.15053 180.552558 
z
" clip-path="url(#p3e932aa4ca)" style="fill: #27808e; stroke: #27808e"/>
    <path d="M 752.408204 177.890778 
L 752.408204 177.130269 
L 751.15053 176.750015 
L 749.892856 177.130269 
L 749.892856 177.890778 
L 751.15053 178.271032 
z
" clip-path="url(#p3e932aa4ca)" style="fill: #440154; stroke: #440154"/>
    <path d="M 752.408204 173.327727 
L 752.408204 172.567218 
L 751.15053 172.186964 
L 749.892856 172.567218 
L 749.892856 173.327727 
L 751.15053 173.707981 
z
" clip-path="url(#p3e932aa4ca)" style="fill: #440154; stroke: #440154"/>
    <path d="M 754.923552 196.142982 
L 754.923552 195.382474 
L 753.665878 195.002219 
L 752.408204 195.382474 
L 752.408204 196.142982 
L 753.665878 196.523236 
z
" clip-path="url(#p3e932aa4ca)" style="fill: #440154; stroke: #440154"/>
    <path d="M 754.923552 187.01688 
L 754.923552 186.256371 
L 753.665878 185.876117 
L 752.408204 186.256371 
L 752.408204 187.01688 
L 753.665878 187.397134 
z
" clip-path="url(#p3e932aa4ca)" style="fill: #27808e; stroke: #27808e"/>
    <path d="M 754.923552 184.735354 
L 754.923552 183.974846 
L 753.665878 183.594592 
L 752.408204 183.974846 
L 752.408204 184.735354 
L 753.665878 185.115609 
z
" clip-path="url(#p3e932aa4ca)" style="fill: #440154; stroke: #440154"/>
    <path d="M 754.923552 180.172303 
L 754.923552 179.411795 
L 753.665878 179.031541 
L 752.408204 179.411795 
L 752.408204 180.172303 
L 753.665878 180.552558 
z
" clip-path="url(#p3e932aa4ca)" style="fill: #3bbb75; stroke: #3bbb75"/>
    <path d="M 754.923552 177.890778 
L 754.923552 177.130269 
L 753.665878 176.750015 
L 752.408204 177.130269 
L 752.408204 177.890778 
L 753.665878 178.271032 
z
" clip-path="url(#p3e932aa4ca)" style="fill: #27808e; stroke: #27808e"/>
    <path d="M 754.923552 173.327727 
L 754.923552 172.567218 
L 753.665878 172.186964 
L 752.408204 172.567218 
L 752.408204 173.327727 
L 753.665878 173.707981 
z
" clip-path="url(#p3e932aa4ca)" style="fill: #27808e; stroke: #27808e"/>
    <path d="M 754.923552 168.764676 
L 754.923552 168.004167 
L 753.665878 167.623913 
L 752.408204 168.004167 
L 752.408204 168.764676 
L 753.665878 169.14493 
z
" clip-path="url(#p3e932aa4ca)" style="fill: #440154; stroke: #440154"/>
    <path d="M 754.923552 159.638574 
L 754.923552 158.878065 
L 753.665878 158.497811 
L 752.408204 158.878065 
L 752.408204 159.638574 
L 753.665878 160.018828 
z
" clip-path="url(#p3e932aa4ca)" style="fill: #440154; stroke: #440154"/>
    <path d="M 757.4389 187.01688 
L 757.4389 186.256371 
L 756.181226 185.876117 
L 754.923552 186.256371 
L 754.923552 187.01688 
L 756.181226 187.397134 
z
" clip-path="url(#p3e932aa4ca)" style="fill: #440154; stroke: #440154"/>
    <path d="M 757.4389 184.735354 
L 757.4389 183.974846 
L 756.181226 183.594592 
L 754.923552 183.974846 
L 754.923552 184.735354 
L 756.181226 185.115609 
z
" clip-path="url(#p3e932aa4ca)" style="fill: #440154; stroke: #440154"/>
    <path d="M 757.4389 180.172303 
L 757.4389 179.411795 
L 756.181226 179.031541 
L 754.923552 179.411795 
L 754.923552 180.172303 
L 756.181226 180.552558 
z
" clip-path="url(#p3e932aa4ca)" style="fill: #27808e; stroke: #27808e"/>
    <path d="M 757.4389 177.890778 
L 757.4389 177.130269 
L 756.181226 176.750015 
L 754.923552 177.130269 
L 754.923552 177.890778 
L 756.181226 178.271032 
z
" clip-path="url(#p3e932aa4ca)" style="fill: #440154; stroke: #440154"/>
    <path d="M 757.4389 173.327727 
L 757.4389 172.567218 
L 756.181226 172.186964 
L 754.923552 172.567218 
L 754.923552 173.327727 
L 756.181226 173.707981 
z
" clip-path="url(#p3e932aa4ca)" style="fill: #27808e; stroke: #27808e"/>
    <path d="M 757.4389 166.48315 
L 757.4389 165.722642 
L 756.181226 165.342387 
L 754.923552 165.722642 
L 754.923552 166.48315 
L 756.181226 166.863404 
z
" clip-path="url(#p3e932aa4ca)" style="fill: #27808e; stroke: #27808e"/>
    <path d="M 757.4389 164.201625 
L 757.4389 163.441116 
L 756.181226 163.060862 
L 754.923552 163.441116 
L 754.923552 164.201625 
L 756.181226 164.581879 
z
" clip-path="url(#p3e932aa4ca)" style="fill: #440154; stroke: #440154"/>
    <path d="M 759.954248 196.142982 
L 759.954248 195.382474 
L 758.696574 195.002219 
L 757.4389 195.382474 
L 757.4389 196.142982 
L 758.696574 196.523236 
z
" clip-path="url(#p3e932aa4ca)" style="fill: #3bbb75; stroke: #3bbb75"/>
    <path d="M 759.954248 193.861457 
L 759.954248 193.100948 
L 758.696574 192.720694 
L 757.4389 193.100948 
L 757.4389 193.861457 
L 758.696574 194.241711 
z
" clip-path="url(#p3e932aa4ca)" style="fill: #440154; stroke: #440154"/>
    <path d="M 759.954248 171.046201 
L 759.954248 170.285693 
L 758.696574 169.905439 
L 757.4389 170.285693 
L 757.4389 171.046201 
L 758.696574 171.426456 
z
" clip-path="url(#p3e932aa4ca)" style="fill: #440154; stroke: #440154"/>
    <path d="M 759.954248 168.764676 
L 759.954248 168.004167 
L 758.696574 167.623913 
L 757.4389 168.004167 
L 757.4389 168.764676 
L 758.696574 169.14493 
z
" clip-path="url(#p3e932aa4ca)" style="fill: #a2da37; stroke: #a2da37"/>
    <path d="M 759.954248 166.48315 
L 759.954248 165.722642 
L 758.696574 165.342387 
L 757.4389 165.722642 
L 757.4389 166.48315 
L 758.696574 166.863404 
z
" clip-path="url(#p3e932aa4ca)" style="fill: #440154; stroke: #440154"/>
    <path d="M 759.954248 161.920099 
L 759.954248 161.159591 
L 758.696574 160.779336 
L 757.4389 161.159591 
L 757.4389 161.920099 
L 758.696574 162.300353 
z
" clip-path="url(#p3e932aa4ca)" style="fill: #27808e; stroke: #27808e"/>
    <path d="M 759.954248 155.075523 
L 759.954248 154.315014 
L 758.696574 153.93476 
L 757.4389 154.315014 
L 757.4389 155.075523 
L 758.696574 155.455777 
z
" clip-path="url(#p3e932aa4ca)" style="fill: #440154; stroke: #440154"/>
    <path d="M 762.469596 193.861457 
L 762.469596 193.100948 
L 761.211922 192.720694 
L 759.954248 193.100948 
L 759.954248 193.861457 
L 761.211922 194.241711 
z
" clip-path="url(#p3e932aa4ca)" style="fill: #27808e; stroke: #27808e"/>
    <path d="M 762.469596 189.298405 
L 762.469596 188.537897 
L 761.211922 188.157643 
L 759.954248 188.537897 
L 759.954248 189.298405 
L 761.211922 189.67866 
z
" clip-path="url(#p3e932aa4ca)" style="fill: #440154; stroke: #440154"/>
    <path d="M 762.469596 182.453829 
L 762.469596 181.69332 
L 761.211922 181.313066 
L 759.954248 181.69332 
L 759.954248 182.453829 
L 761.211922 182.834083 
z
" clip-path="url(#p3e932aa4ca)" style="fill: #27808e; stroke: #27808e"/>
    <path d="M 762.469596 173.327727 
L 762.469596 172.567218 
L 761.211922 172.186964 
L 759.954248 172.567218 
L 759.954248 173.327727 
L 761.211922 173.707981 
z
" clip-path="url(#p3e932aa4ca)" style="fill: #440154; stroke: #440154"/>
    <path d="M 762.469596 166.48315 
L 762.469596 165.722642 
L 761.211922 165.342387 
L 759.954248 165.722642 
L 759.954248 166.48315 
L 761.211922 166.863404 
z
" clip-path="url(#p3e932aa4ca)" style="fill: #27808e; stroke: #27808e"/>
    <path d="M 762.469596 164.201625 
L 762.469596 163.441116 
L 761.211922 163.060862 
L 759.954248 163.441116 
L 759.954248 164.201625 
L 761.211922 164.581879 
z
" clip-path="url(#p3e932aa4ca)" style="fill: #440154; stroke: #440154"/>
    <path d="M 762.469596 155.075523 
L 762.469596 154.315014 
L 761.211922 153.93476 
L 759.954248 154.315014 
L 759.954248 155.075523 
L 761.211922 155.455777 
z
" clip-path="url(#p3e932aa4ca)" style="fill: #440154; stroke: #440154"/>
    <path d="M 764.984944 177.890778 
L 764.984944 177.130269 
L 763.72727 176.750015 
L 762.469596 177.130269 
L 762.469596 177.890778 
L 763.72727 178.271032 
z
" clip-path="url(#p3e932aa4ca)" style="fill: #27808e; stroke: #27808e"/>
    <path d="M 764.984944 173.327727 
L 764.984944 172.567218 
L 763.72727 172.186964 
L 762.469596 172.567218 
L 762.469596 173.327727 
L 763.72727 173.707981 
z
" clip-path="url(#p3e932aa4ca)" style="fill: #27808e; stroke: #27808e"/>
    <path d="M 764.984944 171.046201 
L 764.984944 170.285693 
L 763.72727 169.905439 
L 762.469596 170.285693 
L 762.469596 171.046201 
L 763.72727 171.426456 
z
" clip-path="url(#p3e932aa4ca)" style="fill: #27808e; stroke: #27808e"/>
    <path d="M 764.984944 168.764676 
L 764.984944 168.004167 
L 763.72727 167.623913 
L 762.469596 168.004167 
L 762.469596 168.764676 
L 763.72727 169.14493 
z
" clip-path="url(#p3e932aa4ca)" style="fill: #440154; stroke: #440154"/>
    <path d="M 764.984944 166.48315 
L 764.984944 165.722642 
L 763.72727 165.342387 
L 762.469596 165.722642 
L 762.469596 166.48315 
L 763.72727 166.863404 
z
" clip-path="url(#p3e932aa4ca)" style="fill: #440154; stroke: #440154"/>
    <path d="M 764.984944 161.920099 
L 764.984944 161.159591 
L 763.72727 160.779336 
L 762.469596 161.159591 
L 762.469596 161.920099 
L 763.72727 162.300353 
z
" clip-path="url(#p3e932aa4ca)" style="fill: #440154; stroke: #440154"/>
    <path d="M 764.984944 157.357048 
L 764.984944 156.59654 
L 763.72727 156.216285 
L 762.469596 156.59654 
L 762.469596 157.357048 
L 763.72727 157.737302 
z
" clip-path="url(#p3e932aa4ca)" style="fill: #440154; stroke: #440154"/>
    <path d="M 767.500292 182.453829 
L 767.500292 181.69332 
L 766.242618 181.313066 
L 764.984944 181.69332 
L 764.984944 182.453829 
L 766.242618 182.834083 
z
" clip-path="url(#p3e932aa4ca)" style="fill: #440154; stroke: #440154"/>
    <path d="M 767.500292 175.609252 
L 767.500292 174.848744 
L 766.242618 174.46849 
L 764.984944 174.848744 
L 764.984944 175.609252 
L 766.242618 175.989507 
z
" clip-path="url(#p3e932aa4ca)" style="fill: #440154; stroke: #440154"/>
    <path d="M 767.500292 171.046201 
L 767.500292 170.285693 
L 766.242618 169.905439 
L 764.984944 170.285693 
L 764.984944 171.046201 
L 766.242618 171.426456 
z
" clip-path="url(#p3e932aa4ca)" style="fill: #440154; stroke: #440154"/>
    <path d="M 767.500292 161.920099 
L 767.500292 161.159591 
L 766.242618 160.779336 
L 764.984944 161.159591 
L 764.984944 161.920099 
L 766.242618 162.300353 
z
" clip-path="url(#p3e932aa4ca)" style="fill: #27808e; stroke: #27808e"/>
    <path d="M 767.500292 159.638574 
L 767.500292 158.878065 
L 766.242618 158.497811 
L 764.984944 158.878065 
L 764.984944 159.638574 
L 766.242618 160.018828 
z
" clip-path="url(#p3e932aa4ca)" style="fill: #27808e; stroke: #27808e"/>
    <path d="M 767.500292 157.357048 
L 767.500292 156.59654 
L 766.242618 156.216285 
L 764.984944 156.59654 
L 764.984944 157.357048 
L 766.242618 157.737302 
z
" clip-path="url(#p3e932aa4ca)" style="fill: #27808e; stroke: #27808e"/>
    <path d="M 767.500292 155.075523 
L 767.500292 154.315014 
L 766.242618 153.93476 
L 764.984944 154.315014 
L 764.984944 155.075523 
L 766.242618 155.455777 
z
" clip-path="url(#p3e932aa4ca)" style="fill: #440154; stroke: #440154"/>
    <path d="M 770.01564 189.298405 
L 770.01564 188.537897 
L 768.757966 188.157643 
L 767.500292 188.537897 
L 767.500292 189.298405 
L 768.757966 189.67866 
z
" clip-path="url(#p3e932aa4ca)" style="fill: #440154; stroke: #440154"/>
    <path d="M 770.01564 187.01688 
L 770.01564 186.256371 
L 768.757966 185.876117 
L 767.500292 186.256371 
L 767.500292 187.01688 
L 768.757966 187.397134 
z
" clip-path="url(#p3e932aa4ca)" style="fill: #440154; stroke: #440154"/>
    <path d="M 770.01564 177.890778 
L 770.01564 177.130269 
L 768.757966 176.750015 
L 767.500292 177.130269 
L 767.500292 177.890778 
L 768.757966 178.271032 
z
" clip-path="url(#p3e932aa4ca)" style="fill: #27808e; stroke: #27808e"/>
    <path d="M 770.01564 175.609252 
L 770.01564 174.848744 
L 768.757966 174.46849 
L 767.500292 174.848744 
L 767.500292 175.609252 
L 768.757966 175.989507 
z
" clip-path="url(#p3e932aa4ca)" style="fill: #440154; stroke: #440154"/>
    <path d="M 770.01564 173.327727 
L 770.01564 172.567218 
L 768.757966 172.186964 
L 767.500292 172.567218 
L 767.500292 173.327727 
L 768.757966 173.707981 
z
" clip-path="url(#p3e932aa4ca)" style="fill: #440154; stroke: #440154"/>
    <path d="M 770.01564 171.046201 
L 770.01564 170.285693 
L 768.757966 169.905439 
L 767.500292 170.285693 
L 767.500292 171.046201 
L 768.757966 171.426456 
z
" clip-path="url(#p3e932aa4ca)" style="fill: #440154; stroke: #440154"/>
    <path d="M 770.01564 168.764676 
L 770.01564 168.004167 
L 768.757966 167.623913 
L 767.500292 168.004167 
L 767.500292 168.764676 
L 768.757966 169.14493 
z
" clip-path="url(#p3e932aa4ca)" style="fill: #a2da37; stroke: #a2da37"/>
    <path d="M 770.01564 164.201625 
L 770.01564 163.441116 
L 768.757966 163.060862 
L 767.500292 163.441116 
L 767.500292 164.201625 
L 768.757966 164.581879 
z
" clip-path="url(#p3e932aa4ca)" style="fill: #440154; stroke: #440154"/>
    <path d="M 770.01564 161.920099 
L 770.01564 161.159591 
L 768.757966 160.779336 
L 767.500292 161.159591 
L 767.500292 161.920099 
L 768.757966 162.300353 
z
" clip-path="url(#p3e932aa4ca)" style="fill: #27808e; stroke: #27808e"/>
    <path d="M 770.01564 159.638574 
L 770.01564 158.878065 
L 768.757966 158.497811 
L 767.500292 158.878065 
L 767.500292 159.638574 
L 768.757966 160.018828 
z
" clip-path="url(#p3e932aa4ca)" style="fill: #27808e; stroke: #27808e"/>
    <path d="M 770.01564 152.793997 
L 770.01564 152.033489 
L 768.757966 151.653234 
L 767.500292 152.033489 
L 767.500292 152.793997 
L 768.757966 153.174251 
z
" clip-path="url(#p3e932aa4ca)" style="fill: #440154; stroke: #440154"/>
    <path d="M 772.530988 180.172303 
L 772.530988 179.411795 
L 771.273314 179.031541 
L 770.01564 179.411795 
L 770.01564 180.172303 
L 771.273314 180.552558 
z
" clip-path="url(#p3e932aa4ca)" style="fill: #440154; stroke: #440154"/>
    <path d="M 772.530988 175.609252 
L 772.530988 174.848744 
L 771.273314 174.46849 
L 770.01564 174.848744 
L 770.01564 175.609252 
L 771.273314 175.989507 
z
" clip-path="url(#p3e932aa4ca)" style="fill: #27808e; stroke: #27808e"/>
    <path d="M 772.530988 164.201625 
L 772.530988 163.441116 
L 771.273314 163.060862 
L 770.01564 163.441116 
L 770.01564 164.201625 
L 771.273314 164.581879 
z
" clip-path="url(#p3e932aa4ca)" style="fill: #440154; stroke: #440154"/>
    <path d="M 772.530988 159.638574 
L 772.530988 158.878065 
L 771.273314 158.497811 
L 770.01564 158.878065 
L 770.01564 159.638574 
L 771.273314 160.018828 
z
" clip-path="url(#p3e932aa4ca)" style="fill: #440154; stroke: #440154"/>
    <path d="M 772.530988 157.357048 
L 772.530988 156.59654 
L 771.273314 156.216285 
L 770.01564 156.59654 
L 770.01564 157.357048 
L 771.273314 157.737302 
z
" clip-path="url(#p3e932aa4ca)" style="fill: #440154; stroke: #440154"/>
    <path d="M 772.530988 152.793997 
L 772.530988 152.033489 
L 771.273314 151.653234 
L 770.01564 152.033489 
L 770.01564 152.793997 
L 771.273314 153.174251 
z
" clip-path="url(#p3e932aa4ca)" style="fill: #440154; stroke: #440154"/>
    <path d="M 772.530988 145.949421 
L 772.530988 145.188912 
L 771.273314 144.808658 
L 770.01564 145.188912 
L 770.01564 145.949421 
L 771.273314 146.329675 
z
" clip-path="url(#p3e932aa4ca)" style="fill: #440154; stroke: #440154"/>
    <path d="M 775.046335 182.453829 
L 775.046335 181.69332 
L 773.788662 181.313066 
L 772.530988 181.69332 
L 772.530988 182.453829 
L 773.788662 182.834083 
z
" clip-path="url(#p3e932aa4ca)" style="fill: #27808e; stroke: #27808e"/>
    <path d="M 775.046335 180.172303 
L 775.046335 179.411795 
L 773.788662 179.031541 
L 772.530988 179.411795 
L 772.530988 180.172303 
L 773.788662 180.552558 
z
" clip-path="url(#p3e932aa4ca)" style="fill: #440154; stroke: #440154"/>
    <path d="M 775.046335 175.609252 
L 775.046335 174.848744 
L 773.788662 174.46849 
L 772.530988 174.848744 
L 772.530988 175.609252 
L 773.788662 175.989507 
z
" clip-path="url(#p3e932aa4ca)" style="fill: #27808e; stroke: #27808e"/>
    <path d="M 775.046335 171.046201 
L 775.046335 170.285693 
L 773.788662 169.905439 
L 772.530988 170.285693 
L 772.530988 171.046201 
L 773.788662 171.426456 
z
" clip-path="url(#p3e932aa4ca)" style="fill: #440154; stroke: #440154"/>
    <path d="M 775.046335 164.201625 
L 775.046335 163.441116 
L 773.788662 163.060862 
L 772.530988 163.441116 
L 772.530988 164.201625 
L 773.788662 164.581879 
z
" clip-path="url(#p3e932aa4ca)" style="fill: #440154; stroke: #440154"/>
    <path d="M 775.046335 159.638574 
L 775.046335 158.878065 
L 773.788662 158.497811 
L 772.530988 158.878065 
L 772.530988 159.638574 
L 773.788662 160.018828 
z
" clip-path="url(#p3e932aa4ca)" style="fill: #27808e; stroke: #27808e"/>
    <path d="M 775.046335 157.357048 
L 775.046335 156.59654 
L 773.788662 156.216285 
L 772.530988 156.59654 
L 772.530988 157.357048 
L 773.788662 157.737302 
z
" clip-path="url(#p3e932aa4ca)" style="fill: #3bbb75; stroke: #3bbb75"/>
    <path d="M 775.046335 155.075523 
L 775.046335 154.315014 
L 773.788662 153.93476 
L 772.530988 154.315014 
L 772.530988 155.075523 
L 773.788662 155.455777 
z
" clip-path="url(#p3e932aa4ca)" style="fill: #440154; stroke: #440154"/>
    <path d="M 777.561683 175.609252 
L 777.561683 174.848744 
L 776.304009 174.46849 
L 775.046335 174.848744 
L 775.046335 175.609252 
L 776.304009 175.989507 
z
" clip-path="url(#p3e932aa4ca)" style="fill: #27808e; stroke: #27808e"/>
    <path d="M 777.561683 171.046201 
L 777.561683 170.285693 
L 776.304009 169.905439 
L 775.046335 170.285693 
L 775.046335 171.046201 
L 776.304009 171.426456 
z
" clip-path="url(#p3e932aa4ca)" style="fill: #440154; stroke: #440154"/>
    <path d="M 777.561683 164.201625 
L 777.561683 163.441116 
L 776.304009 163.060862 
L 775.046335 163.441116 
L 775.046335 164.201625 
L 776.304009 164.581879 
z
" clip-path="url(#p3e932aa4ca)" style="fill: #27808e; stroke: #27808e"/>
    <path d="M 777.561683 161.920099 
L 777.561683 161.159591 
L 776.304009 160.779336 
L 775.046335 161.159591 
L 775.046335 161.920099 
L 776.304009 162.300353 
z
" clip-path="url(#p3e932aa4ca)" style="fill: #a2da37; stroke: #a2da37"/>
    <path d="M 777.561683 157.357048 
L 777.561683 156.59654 
L 776.304009 156.216285 
L 775.046335 156.59654 
L 775.046335 157.357048 
L 776.304009 157.737302 
z
" clip-path="url(#p3e932aa4ca)" style="fill: #27808e; stroke: #27808e"/>
    <path d="M 777.561683 145.949421 
L 777.561683 145.188912 
L 776.304009 144.808658 
L 775.046335 145.188912 
L 775.046335 145.949421 
L 776.304009 146.329675 
z
" clip-path="url(#p3e932aa4ca)" style="fill: #440154; stroke: #440154"/>
    <path d="M 780.077031 180.172303 
L 780.077031 179.411795 
L 778.819357 179.031541 
L 777.561683 179.411795 
L 777.561683 180.172303 
L 778.819357 180.552558 
z
" clip-path="url(#p3e932aa4ca)" style="fill: #27808e; stroke: #27808e"/>
    <path d="M 780.077031 161.920099 
L 780.077031 161.159591 
L 778.819357 160.779336 
L 777.561683 161.159591 
L 777.561683 161.920099 
L 778.819357 162.300353 
z
" clip-path="url(#p3e932aa4ca)" style="fill: #3bbb75; stroke: #3bbb75"/>
    <path d="M 780.077031 155.075523 
L 780.077031 154.315014 
L 778.819357 153.93476 
L 777.561683 154.315014 
L 777.561683 155.075523 
L 778.819357 155.455777 
z
" clip-path="url(#p3e932aa4ca)" style="fill: #27808e; stroke: #27808e"/>
    <path d="M 780.077031 152.793997 
L 780.077031 152.033489 
L 778.819357 151.653234 
L 777.561683 152.033489 
L 777.561683 152.793997 
L 778.819357 153.174251 
z
" clip-path="url(#p3e932aa4ca)" style="fill: #27808e; stroke: #27808e"/>
    <path d="M 782.592379 164.201625 
L 782.592379 163.441116 
L 781.334705 163.060862 
L 780.077031 163.441116 
L 780.077031 164.201625 
L 781.334705 164.581879 
z
" clip-path="url(#p3e932aa4ca)" style="fill: #440154; stroke: #440154"/>
    <path d="M 785.107727 182.453829 
L 785.107727 181.69332 
L 783.850053 181.313066 
L 782.592379 181.69332 
L 782.592379 182.453829 
L 783.850053 182.834083 
z
" clip-path="url(#p3e932aa4ca)" style="fill: #440154; stroke: #440154"/>
    <path d="M 785.107727 180.172303 
L 785.107727 179.411795 
L 783.850053 179.031541 
L 782.592379 179.411795 
L 782.592379 180.172303 
L 783.850053 180.552558 
z
" clip-path="url(#p3e932aa4ca)" style="fill: #440154; stroke: #440154"/>
    <path d="M 785.107727 177.890778 
L 785.107727 177.130269 
L 783.850053 176.750015 
L 782.592379 177.130269 
L 782.592379 177.890778 
L 783.850053 178.271032 
z
" clip-path="url(#p3e932aa4ca)" style="fill: #27808e; stroke: #27808e"/>
    <path d="M 785.107727 168.764676 
L 785.107727 168.004167 
L 783.850053 167.623913 
L 782.592379 168.004167 
L 782.592379 168.764676 
L 783.850053 169.14493 
z
" clip-path="url(#p3e932aa4ca)" style="fill: #440154; stroke: #440154"/>
    <path d="M 785.107727 164.201625 
L 785.107727 163.441116 
L 783.850053 163.060862 
L 782.592379 163.441116 
L 782.592379 164.201625 
L 783.850053 164.581879 
z
" clip-path="url(#p3e932aa4ca)" style="fill: #27808e; stroke: #27808e"/>
    <path d="M 785.107727 159.638574 
L 785.107727 158.878065 
L 783.850053 158.497811 
L 782.592379 158.878065 
L 782.592379 159.638574 
L 783.850053 160.018828 
z
" clip-path="url(#p3e932aa4ca)" style="fill: #27808e; stroke: #27808e"/>
    <path d="M 785.107727 157.357048 
L 785.107727 156.59654 
L 783.850053 156.216285 
L 782.592379 156.59654 
L 782.592379 157.357048 
L 783.850053 157.737302 
z
" clip-path="url(#p3e932aa4ca)" style="fill: #27808e; stroke: #27808e"/>
    <path d="M 785.107727 152.793997 
L 785.107727 152.033489 
L 783.850053 151.653234 
L 782.592379 152.033489 
L 782.592379 152.793997 
L 783.850053 153.174251 
z
" clip-path="url(#p3e932aa4ca)" style="fill: #a2da37; stroke: #a2da37"/>
    <path d="M 785.107727 150.512472 
L 785.107727 149.751963 
L 783.850053 149.371709 
L 782.592379 149.751963 
L 782.592379 150.512472 
L 783.850053 150.892726 
z
" clip-path="url(#p3e932aa4ca)" style="fill: #440154; stroke: #440154"/>
    <path d="M 785.107727 148.230946 
L 785.107727 147.470438 
L 783.850053 147.090183 
L 782.592379 147.470438 
L 782.592379 148.230946 
L 783.850053 148.6112 
z
" clip-path="url(#p3e932aa4ca)" style="fill: #440154; stroke: #440154"/>
    <path d="M 785.107727 139.104844 
L 785.107727 138.344335 
L 783.850053 137.964081 
L 782.592379 138.344335 
L 782.592379 139.104844 
L 783.850053 139.485098 
z
" clip-path="url(#p3e932aa4ca)" style="fill: #440154; stroke: #440154"/>
    <path d="M 785.107727 136.823318 
L 785.107727 136.06281 
L 783.850053 135.682556 
L 782.592379 136.06281 
L 782.592379 136.823318 
L 783.850053 137.203573 
z
" clip-path="url(#p3e932aa4ca)" style="fill: #440154; stroke: #440154"/>
    <path d="M 787.623075 177.890778 
L 787.623075 177.130269 
L 786.365401 176.750015 
L 785.107727 177.130269 
L 785.107727 177.890778 
L 786.365401 178.271032 
z
" clip-path="url(#p3e932aa4ca)" style="fill: #440154; stroke: #440154"/>
    <path d="M 787.623075 175.609252 
L 787.623075 174.848744 
L 786.365401 174.46849 
L 785.107727 174.848744 
L 785.107727 175.609252 
L 786.365401 175.989507 
z
" clip-path="url(#p3e932aa4ca)" style="fill: #440154; stroke: #440154"/>
    <path d="M 787.623075 157.357048 
L 787.623075 156.59654 
L 786.365401 156.216285 
L 785.107727 156.59654 
L 785.107727 157.357048 
L 786.365401 157.737302 
z
" clip-path="url(#p3e932aa4ca)" style="fill: #440154; stroke: #440154"/>
    <path d="M 787.623075 155.075523 
L 787.623075 154.315014 
L 786.365401 153.93476 
L 785.107727 154.315014 
L 785.107727 155.075523 
L 786.365401 155.455777 
z
" clip-path="url(#p3e932aa4ca)" style="fill: #27808e; stroke: #27808e"/>
    <path d="M 787.623075 150.512472 
L 787.623075 149.751963 
L 786.365401 149.371709 
L 785.107727 149.751963 
L 785.107727 150.512472 
L 786.365401 150.892726 
z
" clip-path="url(#p3e932aa4ca)" style="fill: #440154; stroke: #440154"/>
    <path d="M 787.623075 148.230946 
L 787.623075 147.470438 
L 786.365401 147.090183 
L 785.107727 147.470438 
L 785.107727 148.230946 
L 786.365401 148.6112 
z
" clip-path="url(#p3e932aa4ca)" style="fill: #3bbb75; stroke: #3bbb75"/>
    <path d="M 787.623075 145.949421 
L 787.623075 145.188912 
L 786.365401 144.808658 
L 785.107727 145.188912 
L 785.107727 145.949421 
L 786.365401 146.329675 
z
" clip-path="url(#p3e932aa4ca)" style="fill: #a2da37; stroke: #a2da37"/>
    <path d="M 787.623075 136.823318 
L 787.623075 136.06281 
L 786.365401 135.682556 
L 785.107727 136.06281 
L 785.107727 136.823318 
L 786.365401 137.203573 
z
" clip-path="url(#p3e932aa4ca)" style="fill: #440154; stroke: #440154"/>
    <path d="M 787.623075 134.541793 
L 787.623075 133.781284 
L 786.365401 133.40103 
L 785.107727 133.781284 
L 785.107727 134.541793 
L 786.365401 134.922047 
z
" clip-path="url(#p3e932aa4ca)" style="fill: #440154; stroke: #440154"/>
    <path d="M 790.138423 184.735354 
L 790.138423 183.974846 
L 788.880749 183.594592 
L 787.623075 183.974846 
L 787.623075 184.735354 
L 788.880749 185.115609 
z
" clip-path="url(#p3e932aa4ca)" style="fill: #27808e; stroke: #27808e"/>
    <path d="M 790.138423 180.172303 
L 790.138423 179.411795 
L 788.880749 179.031541 
L 787.623075 179.411795 
L 787.623075 180.172303 
L 788.880749 180.552558 
z
" clip-path="url(#p3e932aa4ca)" style="fill: #440154; stroke: #440154"/>
    <path d="M 790.138423 173.327727 
L 790.138423 172.567218 
L 788.880749 172.186964 
L 787.623075 172.567218 
L 787.623075 173.327727 
L 788.880749 173.707981 
z
" clip-path="url(#p3e932aa4ca)" style="fill: #27808e; stroke: #27808e"/>
    <path d="M 790.138423 171.046201 
L 790.138423 170.285693 
L 788.880749 169.905439 
L 787.623075 170.285693 
L 787.623075 171.046201 
L 788.880749 171.426456 
z
" clip-path="url(#p3e932aa4ca)" style="fill: #27808e; stroke: #27808e"/>
    <path d="M 790.138423 166.48315 
L 790.138423 165.722642 
L 788.880749 165.342387 
L 787.623075 165.722642 
L 787.623075 166.48315 
L 788.880749 166.863404 
z
" clip-path="url(#p3e932aa4ca)" style="fill: #440154; stroke: #440154"/>
    <path d="M 790.138423 159.638574 
L 790.138423 158.878065 
L 788.880749 158.497811 
L 787.623075 158.878065 
L 787.623075 159.638574 
L 788.880749 160.018828 
z
" clip-path="url(#p3e932aa4ca)" style="fill: #3bbb75; stroke: #3bbb75"/>
    <path d="M 790.138423 157.357048 
L 790.138423 156.59654 
L 788.880749 156.216285 
L 787.623075 156.59654 
L 787.623075 157.357048 
L 788.880749 157.737302 
z
" clip-path="url(#p3e932aa4ca)" style="fill: #a2da37; stroke: #a2da37"/>
    <path d="M 790.138423 152.793997 
L 790.138423 152.033489 
L 788.880749 151.653234 
L 787.623075 152.033489 
L 787.623075 152.793997 
L 788.880749 153.174251 
z
" clip-path="url(#p3e932aa4ca)" style="fill: #440154; stroke: #440154"/>
    <path d="M 790.138423 150.512472 
L 790.138423 149.751963 
L 788.880749 149.371709 
L 787.623075 149.751963 
L 787.623075 150.512472 
L 788.880749 150.892726 
z
" clip-path="url(#p3e932aa4ca)" style="fill: #27808e; stroke: #27808e"/>
    <path d="M 790.138423 143.667895 
L 790.138423 142.907386 
L 788.880749 142.527132 
L 787.623075 142.907386 
L 787.623075 143.667895 
L 788.880749 144.048149 
z
" clip-path="url(#p3e932aa4ca)" style="fill: #440154; stroke: #440154"/>
    <path d="M 790.138423 134.541793 
L 790.138423 133.781284 
L 788.880749 133.40103 
L 787.623075 133.781284 
L 787.623075 134.541793 
L 788.880749 134.922047 
z
" clip-path="url(#p3e932aa4ca)" style="fill: #440154; stroke: #440154"/>
    <path d="M 792.653771 182.453829 
L 792.653771 181.69332 
L 791.396097 181.313066 
L 790.138423 181.69332 
L 790.138423 182.453829 
L 791.396097 182.834083 
z
" clip-path="url(#p3e932aa4ca)" style="fill: #440154; stroke: #440154"/>
    <path d="M 792.653771 180.172303 
L 792.653771 179.411795 
L 791.396097 179.031541 
L 790.138423 179.411795 
L 790.138423 180.172303 
L 791.396097 180.552558 
z
" clip-path="url(#p3e932aa4ca)" style="fill: #440154; stroke: #440154"/>
    <path d="M 792.653771 171.046201 
L 792.653771 170.285693 
L 791.396097 169.905439 
L 790.138423 170.285693 
L 790.138423 171.046201 
L 791.396097 171.426456 
z
" clip-path="url(#p3e932aa4ca)" style="fill: #440154; stroke: #440154"/>
    <path d="M 792.653771 168.764676 
L 792.653771 168.004167 
L 791.396097 167.623913 
L 790.138423 168.004167 
L 790.138423 168.764676 
L 791.396097 169.14493 
z
" clip-path="url(#p3e932aa4ca)" style="fill: #3bbb75; stroke: #3bbb75"/>
    <path d="M 792.653771 166.48315 
L 792.653771 165.722642 
L 791.396097 165.342387 
L 790.138423 165.722642 
L 790.138423 166.48315 
L 791.396097 166.863404 
z
" clip-path="url(#p3e932aa4ca)" style="fill: #440154; stroke: #440154"/>
    <path d="M 792.653771 161.920099 
L 792.653771 161.159591 
L 791.396097 160.779336 
L 790.138423 161.159591 
L 790.138423 161.920099 
L 791.396097 162.300353 
z
" clip-path="url(#p3e932aa4ca)" style="fill: #440154; stroke: #440154"/>
    <path d="M 792.653771 155.075523 
L 792.653771 154.315014 
L 791.396097 153.93476 
L 790.138423 154.315014 
L 790.138423 155.075523 
L 791.396097 155.455777 
z
" clip-path="url(#p3e932aa4ca)" style="fill: #440154; stroke: #440154"/>
    <path d="M 792.653771 150.512472 
L 792.653771 149.751963 
L 791.396097 149.371709 
L 790.138423 149.751963 
L 790.138423 150.512472 
L 791.396097 150.892726 
z
" clip-path="url(#p3e932aa4ca)" style="fill: #440154; stroke: #440154"/>
    <path d="M 792.653771 145.949421 
L 792.653771 145.188912 
L 791.396097 144.808658 
L 790.138423 145.188912 
L 790.138423 145.949421 
L 791.396097 146.329675 
z
" clip-path="url(#p3e932aa4ca)" style="fill: #440154; stroke: #440154"/>
    <path d="M 792.653771 141.386369 
L 792.653771 140.625861 
L 791.396097 140.245607 
L 790.138423 140.625861 
L 790.138423 141.386369 
L 791.396097 141.766624 
z
" clip-path="url(#p3e932aa4ca)" style="fill: #440154; stroke: #440154"/>
    <path d="M 792.653771 134.541793 
L 792.653771 133.781284 
L 791.396097 133.40103 
L 790.138423 133.781284 
L 790.138423 134.541793 
L 791.396097 134.922047 
z
" clip-path="url(#p3e932aa4ca)" style="fill: #440154; stroke: #440154"/>
    <path d="M 795.169119 177.890778 
L 795.169119 177.130269 
L 793.911445 176.750015 
L 792.653771 177.130269 
L 792.653771 177.890778 
L 793.911445 178.271032 
z
" clip-path="url(#p3e932aa4ca)" style="fill: #440154; stroke: #440154"/>
    <path d="M 795.169119 173.327727 
L 795.169119 172.567218 
L 793.911445 172.186964 
L 792.653771 172.567218 
L 792.653771 173.327727 
L 793.911445 173.707981 
z
" clip-path="url(#p3e932aa4ca)" style="fill: #27808e; stroke: #27808e"/>
    <path d="M 795.169119 171.046201 
L 795.169119 170.285693 
L 793.911445 169.905439 
L 792.653771 170.285693 
L 792.653771 171.046201 
L 793.911445 171.426456 
z
" clip-path="url(#p3e932aa4ca)" style="fill: #27808e; stroke: #27808e"/>
    <path d="M 795.169119 168.764676 
L 795.169119 168.004167 
L 793.911445 167.623913 
L 792.653771 168.004167 
L 792.653771 168.764676 
L 793.911445 169.14493 
z
" clip-path="url(#p3e932aa4ca)" style="fill: #440154; stroke: #440154"/>
    <path d="M 795.169119 164.201625 
L 795.169119 163.441116 
L 793.911445 163.060862 
L 792.653771 163.441116 
L 792.653771 164.201625 
L 793.911445 164.581879 
z
" clip-path="url(#p3e932aa4ca)" style="fill: #27808e; stroke: #27808e"/>
    <path d="M 795.169119 159.638574 
L 795.169119 158.878065 
L 793.911445 158.497811 
L 792.653771 158.878065 
L 792.653771 159.638574 
L 793.911445 160.018828 
z
" clip-path="url(#p3e932aa4ca)" style="fill: #440154; stroke: #440154"/>
    <path d="M 795.169119 157.357048 
L 795.169119 156.59654 
L 793.911445 156.216285 
L 792.653771 156.59654 
L 792.653771 157.357048 
L 793.911445 157.737302 
z
" clip-path="url(#p3e932aa4ca)" style="fill: #3bbb75; stroke: #3bbb75"/>
    <path d="M 795.169119 152.793997 
L 795.169119 152.033489 
L 793.911445 151.653234 
L 792.653771 152.033489 
L 792.653771 152.793997 
L 793.911445 153.174251 
z
" clip-path="url(#p3e932aa4ca)" style="fill: #3bbb75; stroke: #3bbb75"/>
    <path d="M 795.169119 150.512472 
L 795.169119 149.751963 
L 793.911445 149.371709 
L 792.653771 149.751963 
L 792.653771 150.512472 
L 793.911445 150.892726 
z
" clip-path="url(#p3e932aa4ca)" style="fill: #440154; stroke: #440154"/>
    <path d="M 795.169119 145.949421 
L 795.169119 145.188912 
L 793.911445 144.808658 
L 792.653771 145.188912 
L 792.653771 145.949421 
L 793.911445 146.329675 
z
" clip-path="url(#p3e932aa4ca)" style="fill: #440154; stroke: #440154"/>
    <path d="M 795.169119 141.386369 
L 795.169119 140.625861 
L 793.911445 140.245607 
L 792.653771 140.625861 
L 792.653771 141.386369 
L 793.911445 141.766624 
z
" clip-path="url(#p3e932aa4ca)" style="fill: #27808e; stroke: #27808e"/>
    <path d="M 797.684467 180.172303 
L 797.684467 179.411795 
L 796.426793 179.031541 
L 795.169119 179.411795 
L 795.169119 180.172303 
L 796.426793 180.552558 
z
" clip-path="url(#p3e932aa4ca)" style="fill: #440154; stroke: #440154"/>
    <path d="M 797.684467 175.609252 
L 797.684467 174.848744 
L 796.426793 174.46849 
L 795.169119 174.848744 
L 795.169119 175.609252 
L 796.426793 175.989507 
z
" clip-path="url(#p3e932aa4ca)" style="fill: #440154; stroke: #440154"/>
    <path d="M 797.684467 168.764676 
L 797.684467 168.004167 
L 796.426793 167.623913 
L 795.169119 168.004167 
L 795.169119 168.764676 
L 796.426793 169.14493 
z
" clip-path="url(#p3e932aa4ca)" style="fill: #27808e; stroke: #27808e"/>
    <path d="M 797.684467 155.075523 
L 797.684467 154.315014 
L 796.426793 153.93476 
L 795.169119 154.315014 
L 795.169119 155.075523 
L 796.426793 155.455777 
z
" clip-path="url(#p3e932aa4ca)" style="fill: #440154; stroke: #440154"/>
    <path d="M 797.684467 152.793997 
L 797.684467 152.033489 
L 796.426793 151.653234 
L 795.169119 152.033489 
L 795.169119 152.793997 
L 796.426793 153.174251 
z
" clip-path="url(#p3e932aa4ca)" style="fill: #440154; stroke: #440154"/>
    <path d="M 797.684467 148.230946 
L 797.684467 147.470438 
L 796.426793 147.090183 
L 795.169119 147.470438 
L 795.169119 148.230946 
L 796.426793 148.6112 
z
" clip-path="url(#p3e932aa4ca)" style="fill: #3bbb75; stroke: #3bbb75"/>
    <path d="M 800.199815 173.327727 
L 800.199815 172.567218 
L 798.942141 172.186964 
L 797.684467 172.567218 
L 797.684467 173.327727 
L 798.942141 173.707981 
z
" clip-path="url(#p3e932aa4ca)" style="fill: #440154; stroke: #440154"/>
    <path d="M 800.199815 171.046201 
L 800.199815 170.285693 
L 798.942141 169.905439 
L 797.684467 170.285693 
L 797.684467 171.046201 
L 798.942141 171.426456 
z
" clip-path="url(#p3e932aa4ca)" style="fill: #440154; stroke: #440154"/>
    <path d="M 800.199815 148.230946 
L 800.199815 147.470438 
L 798.942141 147.090183 
L 797.684467 147.470438 
L 797.684467 148.230946 
L 798.942141 148.6112 
z
" clip-path="url(#p3e932aa4ca)" style="fill: #440154; stroke: #440154"/>
    <path d="M 800.199815 143.667895 
L 800.199815 142.907386 
L 798.942141 142.527132 
L 797.684467 142.907386 
L 797.684467 143.667895 
L 798.942141 144.048149 
z
" clip-path="url(#p3e932aa4ca)" style="fill: #440154; stroke: #440154"/>
    <path d="M 800.199815 141.386369 
L 800.199815 140.625861 
L 798.942141 140.245607 
L 797.684467 140.625861 
L 797.684467 141.386369 
L 798.942141 141.766624 
z
" clip-path="url(#p3e932aa4ca)" style="fill: #440154; stroke: #440154"/>
    <path d="M 802.715163 145.949421 
L 802.715163 145.188912 
L 801.457489 144.808658 
L 800.199815 145.188912 
L 800.199815 145.949421 
L 801.457489 146.329675 
z
" clip-path="url(#p3e932aa4ca)" style="fill: #440154; stroke: #440154"/>
    <path d="M 805.230511 173.327727 
L 805.230511 172.567218 
L 803.972837 172.186964 
L 802.715163 172.567218 
L 802.715163 173.327727 
L 803.972837 173.707981 
z
" clip-path="url(#p3e932aa4ca)" style="fill: #440154; stroke: #440154"/>
    <path d="M 805.230511 168.764676 
L 805.230511 168.004167 
L 803.972837 167.623913 
L 802.715163 168.004167 
L 802.715163 168.764676 
L 803.972837 169.14493 
z
" clip-path="url(#p3e932aa4ca)" style="fill: #440154; stroke: #440154"/>
    <path d="M 805.230511 136.823318 
L 805.230511 136.06281 
L 803.972837 135.682556 
L 802.715163 136.06281 
L 802.715163 136.823318 
L 803.972837 137.203573 
z
" clip-path="url(#p3e932aa4ca)" style="fill: #440154; stroke: #440154"/>
    <path d="M 810.261206 168.764676 
L 810.261206 168.004167 
L 809.003532 167.623913 
L 807.745858 168.004167 
L 807.745858 168.764676 
L 809.003532 169.14493 
z
" clip-path="url(#p3e932aa4ca)" style="fill: #440154; stroke: #440154"/>
    <path d="M 810.261206 141.386369 
L 810.261206 140.625861 
L 809.003532 140.245607 
L 807.745858 140.625861 
L 807.745858 141.386369 
L 809.003532 141.766624 
z
" clip-path="url(#p3e932aa4ca)" style="fill: #27808e; stroke: #27808e"/>
    <path d="M 810.261206 139.104844 
L 810.261206 138.344335 
L 809.003532 137.964081 
L 807.745858 138.344335 
L 807.745858 139.104844 
L 809.003532 139.485098 
z
" clip-path="url(#p3e932aa4ca)" style="fill: #440154; stroke: #440154"/>
    <path d="M 812.776554 164.201625 
L 812.776554 163.441116 
L 811.51888 163.060862 
L 810.261206 163.441116 
L 810.261206 164.201625 
L 811.51888 164.581879 
z
" clip-path="url(#p3e932aa4ca)" style="fill: #440154; stroke: #440154"/>
    <path d="M 812.776554 136.823318 
L 812.776554 136.06281 
L 811.51888 135.682556 
L 810.261206 136.06281 
L 810.261206 136.823318 
L 811.51888 137.203573 
z
" clip-path="url(#p3e932aa4ca)" style="fill: #440154; stroke: #440154"/>
    <path d="M 812.776554 134.541793 
L 812.776554 133.781284 
L 811.51888 133.40103 
L 810.261206 133.781284 
L 810.261206 134.541793 
L 811.51888 134.922047 
z
" clip-path="url(#p3e932aa4ca)" style="fill: #27808e; stroke: #27808e"/>
    <path d="M 817.80725 159.638574 
L 817.80725 158.878065 
L 816.549576 158.497811 
L 815.291902 158.878065 
L 815.291902 159.638574 
L 816.549576 160.018828 
z
" clip-path="url(#p3e932aa4ca)" style="fill: #440154; stroke: #440154"/>
    <path d="M 817.80725 134.541793 
L 817.80725 133.781284 
L 816.549576 133.40103 
L 815.291902 133.781284 
L 815.291902 134.541793 
L 816.549576 134.922047 
z
" clip-path="url(#p3e932aa4ca)" style="fill: #440154; stroke: #440154"/>
    <path d="M 820.322598 132.260267 
L 820.322598 131.499759 
L 819.064924 131.119505 
L 817.80725 131.499759 
L 817.80725 132.260267 
L 819.064924 132.640522 
z
" clip-path="url(#p3e932aa4ca)" style="fill: #440154; stroke: #440154"/>
    <path d="M 825.353294 150.512472 
L 825.353294 149.751963 
L 824.09562 149.371709 
L 822.837946 149.751963 
L 822.837946 150.512472 
L 824.09562 150.892726 
z
" clip-path="url(#p3e932aa4ca)" style="fill: #440154; stroke: #440154"/>
   </g>
   <g id="matplotlib.axis_5">
    <g id="xtick_163">
     <g id="line2d_180">
      <g>
       <use href="#m099f7e1c39" x="668.590475" y="271.104" style="stroke: #000000; stroke-width: 0.8"/>
      </g>
     </g>
     <g id="text_34">
      <text style="font-size: 10px; font-family: 'DejaVu Sans', 'Liberation Sans', sans-serif; text-anchor: middle" x="668.590475" y="286.182437" transform="rotate(-0 668.590475 286.182437)">0.48</text>
     </g>
    </g>
    <g id="xtick_164">
     <g id="line2d_181">
      <g>
       <use href="#m099f7e1c39" x="713.041089" y="271.104" style="stroke: #000000; stroke-width: 0.8"/>
      </g>
     </g>
     <g id="text_35">
      <text style="font-size: 10px; font-family: 'DejaVu Sans', 'Liberation Sans', sans-serif; text-anchor: middle" x="713.041089" y="286.182437" transform="rotate(-0 713.041089 286.182437)">0.49</text>
     </g>
    </g>
    <g id="xtick_165">
     <g id="line2d_182">
      <g>
       <use href="#m099f7e1c39" x="757.491703" y="271.104" style="stroke: #000000; stroke-width: 0.8"/>
      </g>
     </g>
     <g id="text_36">
      <text style="font-size: 10px; font-family: 'DejaVu Sans', 'Liberation Sans', sans-serif; text-anchor: middle" x="757.491703" y="286.182437" transform="rotate(-0 757.491703 286.182437)">0.50</text>
     </g>
    </g>
    <g id="xtick_166">
     <g id="line2d_183">
      <g>
       <use href="#m099f7e1c39" x="801.942317" y="271.104" style="stroke: #000000; stroke-width: 0.8"/>
      </g>
     </g>
     <g id="text_37">
      <text style="font-size: 10px; font-family: 'DejaVu Sans', 'Liberation Sans', sans-serif; text-anchor: middle" x="801.942317" y="286.182437" transform="rotate(-0 801.942317 286.182437)">0.51</text>
     </g>
    </g>
    <g id="text_38">
     <text style="font-size: 10px; font-family: 'DejaVu Sans', 'Liberation Sans', sans-serif; text-anchor: middle" x="750.024" y="299.380562" transform="rotate(-0 750.024 299.380562)">Original</text>
    </g>
   </g>
   <g id="matplotlib.axis_6">
    <g id="ytick_12">
     <g id="line2d_184">
      <g>
       <use href="#m580b80756e" x="666.768" y="269.281564" style="stroke: #000000; stroke-width: 0.8"/>
      </g>
     </g>
     <g id="text_39">
      <text style="font-size: 10px; font-family: 'DejaVu Sans', 'Liberation Sans', sans-serif; text-anchor: end" x="659.768" y="273.560782" transform="rotate(-0 659.768 273.560782)">0.480</text>
     </g>
    </g>
    <g id="ytick_13">
     <g id="line2d_185">
      <g>
       <use href="#m580b80756e" x="666.768" y="247.056731" style="stroke: #000000; stroke-width: 0.8"/>
      </g>
     </g>
     <g id="text_40">
      <text style="font-size: 10px; font-family: 'DejaVu Sans', 'Liberation Sans', sans-serif; text-anchor: end" x="659.768" y="251.335949" transform="rotate(-0 659.768 251.335949)">0.485</text>
     </g>
    </g>
    <g id="ytick_14">
     <g id="line2d_186">
      <g>
       <use href="#m580b80756e" x="666.768" y="224.831897" style="stroke: #000000; stroke-width: 0.8"/>
      </g>
     </g>
     <g id="text_41">
      <text style="font-size: 10px; font-family: 'DejaVu Sans', 'Liberation Sans', sans-serif; text-anchor: end" x="659.768" y="229.111116" transform="rotate(-0 659.768 229.111116)">0.490</text>
     </g>
    </g>
    <g id="ytick_15">
     <g id="line2d_187">
      <g>
       <use href="#m580b80756e" x="666.768" y="202.607064" style="stroke: #000000; stroke-width: 0.8"/>
      </g>
     </g>
     <g id="text_42">
      <text style="font-size: 10px; font-family: 'DejaVu Sans', 'Liberation Sans', sans-serif; text-anchor: end" x="659.768" y="206.886283" transform="rotate(-0 659.768 206.886283)">0.495</text>
     </g>
    </g>
    <g id="ytick_16">
     <g id="line2d_188">
      <g>
       <use href="#m580b80756e" x="666.768" y="180.382231" style="stroke: #000000; stroke-width: 0.8"/>
      </g>
     </g>
     <g id="text_43">
      <text style="font-size: 10px; font-family: 'DejaVu Sans', 'Liberation Sans', sans-serif; text-anchor: end" x="659.768" y="184.661450" transform="rotate(-0 659.768 184.661450)">0.500</text>
     </g>
    </g>
    <g id="ytick_17">
     <g id="line2d_189">
      <g>
       <use href="#m580b80756e" x="666.768" y="158.157398" style="stroke: #000000; stroke-width: 0.8"/>
      </g>
     </g>
     <g id="text_44">
      <text style="font-size: 10px; font-family: 'DejaVu Sans', 'Liberation Sans', sans-serif; text-anchor: end" x="659.768" y="162.436617" transform="rotate(-0 659.768 162.436617)">0.505</text>
     </g>
    </g>
    <g id="ytick_18">
     <g id="line2d_190">
      <g>
       <use href="#m580b80756e" x="666.768" y="135.932565" style="stroke: #000000; stroke-width: 0.8"/>
      </g>
     </g>
     <g id="text_45">
      <text style="font-size: 10px; font-family: 'DejaVu Sans', 'Liberation Sans', sans-serif; text-anchor: end" x="659.768" y="140.211784" transform="rotate(-0 659.768 140.211784)">0.510</text>
     </g>
    </g>
    <g id="ytick_19">
     <g id="line2d_191">
      <g>
       <use href="#m580b80756e" x="666.768" y="113.707732" style="stroke: #000000; stroke-width: 0.8"/>
      </g>
     </g>
     <g id="text_46">
      <text style="font-size: 10px; font-family: 'DejaVu Sans', 'Liberation Sans', sans-serif; text-anchor: end" x="659.768" y="117.986951" transform="rotate(-0 659.768 117.986951)">0.515</text>
     </g>
    </g>
    <g id="text_47">
     <text style="font-size: 10px; font-family: 'DejaVu Sans', 'Liberation Sans', sans-serif; text-anchor: middle" x="625.060187" y="187.872" transform="rotate(-90 625.060187 187.872)">Adjusted</text>
    </g>
   </g>
   <g id="line2d_192">
    <path d="M 674.369055 263.503107 
L 825.501143 112.374242 
" clip-path="url(#p3e932aa4ca)" style="fill: none; stroke-dasharray: 2.96,1.28; stroke-dashoffset: 0; stroke: #000000; stroke-width: 0.8"/>
   </g>
   <g id="patch_14">
    <path d="M 666.768 271.104 
L 666.768 104.64 
" style="fill: none; stroke: #000000; stroke-width: 0.8; stroke-linejoin: miter; stroke-linecap: square"/>
   </g>
   <g id="patch_15">
    <path d="M 833.28 271.104 
L 833.28 104.64 
" style="fill: none; stroke: #000000; stroke-width: 0.8; stroke-linejoin: miter; stroke-linecap: square"/>
   </g>
   <g id="patch_16">
    <path d="M 666.768 271.104 
L 833.28 271.104 
" style="fill: none; stroke: #000000; stroke-width: 0.8; stroke-linejoin: miter; stroke-linecap: square"/>
   </g>
   <g id="patch_17">
    <path d="M 666.768 104.64 
L 833.28 104.64 
" style="fill: none; stroke: #000000; stroke-width: 0.8; stroke-linejoin: miter; stroke-linecap: square"/>
   </g>
   <g id="text_48">
    <text style="font-size: 10px; font-family: 'DejaVu Sans', 'Liberation Sans', sans-serif; text-anchor: start" x="675.0936" y="121.041637" transform="rotate(-0 675.0936 121.041637)">r = 0.540</text>
   </g>
   <g id="text_49">
    <text style="font-size: 12px; font-family: 'DejaVu Sans', 'Liberation Sans', sans-serif; text-anchor: middle" x="750.024" y="98.64" transform="rotate(-0 750.024 98.64)">Adjusted vs Original</text>
   </g>
  </g>
  <g id="axes_4">
   <g id="patch_18">
    <path d="M 837.6 271.104 
L 846.336 271.104 
L 846.336 104.64 
L 837.6 104.64 
z
" style="fill: #ffffff"/>
   </g>
   <g id="matplotlib.axis_7">
    <g id="xtick_167">
     <g id="line2d_193">
      <g>
       <use href="#m099f7e1c39" x="837.6" y="271.104" style="stroke: #000000; stroke-width: 0.8"/>
      </g>
     </g>
     <g id="text_50">
      <text style="font-size: 10px; font-family: 'DejaVu Sans', 'Liberation Sans', sans-serif; text-anchor: middle" x="837.6" y="286.182437" transform="rotate(-0 837.6 286.182437)">0</text>
     </g>
    </g>
    <g id="xtick_168">
     <g id="line2d_194">
      <g>
       <use href="#m099f7e1c39" x="846.336" y="271.104" style="stroke: #000000; stroke-width: 0.8"/>
      </g>
     </g>
     <g id="text_51">
      <text style="font-size: 10px; font-family: 'DejaVu Sans', 'Liberation Sans', sans-serif; text-anchor: middle" x="846.336" y="286.182437" transform="rotate(-0 846.336 286.182437)">1</text>
     </g>
    </g>
   </g>
   <g id="matplotlib.axis_8">
    <g id="ytick_20">
     <g id="line2d_195">
      <g>
       <use href="#m580b80756e" x="837.6" y="271.104" style="stroke: #000000; stroke-width: 0.8"/>
      </g>
     </g>
     <g id="text_52">
      <text style="font-size: 10px; font-family: 'DejaVu Sans', 'Liberation Sans', sans-serif; text-anchor: end" x="830.6" y="275.383219" transform="rotate(-0 830.6 275.383219)">0.0</text>
     </g>
    </g>
    <g id="ytick_21">
     <g id="line2d_196">
      <g>
       <use href="#m580b80756e" x="837.6" y="237.8112" style="stroke: #000000; stroke-width: 0.8"/>
      </g>
     </g>
     <g id="text_53">
      <text style="font-size: 10px; font-family: 'DejaVu Sans', 'Liberation Sans', sans-serif; text-anchor: end" x="830.6" y="242.090419" transform="rotate(-0 830.6 242.090419)">0.2</text>
     </g>
    </g>
    <g id="ytick_22">
     <g id="line2d_197">
      <g>
       <use href="#m580b80756e" x="837.6" y="204.5184" style="stroke: #000000; stroke-width: 0.8"/>
      </g>
     </g>
     <g id="text_54">
      <text style="font-size: 10px; font-family: 'DejaVu Sans', 'Liberation Sans', sans-serif; text-anchor: end" x="830.6" y="208.797619" transform="rotate(-0 830.6 208.797619)">0.4</text>
     </g>
    </g>
    <g id="ytick_23">
     <g id="line2d_198">
      <g>
       <use href="#m580b80756e" x="837.6" y="171.2256" style="stroke: #000000; stroke-width: 0.8"/>
      </g>
     </g>
     <g id="text_55">
      <text style="font-size: 10px; font-family: 'DejaVu Sans', 'Liberation Sans', sans-serif; text-anchor: end" x="830.6" y="175.504819" transform="rotate(-0 830.6 175.504819)">0.6</text>
     </g>
    </g>
    <g id="ytick_24">
     <g id="line2d_199">
      <g>
       <use href="#m580b80756e" x="837.6" y="137.9328" style="stroke: #000000; stroke-width: 0.8"/>
      </g>
     </g>
     <g id="text_56">
      <text style="font-size: 10px; font-family: 'DejaVu Sans', 'Liberation Sans', sans-serif; text-anchor: end" x="830.6" y="142.212019" transform="rotate(-0 830.6 142.212019)">0.8</text>
     </g>
    </g>
    <g id="ytick_25">
     <g id="line2d_200">
      <g>
       <use href="#m580b80756e" x="837.6" y="104.64" style="stroke: #000000; stroke-width: 0.8"/>
      </g>
     </g>
     <g id="text_57">
      <text style="font-size: 10px; font-family: 'DejaVu Sans', 'Liberation Sans', sans-serif; text-anchor: end" x="830.6" y="108.919219" transform="rotate(-0 830.6 108.919219)">1.0</text>
     </g>
    </g>
   </g>
   <g id="patch_19">
    <path d="M 837.6 271.104 
L 837.6 104.64 
" style="fill: none; stroke: #000000; stroke-width: 0.8; stroke-linejoin: miter; stroke-linecap: square"/>
   </g>
   <g id="patch_20">
    <path d="M 846.336 271.104 
L 846.336 104.64 
" style="fill: none; stroke: #000000; stroke-width: 0.8; stroke-linejoin: miter; stroke-linecap: square"/>
   </g>
   <g id="patch_21">
    <path d="M 837.6 271.104 
L 846.336 271.104 
" style="fill: none; stroke: #000000; stroke-width: 0.8; stroke-linejoin: miter; stroke-linecap: square"/>
   </g>
   <g id="patch_22">
    <path d="M 837.6 104.64 
L 846.336 104.64 
" style="fill: none; stroke: #000000; stroke-width: 0.8; stroke-linejoin: miter; stroke-linecap: square"/>
   </g>
  </g>
 </g>
 <defs>
  <clipPath id="pf5aa613f86">
   <rect x="64.848" y="21.6" width="537.696" height="152.448"/>
  </clipPath>
  <clipPath id="p56263fce11">
   <rect x="64.848" y="202.128" width="537.696" height="151.872"/>
  </clipPath>
  <clipPath id="p3e932aa4ca">
   <rect x="666.768" y="104.64" width="166.512" height="166.464"/>
  </clipPath>
 </defs>
</svg>

</body></html>
